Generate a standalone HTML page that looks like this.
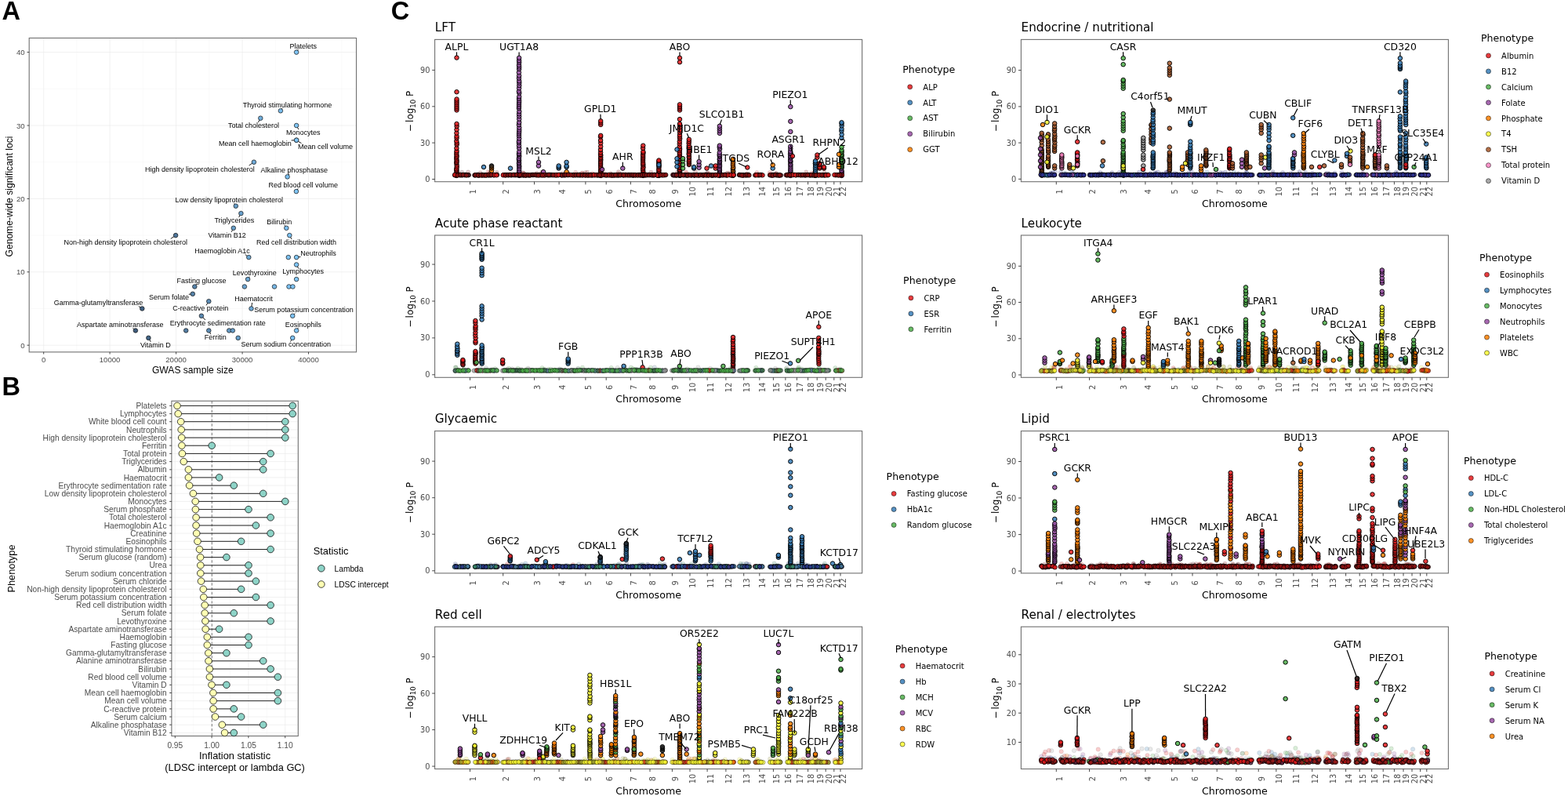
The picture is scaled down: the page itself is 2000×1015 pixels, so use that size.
<!DOCTYPE html>
<html><head><meta charset="utf-8"><title>Figure</title><style>
body{margin:0;background:#fff}
svg{display:block}
text{font-family:'Liberation Sans',Arial,sans-serif}
.big{font-size:32.5px;font-weight:bold;fill:#000}
.gmaj{stroke:#EBEBEB;stroke-width:0.7}
.gmin{stroke:#F4F4F4;stroke-width:0.5}
.bord{fill:none;stroke:#707070;stroke-width:1.1}
.tick{stroke:#333;stroke-width:0.9}
.tA{font-size:9.6px;fill:#4D4D4D}
.aA{font-size:12.1px;fill:#000}
.lA{font-size:9px;fill:#000}
.segA{stroke:#000;stroke-width:0.9}
.ptA{stroke:#111;stroke-width:0.7}
.tB{font-size:10.2px;fill:#4D4D4D}
.aB{font-size:12.8px;fill:#000}
.lgB{font-size:10.2px;fill:#000}
.segB{stroke:#222;stroke-width:1}
.ptB{stroke:#111;stroke-width:0.8}
.dash{stroke:#555;stroke-width:0.8;stroke-dasharray:3.2 2.6}
.dv{font-family:'DejaVu Sans',sans-serif}
.ttl{font-size:15.2px;fill:#000}
.tC{font-size:9.8px;fill:#4D4D4D}
.aC{font-size:12.6px;fill:#000}
.gl{font-size:12.4px;fill:#000}
.lgt{font-size:12.6px;fill:#000}
.lgl{font-size:10px;fill:#000}
.segC{stroke:#000;stroke-width:1.2}
.pc circle{stroke:#000;stroke-width:0.55;stroke-opacity:.85;fill-opacity:.85}
.bd circle{stroke:#000;stroke-width:0.5;stroke-opacity:.55;fill-opacity:.55}
.fd circle{stroke:#000;stroke-width:0.4;stroke-opacity:.15;fill-opacity:.18}
.lg circle{stroke:#000;stroke-width:0.5;fill-opacity:.85}
polyline{fill:none;stroke:none}
.F5a1a2a{marker:url(#F5a1a2a)}
.F8a1212{marker:url(#F8a1212)}
.FE41A1C{marker:url(#FE41A1C)}
.PE41A1C{marker:url(#PE41A1C)}
.P377EB8{marker:url(#P377EB8)}
.PFF7F00{marker:url(#PFF7F00)}
.P222222{marker:url(#P222222)}
.P984EA3{marker:url(#P984EA3)}
.P4DAF4A{marker:url(#P4DAF4A)}
.B5a1a2a{marker:url(#B5a1a2a)}
.BE41A1C{marker:url(#BE41A1C)}
.B8a1212{marker:url(#B8a1212)}
.F2b2f8f{marker:url(#F2b2f8f)}
.F3a3aa0{marker:url(#F3a3aa0)}
.F377EB8{marker:url(#F377EB8)}
.F984EA3{marker:url(#F984EA3)}
.PA65628{marker:url(#PA65628)}
.PFFFF33{marker:url(#PFFFF33)}
.PF781BF{marker:url(#PF781BF)}
.P999999{marker:url(#P999999)}
.B377EB8{marker:url(#B377EB8)}
.B984EA3{marker:url(#B984EA3)}
.B3a3aa0{marker:url(#B3a3aa0)}
.B2b2f8f{marker:url(#B2b2f8f)}
.F4DAF4A{marker:url(#F4DAF4A)}
.F999999{marker:url(#F999999)}
.F5a7a9a{marker:url(#F5a7a9a)}
.F3a6a4a{marker:url(#F3a6a4a)}
.CE41A1C{marker:url(#CE41A1C)}
.C999999{marker:url(#C999999)}
.C5a7a9a{marker:url(#C5a7a9a)}
.C3a6a4a{marker:url(#C3a6a4a)}
.C4DAF4A{marker:url(#C4DAF4A)}
.FFF7F00{marker:url(#FFF7F00)}
.Fa8b030{marker:url(#Fa8b030)}
.FFFFF33{marker:url(#FFFFF33)}
.F6a6a20{marker:url(#F6a6a20)}
.C6a6a20{marker:url(#C6a6a20)}
.CFF7F00{marker:url(#CFF7F00)}
.Ca8b030{marker:url(#Ca8b030)}
.CFFFF33{marker:url(#CFFFF33)}
.F2a3a8a{marker:url(#F2a3a8a)}
.F3a8a6a{marker:url(#F3a8a6a)}
.F4a7a9a{marker:url(#F4a7a9a)}
.B4a7a9a{marker:url(#B4a7a9a)}
.B3a8a6a{marker:url(#B3a8a6a)}
.B2a3a8a{marker:url(#B2a3a8a)}
.Fa0a030{marker:url(#Fa0a030)}
.Fb04020{marker:url(#Fb04020)}
.Cb04020{marker:url(#Cb04020)}
.Ca0a030{marker:url(#Ca0a030)}
.B4DAF4A{marker:url(#B4DAF4A)}
.B5a2a4a{marker:url(#B5a2a4a)}
.B9a1a1a{marker:url(#B9a1a1a)}</style></head><body>
<svg width="2000" height="1015" viewBox="0 0 2000 1015">
<rect width="2000" height="1015" fill="#fff"/>
<defs><marker id="F5a1a2a" markerUnits="userSpaceOnUse" markerWidth="8" markerHeight="8" refX="4" refY="4" overflow="visible"><circle cx="4" cy="4" r="2.7" fill="#5a1a2a" fill-opacity="0.22" stroke="#000" stroke-width="0.5" stroke-opacity="0.15"/></marker><marker id="F8a1212" markerUnits="userSpaceOnUse" markerWidth="8" markerHeight="8" refX="4" refY="4" overflow="visible"><circle cx="4" cy="4" r="2.7" fill="#8a1212" fill-opacity="0.22" stroke="#000" stroke-width="0.5" stroke-opacity="0.15"/></marker><marker id="FE41A1C" markerUnits="userSpaceOnUse" markerWidth="8" markerHeight="8" refX="4" refY="4" overflow="visible"><circle cx="4" cy="4" r="2.7" fill="#E41A1C" fill-opacity="0.22" stroke="#000" stroke-width="0.5" stroke-opacity="0.15"/></marker><marker id="PE41A1C" markerUnits="userSpaceOnUse" markerWidth="8" markerHeight="8" refX="4" refY="4" overflow="visible"><circle cx="4" cy="4" r="2.75" fill="#E41A1C" fill-opacity="0.85" stroke="#000" stroke-width="0.95" stroke-opacity="1"/></marker><marker id="P377EB8" markerUnits="userSpaceOnUse" markerWidth="8" markerHeight="8" refX="4" refY="4" overflow="visible"><circle cx="4" cy="4" r="2.75" fill="#377EB8" fill-opacity="0.85" stroke="#000" stroke-width="0.95" stroke-opacity="1"/></marker><marker id="PFF7F00" markerUnits="userSpaceOnUse" markerWidth="8" markerHeight="8" refX="4" refY="4" overflow="visible"><circle cx="4" cy="4" r="2.75" fill="#FF7F00" fill-opacity="0.85" stroke="#000" stroke-width="0.95" stroke-opacity="1"/></marker><marker id="P222222" markerUnits="userSpaceOnUse" markerWidth="8" markerHeight="8" refX="4" refY="4" overflow="visible"><circle cx="4" cy="4" r="2.75" fill="#222222" fill-opacity="0.85" stroke="#000" stroke-width="0.95" stroke-opacity="1"/></marker><marker id="P984EA3" markerUnits="userSpaceOnUse" markerWidth="8" markerHeight="8" refX="4" refY="4" overflow="visible"><circle cx="4" cy="4" r="2.75" fill="#984EA3" fill-opacity="0.85" stroke="#000" stroke-width="0.95" stroke-opacity="1"/></marker><marker id="P4DAF4A" markerUnits="userSpaceOnUse" markerWidth="8" markerHeight="8" refX="4" refY="4" overflow="visible"><circle cx="4" cy="4" r="2.75" fill="#4DAF4A" fill-opacity="0.85" stroke="#000" stroke-width="0.95" stroke-opacity="1"/></marker><marker id="B5a1a2a" markerUnits="userSpaceOnUse" markerWidth="8" markerHeight="8" refX="4" refY="4" overflow="visible"><circle cx="4" cy="4" r="2.7" fill="#5a1a2a" fill-opacity="0.85" stroke="#000" stroke-width="0.85" stroke-opacity="0.85"/></marker><marker id="BE41A1C" markerUnits="userSpaceOnUse" markerWidth="8" markerHeight="8" refX="4" refY="4" overflow="visible"><circle cx="4" cy="4" r="2.7" fill="#E41A1C" fill-opacity="0.85" stroke="#000" stroke-width="0.85" stroke-opacity="0.85"/></marker><marker id="B8a1212" markerUnits="userSpaceOnUse" markerWidth="8" markerHeight="8" refX="4" refY="4" overflow="visible"><circle cx="4" cy="4" r="2.7" fill="#8a1212" fill-opacity="0.85" stroke="#000" stroke-width="0.85" stroke-opacity="0.85"/></marker><marker id="F2b2f8f" markerUnits="userSpaceOnUse" markerWidth="8" markerHeight="8" refX="4" refY="4" overflow="visible"><circle cx="4" cy="4" r="2.7" fill="#2b2f8f" fill-opacity="0.22" stroke="#000" stroke-width="0.5" stroke-opacity="0.15"/></marker><marker id="F3a3aa0" markerUnits="userSpaceOnUse" markerWidth="8" markerHeight="8" refX="4" refY="4" overflow="visible"><circle cx="4" cy="4" r="2.7" fill="#3a3aa0" fill-opacity="0.22" stroke="#000" stroke-width="0.5" stroke-opacity="0.15"/></marker><marker id="F377EB8" markerUnits="userSpaceOnUse" markerWidth="8" markerHeight="8" refX="4" refY="4" overflow="visible"><circle cx="4" cy="4" r="2.7" fill="#377EB8" fill-opacity="0.22" stroke="#000" stroke-width="0.5" stroke-opacity="0.15"/></marker><marker id="F984EA3" markerUnits="userSpaceOnUse" markerWidth="8" markerHeight="8" refX="4" refY="4" overflow="visible"><circle cx="4" cy="4" r="2.7" fill="#984EA3" fill-opacity="0.22" stroke="#000" stroke-width="0.5" stroke-opacity="0.15"/></marker><marker id="PA65628" markerUnits="userSpaceOnUse" markerWidth="8" markerHeight="8" refX="4" refY="4" overflow="visible"><circle cx="4" cy="4" r="2.75" fill="#A65628" fill-opacity="0.85" stroke="#000" stroke-width="0.95" stroke-opacity="1"/></marker><marker id="PFFFF33" markerUnits="userSpaceOnUse" markerWidth="8" markerHeight="8" refX="4" refY="4" overflow="visible"><circle cx="4" cy="4" r="2.75" fill="#FFFF33" fill-opacity="0.85" stroke="#000" stroke-width="0.95" stroke-opacity="1"/></marker><marker id="PF781BF" markerUnits="userSpaceOnUse" markerWidth="8" markerHeight="8" refX="4" refY="4" overflow="visible"><circle cx="4" cy="4" r="2.75" fill="#F781BF" fill-opacity="0.85" stroke="#000" stroke-width="0.95" stroke-opacity="1"/></marker><marker id="P999999" markerUnits="userSpaceOnUse" markerWidth="8" markerHeight="8" refX="4" refY="4" overflow="visible"><circle cx="4" cy="4" r="2.75" fill="#999999" fill-opacity="0.85" stroke="#000" stroke-width="0.95" stroke-opacity="1"/></marker><marker id="B377EB8" markerUnits="userSpaceOnUse" markerWidth="8" markerHeight="8" refX="4" refY="4" overflow="visible"><circle cx="4" cy="4" r="2.7" fill="#377EB8" fill-opacity="0.85" stroke="#000" stroke-width="0.85" stroke-opacity="0.85"/></marker><marker id="B984EA3" markerUnits="userSpaceOnUse" markerWidth="8" markerHeight="8" refX="4" refY="4" overflow="visible"><circle cx="4" cy="4" r="2.7" fill="#984EA3" fill-opacity="0.85" stroke="#000" stroke-width="0.85" stroke-opacity="0.85"/></marker><marker id="B3a3aa0" markerUnits="userSpaceOnUse" markerWidth="8" markerHeight="8" refX="4" refY="4" overflow="visible"><circle cx="4" cy="4" r="2.7" fill="#3a3aa0" fill-opacity="0.85" stroke="#000" stroke-width="0.85" stroke-opacity="0.85"/></marker><marker id="B2b2f8f" markerUnits="userSpaceOnUse" markerWidth="8" markerHeight="8" refX="4" refY="4" overflow="visible"><circle cx="4" cy="4" r="2.7" fill="#2b2f8f" fill-opacity="0.85" stroke="#000" stroke-width="0.85" stroke-opacity="0.85"/></marker><marker id="F4DAF4A" markerUnits="userSpaceOnUse" markerWidth="8" markerHeight="8" refX="4" refY="4" overflow="visible"><circle cx="4" cy="4" r="2.7" fill="#4DAF4A" fill-opacity="0.22" stroke="#000" stroke-width="0.5" stroke-opacity="0.15"/></marker><marker id="F999999" markerUnits="userSpaceOnUse" markerWidth="8" markerHeight="8" refX="4" refY="4" overflow="visible"><circle cx="4" cy="4" r="2.7" fill="#999999" fill-opacity="0.22" stroke="#000" stroke-width="0.5" stroke-opacity="0.15"/></marker><marker id="F5a7a9a" markerUnits="userSpaceOnUse" markerWidth="8" markerHeight="8" refX="4" refY="4" overflow="visible"><circle cx="4" cy="4" r="2.7" fill="#5a7a9a" fill-opacity="0.22" stroke="#000" stroke-width="0.5" stroke-opacity="0.15"/></marker><marker id="F3a6a4a" markerUnits="userSpaceOnUse" markerWidth="8" markerHeight="8" refX="4" refY="4" overflow="visible"><circle cx="4" cy="4" r="2.7" fill="#3a6a4a" fill-opacity="0.22" stroke="#000" stroke-width="0.5" stroke-opacity="0.15"/></marker><marker id="CE41A1C" markerUnits="userSpaceOnUse" markerWidth="8" markerHeight="8" refX="4" refY="4" overflow="visible"><circle cx="4" cy="4" r="2.7" fill="#E41A1C" fill-opacity="0.7" stroke="#000" stroke-width="0.7" stroke-opacity="0.5"/></marker><marker id="C999999" markerUnits="userSpaceOnUse" markerWidth="8" markerHeight="8" refX="4" refY="4" overflow="visible"><circle cx="4" cy="4" r="2.7" fill="#999999" fill-opacity="0.7" stroke="#000" stroke-width="0.7" stroke-opacity="0.5"/></marker><marker id="C5a7a9a" markerUnits="userSpaceOnUse" markerWidth="8" markerHeight="8" refX="4" refY="4" overflow="visible"><circle cx="4" cy="4" r="2.7" fill="#5a7a9a" fill-opacity="0.7" stroke="#000" stroke-width="0.7" stroke-opacity="0.5"/></marker><marker id="C3a6a4a" markerUnits="userSpaceOnUse" markerWidth="8" markerHeight="8" refX="4" refY="4" overflow="visible"><circle cx="4" cy="4" r="2.7" fill="#3a6a4a" fill-opacity="0.7" stroke="#000" stroke-width="0.7" stroke-opacity="0.5"/></marker><marker id="C4DAF4A" markerUnits="userSpaceOnUse" markerWidth="8" markerHeight="8" refX="4" refY="4" overflow="visible"><circle cx="4" cy="4" r="2.7" fill="#4DAF4A" fill-opacity="0.7" stroke="#000" stroke-width="0.7" stroke-opacity="0.5"/></marker><marker id="FFF7F00" markerUnits="userSpaceOnUse" markerWidth="8" markerHeight="8" refX="4" refY="4" overflow="visible"><circle cx="4" cy="4" r="2.7" fill="#FF7F00" fill-opacity="0.22" stroke="#000" stroke-width="0.5" stroke-opacity="0.15"/></marker><marker id="Fa8b030" markerUnits="userSpaceOnUse" markerWidth="8" markerHeight="8" refX="4" refY="4" overflow="visible"><circle cx="4" cy="4" r="2.7" fill="#a8b030" fill-opacity="0.22" stroke="#000" stroke-width="0.5" stroke-opacity="0.15"/></marker><marker id="FFFFF33" markerUnits="userSpaceOnUse" markerWidth="8" markerHeight="8" refX="4" refY="4" overflow="visible"><circle cx="4" cy="4" r="2.7" fill="#FFFF33" fill-opacity="0.22" stroke="#000" stroke-width="0.5" stroke-opacity="0.15"/></marker><marker id="F6a6a20" markerUnits="userSpaceOnUse" markerWidth="8" markerHeight="8" refX="4" refY="4" overflow="visible"><circle cx="4" cy="4" r="2.7" fill="#6a6a20" fill-opacity="0.22" stroke="#000" stroke-width="0.5" stroke-opacity="0.15"/></marker><marker id="C6a6a20" markerUnits="userSpaceOnUse" markerWidth="8" markerHeight="8" refX="4" refY="4" overflow="visible"><circle cx="4" cy="4" r="2.7" fill="#6a6a20" fill-opacity="0.7" stroke="#000" stroke-width="0.7" stroke-opacity="0.5"/></marker><marker id="CFF7F00" markerUnits="userSpaceOnUse" markerWidth="8" markerHeight="8" refX="4" refY="4" overflow="visible"><circle cx="4" cy="4" r="2.7" fill="#FF7F00" fill-opacity="0.7" stroke="#000" stroke-width="0.7" stroke-opacity="0.5"/></marker><marker id="Ca8b030" markerUnits="userSpaceOnUse" markerWidth="8" markerHeight="8" refX="4" refY="4" overflow="visible"><circle cx="4" cy="4" r="2.7" fill="#a8b030" fill-opacity="0.7" stroke="#000" stroke-width="0.7" stroke-opacity="0.5"/></marker><marker id="CFFFF33" markerUnits="userSpaceOnUse" markerWidth="8" markerHeight="8" refX="4" refY="4" overflow="visible"><circle cx="4" cy="4" r="2.7" fill="#FFFF33" fill-opacity="0.7" stroke="#000" stroke-width="0.7" stroke-opacity="0.5"/></marker><marker id="F2a3a8a" markerUnits="userSpaceOnUse" markerWidth="8" markerHeight="8" refX="4" refY="4" overflow="visible"><circle cx="4" cy="4" r="2.7" fill="#2a3a8a" fill-opacity="0.22" stroke="#000" stroke-width="0.5" stroke-opacity="0.15"/></marker><marker id="F3a8a6a" markerUnits="userSpaceOnUse" markerWidth="8" markerHeight="8" refX="4" refY="4" overflow="visible"><circle cx="4" cy="4" r="2.7" fill="#3a8a6a" fill-opacity="0.22" stroke="#000" stroke-width="0.5" stroke-opacity="0.15"/></marker><marker id="F4a7a9a" markerUnits="userSpaceOnUse" markerWidth="8" markerHeight="8" refX="4" refY="4" overflow="visible"><circle cx="4" cy="4" r="2.7" fill="#4a7a9a" fill-opacity="0.22" stroke="#000" stroke-width="0.5" stroke-opacity="0.15"/></marker><marker id="B4a7a9a" markerUnits="userSpaceOnUse" markerWidth="8" markerHeight="8" refX="4" refY="4" overflow="visible"><circle cx="4" cy="4" r="2.7" fill="#4a7a9a" fill-opacity="0.85" stroke="#000" stroke-width="0.85" stroke-opacity="0.85"/></marker><marker id="B3a8a6a" markerUnits="userSpaceOnUse" markerWidth="8" markerHeight="8" refX="4" refY="4" overflow="visible"><circle cx="4" cy="4" r="2.7" fill="#3a8a6a" fill-opacity="0.85" stroke="#000" stroke-width="0.85" stroke-opacity="0.85"/></marker><marker id="B2a3a8a" markerUnits="userSpaceOnUse" markerWidth="8" markerHeight="8" refX="4" refY="4" overflow="visible"><circle cx="4" cy="4" r="2.7" fill="#2a3a8a" fill-opacity="0.85" stroke="#000" stroke-width="0.85" stroke-opacity="0.85"/></marker><marker id="Fa0a030" markerUnits="userSpaceOnUse" markerWidth="8" markerHeight="8" refX="4" refY="4" overflow="visible"><circle cx="4" cy="4" r="2.7" fill="#a0a030" fill-opacity="0.22" stroke="#000" stroke-width="0.5" stroke-opacity="0.15"/></marker><marker id="Fb04020" markerUnits="userSpaceOnUse" markerWidth="8" markerHeight="8" refX="4" refY="4" overflow="visible"><circle cx="4" cy="4" r="2.7" fill="#b04020" fill-opacity="0.22" stroke="#000" stroke-width="0.5" stroke-opacity="0.15"/></marker><marker id="Cb04020" markerUnits="userSpaceOnUse" markerWidth="8" markerHeight="8" refX="4" refY="4" overflow="visible"><circle cx="4" cy="4" r="2.7" fill="#b04020" fill-opacity="0.7" stroke="#000" stroke-width="0.7" stroke-opacity="0.5"/></marker><marker id="Ca0a030" markerUnits="userSpaceOnUse" markerWidth="8" markerHeight="8" refX="4" refY="4" overflow="visible"><circle cx="4" cy="4" r="2.7" fill="#a0a030" fill-opacity="0.7" stroke="#000" stroke-width="0.7" stroke-opacity="0.5"/></marker><marker id="B4DAF4A" markerUnits="userSpaceOnUse" markerWidth="8" markerHeight="8" refX="4" refY="4" overflow="visible"><circle cx="4" cy="4" r="2.7" fill="#4DAF4A" fill-opacity="0.85" stroke="#000" stroke-width="0.85" stroke-opacity="0.85"/></marker><marker id="B5a2a4a" markerUnits="userSpaceOnUse" markerWidth="8" markerHeight="8" refX="4" refY="4" overflow="visible"><circle cx="4" cy="4" r="2.7" fill="#5a2a4a" fill-opacity="0.85" stroke="#000" stroke-width="0.85" stroke-opacity="0.85"/></marker><marker id="B9a1a1a" markerUnits="userSpaceOnUse" markerWidth="8" markerHeight="8" refX="4" refY="4" overflow="visible"><circle cx="4" cy="4" r="2.7" fill="#9a1a1a" fill-opacity="0.85" stroke="#000" stroke-width="0.85" stroke-opacity="0.85"/></marker></defs>
<text class="big" x="2.6" y="25.2">A</text>
<text class="big" x="2.6" y="504.4">B</text>
<text class="big" x="498.8" y="25.2">C</text>
<rect x="37.2" y="48.5" width="417.3" height="400.4" fill="#fff"/>
<line class="gmin" x1="97.9" y1="48.5" x2="97.9" y2="448.9"/>
<line class="gmin" x1="182.4" y1="48.5" x2="182.4" y2="448.9"/>
<line class="gmin" x1="266.8" y1="48.5" x2="266.8" y2="448.9"/>
<line class="gmin" x1="351.3" y1="48.5" x2="351.3" y2="448.9"/>
<line class="gmin" x1="435.7" y1="48.5" x2="435.7" y2="448.9"/>
<line class="gmin" x1="37.2" y1="393.5" x2="454.5" y2="393.5"/>
<line class="gmin" x1="37.2" y1="300.1" x2="454.5" y2="300.1"/>
<line class="gmin" x1="37.2" y1="206.7" x2="454.5" y2="206.7"/>
<line class="gmin" x1="37.2" y1="113.3" x2="454.5" y2="113.3"/>
<line class="gmaj" x1="55.7" y1="48.5" x2="55.7" y2="448.9"/>
<line class="gmaj" x1="140.1" y1="48.5" x2="140.1" y2="448.9"/>
<line class="gmaj" x1="224.6" y1="48.5" x2="224.6" y2="448.9"/>
<line class="gmaj" x1="309.1" y1="48.5" x2="309.1" y2="448.9"/>
<line class="gmaj" x1="393.5" y1="48.5" x2="393.5" y2="448.9"/>
<line class="gmaj" x1="37.2" y1="440.2" x2="454.5" y2="440.2"/>
<line class="gmaj" x1="37.2" y1="346.8" x2="454.5" y2="346.8"/>
<line class="gmaj" x1="37.2" y1="253.4" x2="454.5" y2="253.4"/>
<line class="gmaj" x1="37.2" y1="160" x2="454.5" y2="160"/>
<line class="gmaj" x1="37.2" y1="66.6" x2="454.5" y2="66.6"/>
<rect class="bord" x="37.2" y="48.5" width="417.3" height="400.4"/>
<line class="tick" x1="34.5" y1="440.2" x2="37.2" y2="440.2"/>
<text class="tA" text-anchor="end" x="31.6" y="443.7">0</text>
<line class="tick" x1="34.5" y1="346.8" x2="37.2" y2="346.8"/>
<text class="tA" text-anchor="end" x="31.6" y="350.3">10</text>
<line class="tick" x1="34.5" y1="253.4" x2="37.2" y2="253.4"/>
<text class="tA" text-anchor="end" x="31.6" y="256.9">20</text>
<line class="tick" x1="34.5" y1="160" x2="37.2" y2="160"/>
<text class="tA" text-anchor="end" x="31.6" y="163.5">30</text>
<line class="tick" x1="34.5" y1="66.6" x2="37.2" y2="66.6"/>
<text class="tA" text-anchor="end" x="31.6" y="70.1">40</text>
<line class="tick" x1="55.7" y1="448.9" x2="55.7" y2="451.6"/>
<text class="tA" text-anchor="middle" x="55.7" y="461.6">0</text>
<line class="tick" x1="140.1" y1="448.9" x2="140.1" y2="451.6"/>
<text class="tA" text-anchor="middle" x="140.1" y="461.6">10000</text>
<line class="tick" x1="224.6" y1="448.9" x2="224.6" y2="451.6"/>
<text class="tA" text-anchor="middle" x="224.6" y="461.6">20000</text>
<line class="tick" x1="309.1" y1="448.9" x2="309.1" y2="451.6"/>
<text class="tA" text-anchor="middle" x="309.1" y="461.6">30000</text>
<line class="tick" x1="393.5" y1="448.9" x2="393.5" y2="451.6"/>
<text class="tA" text-anchor="middle" x="393.5" y="461.6">40000</text>
<text class="aA" text-anchor="middle" x="245.8" y="475.5">GWAS sample size</text>
<text class="aA" text-anchor="middle" transform="translate(15.6 250.5) rotate(-90)">Genome-wide significant loci</text>
<line class="segA" x1="378.1" y1="66.6" x2="380.4" y2="63"/>
<line class="segA" x1="357.9" y1="141.3" x2="360.1" y2="137.9"/>
<line class="segA" x1="332.3" y1="150.7" x2="329.4" y2="156"/>
<line class="segA" x1="378.1" y1="160" x2="380.9" y2="165.1"/>
<line class="segA" x1="378.1" y1="178.7" x2="371.6" y2="179"/>
<line class="segA" x1="378.1" y1="178.7" x2="384.5" y2="182.8"/>
<line class="segA" x1="323.9" y1="206.7" x2="317.6" y2="211"/>
<line class="segA" x1="366.6" y1="225.4" x2="368.9" y2="221.6"/>
<line class="segA" x1="377.9" y1="244.1" x2="380.3" y2="240.3"/>
<line class="segA" x1="300.8" y1="262.7" x2="298.6" y2="259.3"/>
<line class="segA" x1="307.4" y1="272.1" x2="304.6" y2="277.1"/>
<line class="segA" x1="365.3" y1="290.8" x2="362.9" y2="287.1"/>
<line class="segA" x1="297.8" y1="290.8" x2="295.2" y2="295.8"/>
<line class="segA" x1="369.3" y1="300.1" x2="372.1" y2="305.2"/>
<line class="segA" x1="224.1" y1="300.1" x2="217.8" y2="304.4"/>
<line class="segA" x1="317.3" y1="328.1" x2="312.6" y2="324.4"/>
<line class="segA" x1="378.1" y1="328.1" x2="383.4" y2="327.5"/>
<line class="segA" x1="378.1" y1="337.5" x2="380.9" y2="342.6"/>
<line class="segA" x1="316.1" y1="356.1" x2="318.3" y2="352.6"/>
<line class="segA" x1="248.3" y1="365.5" x2="250.6" y2="361.9"/>
<line class="segA" x1="245.8" y1="374.8" x2="240.8" y2="375.3"/>
<line class="segA" x1="266.3" y1="384.2" x2="263" y2="389.4"/>
<line class="segA" x1="320.5" y1="393.5" x2="321.6" y2="386"/>
<line class="segA" x1="181.3" y1="393.5" x2="176.8" y2="390.5"/>
<line class="segA" x1="373.2" y1="402.8" x2="376.2" y2="399.5"/>
<line class="segA" x1="256.9" y1="402.8" x2="261.9" y2="408"/>
<line class="segA" x1="266.3" y1="421.5" x2="268.9" y2="426.3"/>
<line class="segA" x1="378.1" y1="421.5" x2="380.4" y2="417.9"/>
<line class="segA" x1="172.9" y1="421.5" x2="169.4" y2="418.2"/>
<line class="segA" x1="373.2" y1="430.9" x2="370.5" y2="435.7"/>
<line class="segA" x1="189.4" y1="430.9" x2="192.2" y2="435.8"/>
<circle class="ptA" cx="378.1" cy="66.6" r="2.8" fill="#80c6f7"/>
<circle class="ptA" cx="357.9" cy="141.3" r="2.8" fill="#7abceb"/>
<circle class="ptA" cx="332.3" cy="150.7" r="2.8" fill="#71aedc"/>
<circle class="ptA" cx="378.1" cy="160" r="2.8" fill="#80c6f7"/>
<circle class="ptA" cx="378.1" cy="178.7" r="2.8" fill="#80c6f7"/>
<circle class="ptA" cx="378.1" cy="178.7" r="2.8" fill="#80c6f7"/>
<circle class="ptA" cx="323.9" cy="206.7" r="2.8" fill="#6faad7"/>
<circle class="ptA" cx="366.6" cy="225.4" r="2.8" fill="#7cc0f0"/>
<circle class="ptA" cx="377.9" cy="244.1" r="2.8" fill="#80c6f7"/>
<circle class="ptA" cx="300.8" cy="262.7" r="2.8" fill="#679ec9"/>
<circle class="ptA" cx="307.4" cy="272.1" r="2.8" fill="#69a1cd"/>
<circle class="ptA" cx="365.3" cy="290.8" r="2.8" fill="#7cbfef"/>
<circle class="ptA" cx="297.8" cy="290.8" r="2.8" fill="#669dc7"/>
<circle class="ptA" cx="369.3" cy="300.1" r="2.8" fill="#7dc1f2"/>
<circle class="ptA" cx="224.1" cy="300.1" r="2.8" fill="#4e769b"/>
<circle class="ptA" cx="317.3" cy="328.1" r="2.8" fill="#6ca7d3"/>
<circle class="ptA" cx="367.8" cy="328.1" r="2.8" fill="#7dc1f1"/>
<circle class="ptA" cx="378.1" cy="328.1" r="2.8" fill="#80c6f7"/>
<circle class="ptA" cx="378.1" cy="337.5" r="2.8" fill="#80c6f7"/>
<circle class="ptA" cx="316.1" cy="356.1" r="2.8" fill="#6ca6d2"/>
<circle class="ptA" cx="378.1" cy="356.1" r="2.8" fill="#80c6f7"/>
<circle class="ptA" cx="311.9" cy="365.5" r="2.8" fill="#6ba4d0"/>
<circle class="ptA" cx="350" cy="365.5" r="2.8" fill="#77b7e6"/>
<circle class="ptA" cx="368.5" cy="365.5" r="2.8" fill="#7dc1f1"/>
<circle class="ptA" cx="373.4" cy="365.5" r="2.8" fill="#7ec4f4"/>
<circle class="ptA" cx="248.3" cy="365.5" r="2.8" fill="#5683aa"/>
<circle class="ptA" cx="245.8" cy="374.8" r="2.8" fill="#5582a8"/>
<circle class="ptA" cx="266.3" cy="384.2" r="2.8" fill="#5c8cb5"/>
<circle class="ptA" cx="320.5" cy="393.5" r="2.8" fill="#6da8d5"/>
<circle class="ptA" cx="181.3" cy="393.5" r="2.8" fill="#416082"/>
<circle class="ptA" cx="373.2" cy="402.8" r="2.8" fill="#7ec3f4"/>
<circle class="ptA" cx="256.9" cy="402.8" r="2.8" fill="#5987af"/>
<circle class="ptA" cx="237.2" cy="421.5" r="2.8" fill="#537da3"/>
<circle class="ptA" cx="266.3" cy="421.5" r="2.8" fill="#5c8cb5"/>
<circle class="ptA" cx="292.2" cy="421.5" r="2.8" fill="#649ac4"/>
<circle class="ptA" cx="296.8" cy="421.5" r="2.8" fill="#669cc7"/>
<circle class="ptA" cx="378.1" cy="421.5" r="2.8" fill="#80c6f7"/>
<circle class="ptA" cx="172.9" cy="421.5" r="2.8" fill="#3e5c7d"/>
<circle class="ptA" cx="303.7" cy="430.9" r="2.8" fill="#68a0cb"/>
<circle class="ptA" cx="373.2" cy="430.9" r="2.8" fill="#7ec3f4"/>
<circle class="ptA" cx="189.4" cy="430.9" r="2.8" fill="#436587"/>
<text class="lA" text-anchor="middle" x="386.7" y="61.7">Platelets</text>
<text class="lA" text-anchor="middle" x="366.6" y="136.6">Thyroid stimulating hormone</text>
<text class="lA" text-anchor="middle" x="323.4" y="162.7">Total cholesterol</text>
<text class="lA" text-anchor="middle" x="386.7" y="171.8">Monocytes</text>
<text class="lA" text-anchor="middle" x="325.4" y="185.8">Mean cell haemoglobin</text>
<text class="lA" text-anchor="middle" x="415.1" y="190.2">Mean cell volume</text>
<text class="lA" text-anchor="middle" x="254.9" y="218.6">High density lipoprotein cholesterol</text>
<text class="lA" text-anchor="middle" x="375.2" y="220.3">Alkaline phosphatase</text>
<text class="lA" text-anchor="middle" x="386.7" y="239">Red blood cell volume</text>
<text class="lA" text-anchor="middle" x="292.2" y="258">Low density lipoprotein cholesterol</text>
<text class="lA" text-anchor="middle" x="298.8" y="283.8">Triglycerides</text>
<text class="lA" text-anchor="middle" x="356.2" y="285.8">Bilirubin</text>
<text class="lA" text-anchor="middle" x="289.7" y="302.5">Vitamin B12</text>
<text class="lA" text-anchor="middle" x="378.1" y="311.9">Red cell distribution width</text>
<text class="lA" text-anchor="middle" x="160.3" y="311.9">Non-high density lipoprotein cholesterol</text>
<text class="lA" text-anchor="middle" x="283.5" y="323">Haemoglobin A1c</text>
<text class="lA" text-anchor="middle" x="406.1" y="326.2">Neutrophils</text>
<text class="lA" text-anchor="middle" x="386.7" y="349.3">Lymphocytes</text>
<text class="lA" text-anchor="middle" x="324.7" y="351.3">Levothyroxine</text>
<text class="lA" text-anchor="middle" x="257" y="360.6">Fasting glucose</text>
<text class="lA" text-anchor="middle" x="215.4" y="381.6">Serum folate</text>
<text class="lA" text-anchor="middle" x="255.7" y="396.1">C-reactive protein</text>
<text class="lA" text-anchor="middle" x="323.4" y="383.8">Haematocrit</text>
<text class="lA" text-anchor="middle" x="125.6" y="389">Gamma-glutamyltransferase</text>
<text class="lA" text-anchor="middle" x="387.5" y="398.1">Serum potassium concentration</text>
<text class="lA" text-anchor="middle" x="277.8" y="414.8">Erythrocyte sedimentation rate</text>
<text class="lA" text-anchor="middle" x="274.7" y="433">Ferritin</text>
<text class="lA" text-anchor="middle" x="386.7" y="416.6">Eosinophils</text>
<text class="lA" text-anchor="middle" x="153.3" y="416.8">Aspartate aminotransferase</text>
<text class="lA" text-anchor="middle" x="364.8" y="442.4">Serum sodium concentration</text>
<text class="lA" text-anchor="middle" x="198.4" y="442.5">Vitamin D</text>
<line class="gmaj" x1="223.3" y1="511.3" x2="223.3" y2="938.5"/>
<line class="gmin" x1="246.7" y1="511.3" x2="246.7" y2="938.5"/>
<line class="gmaj" x1="270.1" y1="511.3" x2="270.1" y2="938.5"/>
<line class="gmin" x1="293.5" y1="511.3" x2="293.5" y2="938.5"/>
<line class="gmaj" x1="316.9" y1="511.3" x2="316.9" y2="938.5"/>
<line class="gmin" x1="340.3" y1="511.3" x2="340.3" y2="938.5"/>
<line class="gmaj" x1="363.7" y1="511.3" x2="363.7" y2="938.5"/>
<line class="gmaj" x1="218.9" y1="517.4" x2="380.3" y2="517.4"/>
<line class="gmaj" x1="218.9" y1="527.6" x2="380.3" y2="527.6"/>
<line class="gmaj" x1="218.9" y1="537.7" x2="380.3" y2="537.7"/>
<line class="gmaj" x1="218.9" y1="547.9" x2="380.3" y2="547.9"/>
<line class="gmaj" x1="218.9" y1="558.1" x2="380.3" y2="558.1"/>
<line class="gmaj" x1="218.9" y1="568.2" x2="380.3" y2="568.2"/>
<line class="gmaj" x1="218.9" y1="578.4" x2="380.3" y2="578.4"/>
<line class="gmaj" x1="218.9" y1="588.6" x2="380.3" y2="588.6"/>
<line class="gmaj" x1="218.9" y1="598.8" x2="380.3" y2="598.8"/>
<line class="gmaj" x1="218.9" y1="608.9" x2="380.3" y2="608.9"/>
<line class="gmaj" x1="218.9" y1="619.1" x2="380.3" y2="619.1"/>
<line class="gmaj" x1="218.9" y1="629.3" x2="380.3" y2="629.3"/>
<line class="gmaj" x1="218.9" y1="639.4" x2="380.3" y2="639.4"/>
<line class="gmaj" x1="218.9" y1="649.6" x2="380.3" y2="649.6"/>
<line class="gmaj" x1="218.9" y1="659.8" x2="380.3" y2="659.8"/>
<line class="gmaj" x1="218.9" y1="670" x2="380.3" y2="670"/>
<line class="gmaj" x1="218.9" y1="680.1" x2="380.3" y2="680.1"/>
<line class="gmaj" x1="218.9" y1="690.3" x2="380.3" y2="690.3"/>
<line class="gmaj" x1="218.9" y1="700.5" x2="380.3" y2="700.5"/>
<line class="gmaj" x1="218.9" y1="710.6" x2="380.3" y2="710.6"/>
<line class="gmaj" x1="218.9" y1="720.8" x2="380.3" y2="720.8"/>
<line class="gmaj" x1="218.9" y1="731" x2="380.3" y2="731"/>
<line class="gmaj" x1="218.9" y1="741.1" x2="380.3" y2="741.1"/>
<line class="gmaj" x1="218.9" y1="751.3" x2="380.3" y2="751.3"/>
<line class="gmaj" x1="218.9" y1="761.5" x2="380.3" y2="761.5"/>
<line class="gmaj" x1="218.9" y1="771.6" x2="380.3" y2="771.6"/>
<line class="gmaj" x1="218.9" y1="781.8" x2="380.3" y2="781.8"/>
<line class="gmaj" x1="218.9" y1="792" x2="380.3" y2="792"/>
<line class="gmaj" x1="218.9" y1="802.2" x2="380.3" y2="802.2"/>
<line class="gmaj" x1="218.9" y1="812.3" x2="380.3" y2="812.3"/>
<line class="gmaj" x1="218.9" y1="822.5" x2="380.3" y2="822.5"/>
<line class="gmaj" x1="218.9" y1="832.7" x2="380.3" y2="832.7"/>
<line class="gmaj" x1="218.9" y1="842.8" x2="380.3" y2="842.8"/>
<line class="gmaj" x1="218.9" y1="853" x2="380.3" y2="853"/>
<line class="gmaj" x1="218.9" y1="863.2" x2="380.3" y2="863.2"/>
<line class="gmaj" x1="218.9" y1="873.3" x2="380.3" y2="873.3"/>
<line class="gmaj" x1="218.9" y1="883.5" x2="380.3" y2="883.5"/>
<line class="gmaj" x1="218.9" y1="893.7" x2="380.3" y2="893.7"/>
<line class="gmaj" x1="218.9" y1="903.9" x2="380.3" y2="903.9"/>
<line class="gmaj" x1="218.9" y1="914" x2="380.3" y2="914"/>
<line class="gmaj" x1="218.9" y1="924.2" x2="380.3" y2="924.2"/>
<line class="gmaj" x1="218.9" y1="934.4" x2="380.3" y2="934.4"/>
<line class="dash" x1="270.3" y1="511.3" x2="270.3" y2="938.5"/>
<rect class="bord" x="218.9" y="511.3" width="161.4" height="427.2"/>
<line class="segB" x1="226" y1="517.4" x2="373.2" y2="517.4"/>
<line class="segB" x1="227.2" y1="527.6" x2="373.2" y2="527.6"/>
<line class="segB" x1="230.7" y1="537.7" x2="363.8" y2="537.7"/>
<line class="segB" x1="231.2" y1="547.9" x2="363.8" y2="547.9"/>
<line class="segB" x1="231.7" y1="558.1" x2="363.8" y2="558.1"/>
<line class="segB" x1="231.9" y1="568.2" x2="270.2" y2="568.2"/>
<line class="segB" x1="232.4" y1="578.4" x2="345.1" y2="578.4"/>
<line class="segB" x1="234.3" y1="588.6" x2="335.7" y2="588.6"/>
<line class="segB" x1="240.4" y1="598.8" x2="335.7" y2="598.8"/>
<line class="segB" x1="240.4" y1="608.9" x2="279.6" y2="608.9"/>
<line class="segB" x1="241.6" y1="619.1" x2="298.3" y2="619.1"/>
<line class="segB" x1="246.4" y1="629.3" x2="335.7" y2="629.3"/>
<line class="segB" x1="249.2" y1="639.4" x2="363.8" y2="639.4"/>
<line class="segB" x1="249.4" y1="649.6" x2="317" y2="649.6"/>
<line class="segB" x1="250.1" y1="659.8" x2="345.1" y2="659.8"/>
<line class="segB" x1="250.1" y1="670" x2="326.4" y2="670"/>
<line class="segB" x1="250.7" y1="680.1" x2="345.1" y2="680.1"/>
<line class="segB" x1="252" y1="690.3" x2="307.6" y2="690.3"/>
<line class="segB" x1="254.5" y1="700.5" x2="345.1" y2="700.5"/>
<line class="segB" x1="255.6" y1="710.6" x2="288.9" y2="710.6"/>
<line class="segB" x1="255.8" y1="720.8" x2="317" y2="720.8"/>
<line class="segB" x1="255.8" y1="731" x2="317" y2="731"/>
<line class="segB" x1="256.5" y1="741.1" x2="326.4" y2="741.1"/>
<line class="segB" x1="259.3" y1="751.3" x2="307.6" y2="751.3"/>
<line class="segB" x1="259.8" y1="761.5" x2="326.4" y2="761.5"/>
<line class="segB" x1="261.2" y1="771.6" x2="345.1" y2="771.6"/>
<line class="segB" x1="261.2" y1="781.8" x2="298.3" y2="781.8"/>
<line class="segB" x1="261.9" y1="792" x2="345.1" y2="792"/>
<line class="segB" x1="262.2" y1="802.2" x2="279.6" y2="802.2"/>
<line class="segB" x1="264.3" y1="812.3" x2="317" y2="812.3"/>
<line class="segB" x1="264.3" y1="822.5" x2="317" y2="822.5"/>
<line class="segB" x1="265.8" y1="832.7" x2="288.9" y2="832.7"/>
<line class="segB" x1="266" y1="842.8" x2="335.7" y2="842.8"/>
<line class="segB" x1="267.4" y1="853" x2="345.1" y2="853"/>
<line class="segB" x1="267.4" y1="863.2" x2="354.4" y2="863.2"/>
<line class="segB" x1="270" y1="873.3" x2="288.9" y2="873.3"/>
<line class="segB" x1="271.9" y1="883.5" x2="354.4" y2="883.5"/>
<line class="segB" x1="272.1" y1="893.7" x2="354.4" y2="893.7"/>
<line class="segB" x1="272.1" y1="903.9" x2="298.3" y2="903.9"/>
<line class="segB" x1="274.5" y1="914" x2="307.6" y2="914"/>
<line class="segB" x1="283.3" y1="924.2" x2="335.7" y2="924.2"/>
<line class="segB" x1="286.6" y1="934.4" x2="298.3" y2="934.4"/>
<circle class="ptB" cx="226" cy="517.4" r="4.3" fill="#FFFFB3"/>
<circle class="ptB" cx="373.2" cy="517.4" r="4.3" fill="#8DD3C7"/>
<line class="tick" x1="216.2" y1="517.4" x2="218.9" y2="517.4"/>
<text class="tB" text-anchor="end" x="212.6" y="521">Platelets</text>
<circle class="ptB" cx="227.2" cy="527.6" r="4.3" fill="#FFFFB3"/>
<circle class="ptB" cx="373.2" cy="527.6" r="4.3" fill="#8DD3C7"/>
<line class="tick" x1="216.2" y1="527.6" x2="218.9" y2="527.6"/>
<text class="tB" text-anchor="end" x="212.6" y="531.2">Lymphocytes</text>
<circle class="ptB" cx="230.7" cy="537.7" r="4.3" fill="#FFFFB3"/>
<circle class="ptB" cx="363.8" cy="537.7" r="4.3" fill="#8DD3C7"/>
<line class="tick" x1="216.2" y1="537.7" x2="218.9" y2="537.7"/>
<text class="tB" text-anchor="end" x="212.6" y="541.3">White blood cell count</text>
<circle class="ptB" cx="231.2" cy="547.9" r="4.3" fill="#FFFFB3"/>
<circle class="ptB" cx="363.8" cy="547.9" r="4.3" fill="#8DD3C7"/>
<line class="tick" x1="216.2" y1="547.9" x2="218.9" y2="547.9"/>
<text class="tB" text-anchor="end" x="212.6" y="551.5">Neutrophils</text>
<circle class="ptB" cx="231.7" cy="558.1" r="4.3" fill="#FFFFB3"/>
<circle class="ptB" cx="363.8" cy="558.1" r="4.3" fill="#8DD3C7"/>
<line class="tick" x1="216.2" y1="558.1" x2="218.9" y2="558.1"/>
<text class="tB" text-anchor="end" x="212.6" y="561.7">High density lipoprotein cholesterol</text>
<circle class="ptB" cx="231.9" cy="568.2" r="4.3" fill="#FFFFB3"/>
<circle class="ptB" cx="270.2" cy="568.2" r="4.3" fill="#8DD3C7"/>
<line class="tick" x1="216.2" y1="568.2" x2="218.9" y2="568.2"/>
<text class="tB" text-anchor="end" x="212.6" y="571.9">Ferritin</text>
<circle class="ptB" cx="232.4" cy="578.4" r="4.3" fill="#FFFFB3"/>
<circle class="ptB" cx="345.1" cy="578.4" r="4.3" fill="#8DD3C7"/>
<line class="tick" x1="216.2" y1="578.4" x2="218.9" y2="578.4"/>
<text class="tB" text-anchor="end" x="212.6" y="582">Total protein</text>
<circle class="ptB" cx="234.3" cy="588.6" r="4.3" fill="#FFFFB3"/>
<circle class="ptB" cx="335.7" cy="588.6" r="4.3" fill="#8DD3C7"/>
<line class="tick" x1="216.2" y1="588.6" x2="218.9" y2="588.6"/>
<text class="tB" text-anchor="end" x="212.6" y="592.2">Triglycerides</text>
<circle class="ptB" cx="240.4" cy="598.8" r="4.3" fill="#FFFFB3"/>
<circle class="ptB" cx="335.7" cy="598.8" r="4.3" fill="#8DD3C7"/>
<line class="tick" x1="216.2" y1="598.8" x2="218.9" y2="598.8"/>
<text class="tB" text-anchor="end" x="212.6" y="602.4">Albumin</text>
<circle class="ptB" cx="240.4" cy="608.9" r="4.3" fill="#FFFFB3"/>
<circle class="ptB" cx="279.6" cy="608.9" r="4.3" fill="#8DD3C7"/>
<line class="tick" x1="216.2" y1="608.9" x2="218.9" y2="608.9"/>
<text class="tB" text-anchor="end" x="212.6" y="612.5">Haematocrit</text>
<circle class="ptB" cx="241.6" cy="619.1" r="4.3" fill="#FFFFB3"/>
<circle class="ptB" cx="298.3" cy="619.1" r="4.3" fill="#8DD3C7"/>
<line class="tick" x1="216.2" y1="619.1" x2="218.9" y2="619.1"/>
<text class="tB" text-anchor="end" x="212.6" y="622.7">Erythrocyte sedimentation rate</text>
<circle class="ptB" cx="246.4" cy="629.3" r="4.3" fill="#FFFFB3"/>
<circle class="ptB" cx="335.7" cy="629.3" r="4.3" fill="#8DD3C7"/>
<line class="tick" x1="216.2" y1="629.3" x2="218.9" y2="629.3"/>
<text class="tB" text-anchor="end" x="212.6" y="632.9">Low density lipoprotein cholesterol</text>
<circle class="ptB" cx="249.2" cy="639.4" r="4.3" fill="#FFFFB3"/>
<circle class="ptB" cx="363.8" cy="639.4" r="4.3" fill="#8DD3C7"/>
<line class="tick" x1="216.2" y1="639.4" x2="218.9" y2="639.4"/>
<text class="tB" text-anchor="end" x="212.6" y="643">Monocytes</text>
<circle class="ptB" cx="249.4" cy="649.6" r="4.3" fill="#FFFFB3"/>
<circle class="ptB" cx="317" cy="649.6" r="4.3" fill="#8DD3C7"/>
<line class="tick" x1="216.2" y1="649.6" x2="218.9" y2="649.6"/>
<text class="tB" text-anchor="end" x="212.6" y="653.2">Serum phosphate</text>
<circle class="ptB" cx="250.1" cy="659.8" r="4.3" fill="#FFFFB3"/>
<circle class="ptB" cx="345.1" cy="659.8" r="4.3" fill="#8DD3C7"/>
<line class="tick" x1="216.2" y1="659.8" x2="218.9" y2="659.8"/>
<text class="tB" text-anchor="end" x="212.6" y="663.4">Total cholesterol</text>
<circle class="ptB" cx="250.1" cy="670" r="4.3" fill="#FFFFB3"/>
<circle class="ptB" cx="326.4" cy="670" r="4.3" fill="#8DD3C7"/>
<line class="tick" x1="216.2" y1="670" x2="218.9" y2="670"/>
<text class="tB" text-anchor="end" x="212.6" y="673.6">Haemoglobin A1c</text>
<circle class="ptB" cx="250.7" cy="680.1" r="4.3" fill="#FFFFB3"/>
<circle class="ptB" cx="345.1" cy="680.1" r="4.3" fill="#8DD3C7"/>
<line class="tick" x1="216.2" y1="680.1" x2="218.9" y2="680.1"/>
<text class="tB" text-anchor="end" x="212.6" y="683.7">Creatinine</text>
<circle class="ptB" cx="252" cy="690.3" r="4.3" fill="#FFFFB3"/>
<circle class="ptB" cx="307.6" cy="690.3" r="4.3" fill="#8DD3C7"/>
<line class="tick" x1="216.2" y1="690.3" x2="218.9" y2="690.3"/>
<text class="tB" text-anchor="end" x="212.6" y="693.9">Eosinophils</text>
<circle class="ptB" cx="254.5" cy="700.5" r="4.3" fill="#FFFFB3"/>
<circle class="ptB" cx="345.1" cy="700.5" r="4.3" fill="#8DD3C7"/>
<line class="tick" x1="216.2" y1="700.5" x2="218.9" y2="700.5"/>
<text class="tB" text-anchor="end" x="212.6" y="704.1">Thyroid stimulating hormone</text>
<circle class="ptB" cx="255.6" cy="710.6" r="4.3" fill="#FFFFB3"/>
<circle class="ptB" cx="288.9" cy="710.6" r="4.3" fill="#8DD3C7"/>
<line class="tick" x1="216.2" y1="710.6" x2="218.9" y2="710.6"/>
<text class="tB" text-anchor="end" x="212.6" y="714.2">Serum glucose (random)</text>
<circle class="ptB" cx="255.8" cy="720.8" r="4.3" fill="#FFFFB3"/>
<circle class="ptB" cx="317" cy="720.8" r="4.3" fill="#8DD3C7"/>
<line class="tick" x1="216.2" y1="720.8" x2="218.9" y2="720.8"/>
<text class="tB" text-anchor="end" x="212.6" y="724.4">Urea</text>
<circle class="ptB" cx="255.8" cy="731" r="4.3" fill="#FFFFB3"/>
<circle class="ptB" cx="317" cy="731" r="4.3" fill="#8DD3C7"/>
<line class="tick" x1="216.2" y1="731" x2="218.9" y2="731"/>
<text class="tB" text-anchor="end" x="212.6" y="734.6">Serum sodium concentration</text>
<circle class="ptB" cx="256.5" cy="741.1" r="4.3" fill="#FFFFB3"/>
<circle class="ptB" cx="326.4" cy="741.1" r="4.3" fill="#8DD3C7"/>
<line class="tick" x1="216.2" y1="741.1" x2="218.9" y2="741.1"/>
<text class="tB" text-anchor="end" x="212.6" y="744.7">Serum chloride</text>
<circle class="ptB" cx="259.3" cy="751.3" r="4.3" fill="#FFFFB3"/>
<circle class="ptB" cx="307.6" cy="751.3" r="4.3" fill="#8DD3C7"/>
<line class="tick" x1="216.2" y1="751.3" x2="218.9" y2="751.3"/>
<text class="tB" text-anchor="end" x="212.6" y="754.9">Non-high density lipoprotein cholesterol</text>
<circle class="ptB" cx="259.8" cy="761.5" r="4.3" fill="#FFFFB3"/>
<circle class="ptB" cx="326.4" cy="761.5" r="4.3" fill="#8DD3C7"/>
<line class="tick" x1="216.2" y1="761.5" x2="218.9" y2="761.5"/>
<text class="tB" text-anchor="end" x="212.6" y="765.1">Serum potassium concentration</text>
<circle class="ptB" cx="261.2" cy="771.6" r="4.3" fill="#FFFFB3"/>
<circle class="ptB" cx="345.1" cy="771.6" r="4.3" fill="#8DD3C7"/>
<line class="tick" x1="216.2" y1="771.6" x2="218.9" y2="771.6"/>
<text class="tB" text-anchor="end" x="212.6" y="775.2">Red cell distribution width</text>
<circle class="ptB" cx="261.2" cy="781.8" r="4.3" fill="#FFFFB3"/>
<circle class="ptB" cx="298.3" cy="781.8" r="4.3" fill="#8DD3C7"/>
<line class="tick" x1="216.2" y1="781.8" x2="218.9" y2="781.8"/>
<text class="tB" text-anchor="end" x="212.6" y="785.4">Serum folate</text>
<circle class="ptB" cx="261.9" cy="792" r="4.3" fill="#FFFFB3"/>
<circle class="ptB" cx="345.1" cy="792" r="4.3" fill="#8DD3C7"/>
<line class="tick" x1="216.2" y1="792" x2="218.9" y2="792"/>
<text class="tB" text-anchor="end" x="212.6" y="795.6">Levothyroxine</text>
<circle class="ptB" cx="262.2" cy="802.2" r="4.3" fill="#FFFFB3"/>
<circle class="ptB" cx="279.6" cy="802.2" r="4.3" fill="#8DD3C7"/>
<line class="tick" x1="216.2" y1="802.2" x2="218.9" y2="802.2"/>
<text class="tB" text-anchor="end" x="212.6" y="805.8">Aspartate aminotransferase</text>
<circle class="ptB" cx="264.3" cy="812.3" r="4.3" fill="#FFFFB3"/>
<circle class="ptB" cx="317" cy="812.3" r="4.3" fill="#8DD3C7"/>
<line class="tick" x1="216.2" y1="812.3" x2="218.9" y2="812.3"/>
<text class="tB" text-anchor="end" x="212.6" y="815.9">Haemoglobin</text>
<circle class="ptB" cx="264.3" cy="822.5" r="4.3" fill="#FFFFB3"/>
<circle class="ptB" cx="317" cy="822.5" r="4.3" fill="#8DD3C7"/>
<line class="tick" x1="216.2" y1="822.5" x2="218.9" y2="822.5"/>
<text class="tB" text-anchor="end" x="212.6" y="826.1">Fasting glucose</text>
<circle class="ptB" cx="265.8" cy="832.7" r="4.3" fill="#FFFFB3"/>
<circle class="ptB" cx="288.9" cy="832.7" r="4.3" fill="#8DD3C7"/>
<line class="tick" x1="216.2" y1="832.7" x2="218.9" y2="832.7"/>
<text class="tB" text-anchor="end" x="212.6" y="836.3">Gamma-glutamyltransferase</text>
<circle class="ptB" cx="266" cy="842.8" r="4.3" fill="#FFFFB3"/>
<circle class="ptB" cx="335.7" cy="842.8" r="4.3" fill="#8DD3C7"/>
<line class="tick" x1="216.2" y1="842.8" x2="218.9" y2="842.8"/>
<text class="tB" text-anchor="end" x="212.6" y="846.4">Alanine aminotransferase</text>
<circle class="ptB" cx="267.4" cy="853" r="4.3" fill="#FFFFB3"/>
<circle class="ptB" cx="345.1" cy="853" r="4.3" fill="#8DD3C7"/>
<line class="tick" x1="216.2" y1="853" x2="218.9" y2="853"/>
<text class="tB" text-anchor="end" x="212.6" y="856.6">Bilirubin</text>
<circle class="ptB" cx="267.4" cy="863.2" r="4.3" fill="#FFFFB3"/>
<circle class="ptB" cx="354.4" cy="863.2" r="4.3" fill="#8DD3C7"/>
<line class="tick" x1="216.2" y1="863.2" x2="218.9" y2="863.2"/>
<text class="tB" text-anchor="end" x="212.6" y="866.8">Red blood cell volume</text>
<circle class="ptB" cx="270" cy="873.3" r="4.3" fill="#FFFFB3"/>
<circle class="ptB" cx="288.9" cy="873.3" r="4.3" fill="#8DD3C7"/>
<line class="tick" x1="216.2" y1="873.3" x2="218.9" y2="873.3"/>
<text class="tB" text-anchor="end" x="212.6" y="876.9">Vitamin D</text>
<circle class="ptB" cx="271.9" cy="883.5" r="4.3" fill="#FFFFB3"/>
<circle class="ptB" cx="354.4" cy="883.5" r="4.3" fill="#8DD3C7"/>
<line class="tick" x1="216.2" y1="883.5" x2="218.9" y2="883.5"/>
<text class="tB" text-anchor="end" x="212.6" y="887.1">Mean cell haemoglobin</text>
<circle class="ptB" cx="272.1" cy="893.7" r="4.3" fill="#FFFFB3"/>
<circle class="ptB" cx="354.4" cy="893.7" r="4.3" fill="#8DD3C7"/>
<line class="tick" x1="216.2" y1="893.7" x2="218.9" y2="893.7"/>
<text class="tB" text-anchor="end" x="212.6" y="897.3">Mean cell volume</text>
<circle class="ptB" cx="272.1" cy="903.9" r="4.3" fill="#FFFFB3"/>
<circle class="ptB" cx="298.3" cy="903.9" r="4.3" fill="#8DD3C7"/>
<line class="tick" x1="216.2" y1="903.9" x2="218.9" y2="903.9"/>
<text class="tB" text-anchor="end" x="212.6" y="907.5">C-reactive protein</text>
<circle class="ptB" cx="274.5" cy="914" r="4.3" fill="#FFFFB3"/>
<circle class="ptB" cx="307.6" cy="914" r="4.3" fill="#8DD3C7"/>
<line class="tick" x1="216.2" y1="914" x2="218.9" y2="914"/>
<text class="tB" text-anchor="end" x="212.6" y="917.6">Serum calcium</text>
<circle class="ptB" cx="283.3" cy="924.2" r="4.3" fill="#FFFFB3"/>
<circle class="ptB" cx="335.7" cy="924.2" r="4.3" fill="#8DD3C7"/>
<line class="tick" x1="216.2" y1="924.2" x2="218.9" y2="924.2"/>
<text class="tB" text-anchor="end" x="212.6" y="927.8">Alkaline phosphatase</text>
<circle class="ptB" cx="286.6" cy="934.4" r="4.3" fill="#FFFFB3"/>
<circle class="ptB" cx="298.3" cy="934.4" r="4.3" fill="#8DD3C7"/>
<line class="tick" x1="216.2" y1="934.4" x2="218.9" y2="934.4"/>
<text class="tB" text-anchor="end" x="212.6" y="938">Vitamin B12</text>
<line class="tick" x1="223.3" y1="938.5" x2="223.3" y2="941.2"/>
<text class="tB" text-anchor="middle" x="223.3" y="953.8">0.95</text>
<line class="tick" x1="270.1" y1="938.5" x2="270.1" y2="941.2"/>
<text class="tB" text-anchor="middle" x="270.1" y="953.8">1.00</text>
<line class="tick" x1="316.9" y1="938.5" x2="316.9" y2="941.2"/>
<text class="tB" text-anchor="middle" x="316.9" y="953.8">1.05</text>
<line class="tick" x1="363.7" y1="938.5" x2="363.7" y2="941.2"/>
<text class="tB" text-anchor="middle" x="363.7" y="953.8">1.10</text>
<text class="aB" text-anchor="middle" x="299.6" y="968.3">Inflation statistic</text>
<text class="aB" text-anchor="middle" x="299.6" y="982.6">(LDSC intercept or lambda GC)</text>
<text class="aB" text-anchor="middle" transform="translate(18.8 725) rotate(-90)">Phenotype</text>
<text class="aB" x="399.7" y="706.8">Statistic</text>
<circle class="ptB" cx="409.8" cy="724.8" r="4.3" fill="#8DD3C7"/>
<circle class="ptB" cx="409.8" cy="745.0" r="4.3" fill="#FFFFB3"/>
<text class="lgB" x="426.6" y="728.6">Lambda</text>
<text class="lgB" x="426.6" y="748.8">LDSC intercept</text>
<text class="dv ttl" x="554.8" y="40.2">LFT</text>
<rect class="bord" x="554.6" y="50.4" width="545" height="181.3"/>
<line class="tick" x1="551.2" y1="228.5" x2="554.6" y2="228.5"/>
<text class="dv tC" text-anchor="end" x="548.4" y="232">0</text>
<line class="tick" x1="551.2" y1="182.1" x2="554.6" y2="182.1"/>
<text class="dv tC" text-anchor="end" x="548.4" y="185.6">30</text>
<line class="tick" x1="551.2" y1="135.8" x2="554.6" y2="135.8"/>
<text class="dv tC" text-anchor="end" x="548.4" y="139.3">60</text>
<line class="tick" x1="551.2" y1="89.4" x2="554.6" y2="89.4"/>
<text class="dv tC" text-anchor="end" x="548.4" y="92.9">90</text>
<text class="dv aC" style="font-size:12px" text-anchor="middle" transform="translate(526.6 141.9) rotate(-90)">−<tspan dx="2.2">log</tspan><tspan font-size="8.6" dy="3.3">10</tspan><tspan dy="-3.3"> P</tspan></text>
<line class="tick" x1="599.5" y1="231.7" x2="599.5" y2="235.3"/>
<text class="dv tC" text-anchor="middle" transform="translate(606.9 244.3) rotate(-90)">1</text>
<line class="tick" x1="641.7" y1="231.7" x2="641.7" y2="235.3"/>
<text class="dv tC" text-anchor="middle" transform="translate(649.1 244.3) rotate(-90)">2</text>
<line class="tick" x1="681.5" y1="231.7" x2="681.5" y2="235.3"/>
<text class="dv tC" text-anchor="middle" transform="translate(688.9 244.3) rotate(-90)">3</text>
<line class="tick" x1="713.1" y1="231.7" x2="713.1" y2="235.3"/>
<text class="dv tC" text-anchor="middle" transform="translate(720.5 244.3) rotate(-90)">4</text>
<line class="tick" x1="746.9" y1="231.7" x2="746.9" y2="235.3"/>
<text class="dv tC" text-anchor="middle" transform="translate(754.3 244.3) rotate(-90)">5</text>
<line class="tick" x1="773.2" y1="231.7" x2="773.2" y2="235.3"/>
<text class="dv tC" text-anchor="middle" transform="translate(780.6 244.3) rotate(-90)">6</text>
<line class="tick" x1="804.4" y1="231.7" x2="804.4" y2="235.3"/>
<text class="dv tC" text-anchor="middle" transform="translate(811.8 244.3) rotate(-90)">7</text>
<line class="tick" x1="829" y1="231.7" x2="829" y2="235.3"/>
<text class="dv tC" text-anchor="middle" transform="translate(836.4 244.3) rotate(-90)">8</text>
<line class="tick" x1="857.4" y1="231.7" x2="857.4" y2="235.3"/>
<text class="dv tC" text-anchor="middle" transform="translate(864.8 244.3) rotate(-90)">9</text>
<line class="tick" x1="880" y1="231.7" x2="880" y2="235.3"/>
<text class="dv tC" text-anchor="middle" transform="translate(887.4 244.3) rotate(-90)">10</text>
<line class="tick" x1="902.1" y1="231.7" x2="902.1" y2="235.3"/>
<text class="dv tC" text-anchor="middle" transform="translate(909.5 244.3) rotate(-90)">11</text>
<line class="tick" x1="925.9" y1="231.7" x2="925.9" y2="235.3"/>
<text class="dv tC" text-anchor="middle" transform="translate(933.3 244.3) rotate(-90)">12</text>
<line class="tick" x1="948.7" y1="231.7" x2="948.7" y2="235.3"/>
<text class="dv tC" text-anchor="middle" transform="translate(956.1 244.3) rotate(-90)">13</text>
<line class="tick" x1="968.8" y1="231.7" x2="968.8" y2="235.3"/>
<text class="dv tC" text-anchor="middle" transform="translate(976.2 244.3) rotate(-90)">14</text>
<line class="tick" x1="986.4" y1="231.7" x2="986.4" y2="235.3"/>
<text class="dv tC" text-anchor="middle" transform="translate(993.8 244.3) rotate(-90)">15</text>
<line class="tick" x1="1001.9" y1="231.7" x2="1001.9" y2="235.3"/>
<text class="dv tC" text-anchor="middle" transform="translate(1009.3 244.3) rotate(-90)">16</text>
<line class="tick" x1="1016.4" y1="231.7" x2="1016.4" y2="235.3"/>
<text class="dv tC" text-anchor="middle" transform="translate(1023.8 244.3) rotate(-90)">17</text>
<line class="tick" x1="1030.6" y1="231.7" x2="1030.6" y2="235.3"/>
<text class="dv tC" text-anchor="middle" transform="translate(1038 244.3) rotate(-90)">18</text>
<line class="tick" x1="1042.2" y1="231.7" x2="1042.2" y2="235.3"/>
<text class="dv tC" text-anchor="middle" transform="translate(1049.6 244.3) rotate(-90)">19</text>
<line class="tick" x1="1053.2" y1="231.7" x2="1053.2" y2="235.3"/>
<text class="dv tC" text-anchor="middle" transform="translate(1060.6 244.3) rotate(-90)">20</text>
<line class="tick" x1="1063.8" y1="231.7" x2="1063.8" y2="235.3"/>
<text class="dv tC" text-anchor="middle" transform="translate(1071.2 244.3) rotate(-90)">21</text>
<line class="tick" x1="1072" y1="231.7" x2="1072" y2="235.3"/>
<text class="dv tC" text-anchor="middle" transform="translate(1079.4 244.3) rotate(-90)">22</text>
<text class="dv aC" text-anchor="middle" x="827.1" y="263.7">Chromosome</text>
<text class="dv lgt" x="1151.2" y="93.2">Phenotype</text>
<g class="lg"><circle cx="1160.7" cy="110.8" r="3" fill="#E41A1C"/><circle cx="1160.7" cy="130.8" r="3" fill="#377EB8"/><circle cx="1160.7" cy="150.7" r="3" fill="#4DAF4A"/><circle cx="1160.7" cy="170.7" r="3" fill="#984EA3"/><circle cx="1160.7" cy="190.7" r="3" fill="#FF7F00"/></g>
<text class="dv lgl" x="1177.3" y="114.5">ALP</text>
<text class="dv lgl" x="1177.3" y="134.5">ALT</text>
<text class="dv lgl" x="1177.3" y="154.4">AST</text>
<text class="dv lgl" x="1177.3" y="174.4">Bilirubin</text>
<text class="dv lgl" x="1177.3" y="194.4">GGT</text>
<polyline class="F5a1a2a" points="901.4,221.2 667.7,220.8 581.5,219.8 902.6,220.7 589.2,219.7 926.9,221.3"/><polyline class="F8a1212" points="952.5,221.4 1051.5,219.9 746.6,220.3 830.4,219.7 691.7,221.3 989.9,221.4 793.4,221.6 612.6,220.5 597.1,219.5 684.9,220.9 1010.2,220.8 778.8,221.3 624.7,220.4 887.3,219.3 749.1,219.8 633.5,220 864.1,219.6 668.7,221.4 788.9,219.3 864,221.3 822.2,221.1 930.7,220.6 742.8,220.8 724.2,220.9 990,221 660.9,221.6 717.2,221.1 927.9,220.9 624.3,221.6 788.4,221.5 1028.2,219.5 985,221.8 583.7,219.7"/><polyline class="FE41A1C" points="1038.7,219.9 755.6,221.3 766.9,219.5 666.8,220.6 734.1,219.9 904.1,221.2 981.8,220.3 690.9,219.9 742.1,221 622.7,219.3 875,219.4 1035.3,220.7 770.5,220.9 965.4,220.2 875.5,221.1"/>
<polyline class="PE41A1C" points="582.3,223.9 582.4,222.7 582.5,220.5 582.4,218 582.3,216.6 582.3,215.2 582.7,212.9 582.6,210.5 582.3,208 582.4,206.7 582.6,204.9 582.3,202.8 582.3,200.8 582.6,199 582.3,196.8 582.4,194.5 582.5,192.4 582.4,189 582.6,184.6 582.7,182.5 582.3,179.9 582.5,176.1 582.5,173.7 582.4,169.7 582.5,165.3 582.6,161 582.5,158 582.5,140.4 582.5,138.1 582.5,135.8 582.5,133.4 582.5,131.1 582.5,128.8 582.5,126.5 582.5,117.2 582.5,73.6"/><polyline class="P377EB8" points="617,213"/><polyline class="PFF7F00" points="627,217.7 627,214.6 627,213"/><polyline class="P222222" points="627,211.5"/><polyline class="P377EB8" points="651,214.6"/><polyline class="P984EA3" points="662.2,223.9 662.2,221.7 662.2,219.5 662.2,217.7 662.2,215.2 662.3,212.7 662.1,210.9 662,208.8 662,207.2 662.1,204.9 661.9,203.3 661.9,201.7 662.3,199.1 662,197 662,195.9 662.2,193.4 662.2,188.9 662,185.7 661.9,182.2 661.9,180.2 662.2,176.6 662,173.2 662,170.6 662.2,168.2 662.3,165.7 662.3,162.8 661.9,159.1 662.2,156.1 662.2,151.8 662.2,148.3 662.1,145.3 662.3,142.2 661.9,138 662,135.8 662,133.2 662.1,130.9 662.2,128.5 662,125.9 662.2,123.3 662.3,118.7 661.9,116.6 662.1,112.4 662.3,109 662.3,105.7 662.2,103.3 661.9,99.6 662.1,96.6 661.9,92.4 662.1,88 662.2,85.5 662,83.1 662.2,79.6 662.1,77.2 662.1,73.9 687,211.5 687,206.9 693,219.2"/><polyline class="P377EB8" points="712.7,214.6 712.7,213 712.7,211.5 722.6,213 722.6,211.5 722.6,206.9"/><polyline class="PFF7F00" points="722.6,219.2"/><polyline class="PE41A1C" points="766.3,223.9 766.2,222.5 766.1,221.3 766.2,219.4 766.1,217.9 766.2,216.6 766.2,214.4 766.1,212.1 766.1,209.9 766.1,208 766.1,206 766.3,203.9 766.1,202.1 766.2,200.5 766.3,198.1 766,196.9 766.1,194.4 766,190.9 766.2,186.8 766.2,182.4 766.1,179 766,174.5 766.2,172.9 766.2,158.9 766.2,156.6 766.2,154.3"/><polyline class="P984EA3" points="768,216.1 794.3,214.6"/><polyline class="PE41A1C" points="820.2,223.9 820.5,221.6 820.4,219.5 820.2,217.2 820.1,215.2 820.5,213.2 820.3,210.7 820.2,209.3 820.2,207.6 820.1,205.1 820.1,203 820.2,201.2 820.2,199.2 820.1,197.4 820.5,195.1 820.3,193.4 820.1,188.9 820.3,185.7 840.3,223.9 840.5,221.3 840.3,219.7 840.5,217.6 840.3,215.8 840.5,213.4 840.5,211.4 840.3,209.6 840.4,208.3 840.4,207 840.4,205.7 840.4,204.5"/><polyline class="P377EB8" points="840.4,211.5 840.4,210"/><polyline class="PE41A1C" points="867.1,223.9 867.2,221.6 867,220.4 867.2,218.6 866.8,217.4 866.8,216.1 866.8,214.1 866.9,212.7 867,210.5 866.9,208.5 866.9,206.1 867.2,203.6 866.9,202.1 867.1,200.1 866.8,198.8 866.9,196.5 866.8,194.7 866.8,192.2 867.1,190 866.8,187.2 866.8,183.4 866.8,180.5 867.2,176.8 867,174.6 867,172.2 867.1,168.7 867.1,165.9 867.1,162.2 867.2,159.5 867,158 867,152.1 867,140.4 867,138.1 867,135.8 867,133.4 867,79.2 867,73.9"/><polyline class="P377EB8" points="863.5,212.3 863.5,206.9 863.5,202.2 863.5,190.6"/><polyline class="P4DAF4A" points="871,214.6 871,210 871,205.3 871,202.2"/><polyline class="PE41A1C" points="878.9,210 878.9,208.4 878.8,206.5 878.8,205.2 879,203.2 878.8,200.9 878.9,199.5 878.8,197.2 878.7,195.7 878.9,193.3 878.9,191.3 878.6,188.8 878.7,186 878.6,182.8 878.8,180.3 878.8,177.8"/><polyline class="P377EB8" points="885.1,214.6 885.1,213"/><polyline class="P984EA3" points="891.6,213.8 891.6,210 891.6,206.1"/><polyline class="PE41A1C" points="901.5,214.6"/><polyline class="P377EB8" points="907,211.5"/><polyline class="PE41A1C" points="912.7,214.6 912.7,211.5"/><polyline class="P984EA3" points="917.7,223.9 918,222.4 918.1,221.2 917.9,219.1 917.9,217.8 917.8,216.2 917.7,214.6 918,212.2 918,210.6 917.8,208.4 917.9,206.8 918,205.6 917.8,203.6 917.9,202.2 918,199.7 917.8,198.4 917.7,196.9 917.8,194.5 918.1,189.9 917.7,187.6 917.9,185.7 917.9,169.8 917.9,166.7 917.9,163.6 917.9,160.8"/><polyline class="PFF7F00" points="934.8,223.9 935.2,222.5 935.1,220.1 935.2,218.8 935.1,217.5 934.9,215.7 935,214.4 935.2,213.2 934.9,210.9 934.9,208.9 935.1,206.7 934.8,204.5 935,202.8"/><polyline class="PE41A1C" points="953.3,213.5"/><polyline class="P377EB8" points="985.7,214.6"/><polyline class="PFF7F00" points="985.7,210.4"/><polyline class="P984EA3" points="1008.4,223.9 1008.4,222.3 1008.3,220.8 1008.3,218.4 1008.3,217.2 1008.4,215.3 1008.4,213 1008.4,210.7 1008.3,209.1 1008.4,206.6 1008.2,205.3 1008.2,204.1 1008.4,201.8 1008.4,200.5 1008.3,199 1008.1,196.5 1008.5,195.1 1008.2,192.9 1008.3,189.6 1008.3,186.8 1008.3,167.9 1008.3,154.8 1008.3,136.1"/><polyline class="PE41A1C" points="1010.9,199.1"/><polyline class="P377EB8" points="1040.2,223.9 1039.8,222.5 1039.9,220 1040.1,218 1040,215.6 1040,213.3 1040.1,210.9 1039.9,208.6 1040,207.1 1040,205.3"/><polyline class="PE41A1C" points="1042.4,200.7 1042.4,197.6 1045.5,214.6 1045.5,213 1045.5,210 1045.5,208.4 1051,214.6 1051,213"/><polyline class="P984EA3" points="1073.7,223.9 1073.6,222.7 1073.6,220.7 1073.7,219 1073.4,217.4 1073.4,214.9 1073.5,213"/><polyline class="P4DAF4A" points="1073.5,213 1073.6,211.4 1073.5,209.7 1073.4,208 1073.5,205.6 1073.3,204.3 1073.6,203.2 1073.3,200.8 1073.7,198.5 1073.5,197.1 1073.3,194.8 1073.6,193.4 1073.5,191.4 1073.5,187.5"/><polyline class="P377EB8" points="1073.4,175.9 1073.6,171.5 1073.4,167 1073.5,164.4 1073.6,160.3 1073.5,157.6 1073.5,156.2"/><polyline class="PFF7F00" points="1070,213 1070,210 1070,196.8"/>
<polyline class="B5a1a2a" points="710.2,223 733.4,223.3 791.7,223.4 838.2,223.5 843.4,223 876.2,223.6 878.3,223.3 882.1,223.5 891.9,223.3"/><polyline class="BE41A1C" points="580.1,223.4 585.5,222.9 590.6,223.1 593,222.9 594.8,223.1 605.4,223.3 611.6,223.4 625.5,223.5 633.5,222.9 642,223.2 652.5,223.4 665,223.3 671,223.6 682.1,223 691.9,223.1 699.2,223.5 703.7,223 706.7,223.3 718.7,223.4 726.3,222.9 730.1,223.3 746.8,223.3 750.2,223.5 766.9,223.1 772.2,223.4 778.1,223.5 785.3,223.2 787.9,223.5 789.5,223.1 794.8,223.5 801.2,223 807.8,223.5 810,223 813.7,223.2 815.7,223 818.1,222.9 822.8,223.5 827.9,222.9 829.8,223.1 831.9,223.4 835.7,223 841.7,223 858.3,222.9 860.8,223.5 864.5,222.9 869.8,223.2 872,223.2 888.9,223.3 897.2,223.5 909,223.6 912.2,223.5 924.7,223.1 943.2,223 968.2,223.3 984.4,223.5 986.2,223.2 988,223 1002.7,223.2 1011.9,223.2 1015.8,223.2 1023.5,223.3 1026.7,223.5 1033.6,223.5 1043.8,223 1069.2,223.1 1072.4,223.5"/><polyline class="B8a1212" points="583.6,223.1 588.1,223.5 608.2,223.2 610,223.6 614.6,223.4 618.2,223.4 620.6,223.3 623.3,223.5 627.1,223.2 630.1,223.4 644.1,223 646.8,223 648.7,223.1 650.8,223.1 655.4,223.1 657.7,223.4 659.5,223.1 663.3,223.2 667.3,223.6 674.4,223.6 678.3,223 684.4,223.1 688.1,223.3 690.1,223.3 693.8,223.2 695.5,223.2 701.4,223.2 712,223.1 715.3,223.1 720.7,223.5 724.1,222.9 736.5,223 738.8,223.3 740.4,223.5 743.4,223.3 753.4,222.9 755.1,223.4 758.7,223.4 762.3,223.6 764.6,223.4 769.8,222.9 774.7,223.5 780.7,223.5 783.7,223.5 797.6,222.9 804.5,223.1 820,223.4 826,223.1 833.6,223.5 845.8,223.2 848.1,223.2 862.8,223.4 867.1,223.5 874.2,223.1 879.8,223.1 885.9,223.6 894.1,223.1 900.8,223 903.6,223.1 907.3,223.4 915.6,223 919.1,223 922.5,223.3 926.7,223.6 930.5,223 932.7,223.6 935.9,223.1 945,223.1 948.3,223.1 952,223.2 954.9,222.9 963.3,223.5 966.4,223 971.7,223.3 990.8,223.2 994,223.5 996,223.5 1004.4,222.9 1005.9,223.2 1009.4,223 1018.9,223 1021.7,223.2 1028.7,223.2 1032.1,223.3 1036.4,223.4 1038.6,223.4 1040.9,223.1 1047,223.4 1048.8,223.4 1051.9,223.1 1055.5,223 1065.5,223.1"/><polyline class="B5a1a2a" points="679.9,223.1 724.4,223.3 770.8,223.1 783.4,223.3 806.9,223.6 839.2,223.6 885.3,223.5 897.3,223.5 907.2,223.3 930.5,222.9 987.2,223.3"/><polyline class="BE41A1C" points="586.1,223.3 611.2,223.5 623.7,223 626.2,222.9 629.5,223.2 670.4,223.5 686,223 688.7,222.9 692.7,223.2 696.5,223 707.7,223.2 722.5,223 739.1,222.9 758.9,223.1 761.9,223 765.6,223.2 768,223.4 781.2,223.5 789,223.4 798.7,223 804.4,223.3 817.2,223.5 847.6,223.2 872.6,223.3 876.4,223.4 878.5,222.9 895.2,223.1 902.4,223.6 914.4,223.2 918.1,223.5 923.4,223 927,223.5 932.9,223.1 963.8,223 982.1,223.3 994.1,223.5 1006,223.2 1009.1,223.1 1013,222.9 1015.1,223.4 1033.5,223.2 1045.8,222.9 1069,223 1073.9,223.1"/><polyline class="B8a1212" points="580.6,223.2 582.3,223.5 589.8,223.3 592.7,223.2 594.5,223 597.8,223.2 605.9,223.5 609.1,222.9 614.9,222.9 618,223.3 619.9,223.2 632,223.2 633.9,222.9 644,223.3 645.7,223.3 648.5,223.3 650.5,223 652.3,223.2 655.9,223 659.2,223 662.1,223.3 664.5,223.3 668,223.3 672.8,223 676.2,223.5 683.3,223 690.7,223 694.6,223.3 699.2,223 701.8,222.9 704.2,223.3 709.3,223.5 711.5,223.4 713.4,222.9 716.6,223.5 719.3,223 726.9,223 730,223.1 731.8,223.1 734.4,223.1 736.9,223.4 742.8,223.2 745,223.1 747.7,223.4 750.7,223 752.3,223.2 755.6,223.5 757.2,223 773.7,223.1 776.7,223.1 779.5,222.9 786.2,223.3 791.7,222.9 795.3,223.2 802.4,223 808.6,223.3 811,223.6 813.8,223.2 815.6,223.1 820.6,222.9 823.6,223.4 825.9,223.2 829,223.1 831.5,222.9 834.7,222.9 837.7,223 841.3,223.3 844.4,223.4 846,223.1 858.8,223.5 862.1,223.5 863.9,223.4 866.6,223.1 868.5,222.9 870.4,222.9 881.9,223.4 888.3,223.1 891.6,223.6 900.7,222.9 904.3,223.2 909.3,223.5 912.5,223.2 920.8,223.3 935.6,223.5 943,223 945.2,223.3 947.9,223.5 951.5,223.2 953.3,223.5 966.9,223.2 970.5,222.9 984.2,223.6 989.7,223.3 991.3,223.3 1003.8,223.5 1018,223 1020.6,223.1 1022.7,223.1 1024.6,223.2 1027.2,223.4 1030,222.9 1035.7,223.4 1039.5,223.2 1043.1,223.4 1049.1,223.1 1051.3,223.6 1053.7,222.9 1055.8,223.4 1066.1,223.3 1072,223"/><polyline class="B5a1a2a" points="592.9,223.2 597,223.3 701.8,223.3 715.4,223 839.8,223.5 859.8,223.1 865.7,223.2 874.7,223.4 917.9,223.1 967.5,223.2 1051.5,223.2"/><polyline class="BE41A1C" points="580.1,223 615.3,223.6 621.2,223.3 630.2,223.2 633.4,223.4 641.7,223.3 656.8,223.1 665.3,223 689.3,223.1 694.4,223.3 709.1,223.3 712.6,223 727.7,223.2 739.3,223.1 754.5,223.3 757.6,223.1 760.7,223.3 767.5,223.2 776.6,223.2 787.1,223.3 797.3,223.5 838.2,223.5 845.8,223.3 890.5,223.6 915.4,223.5 928.5,223.3 932.3,223.2 935.6,223.1 947.9,223.6 965.2,223.3 972.7,223.4 1010.7,223.1 1014.6,223.2 1033.1,223.2 1044.6,223.5 1053.5,223.5 1056.6,223.1 1064.3,223 1067.7,223.1 1071.1,223.2"/><polyline class="B8a1212" points="583.6,223.5 587.5,222.9 590.7,223 595,223.5 606.7,223.3 610,223.5 613.5,223.4 616.8,223.4 619.5,223.6 623.6,223 626.3,223 644.5,223.5 648.1,223.3 650.8,223 654.7,223.1 659.1,222.9 662.9,223 668.7,223.3 670.5,223.4 673.5,223.2 676.1,223.3 679.1,223 680.7,223 682.6,223 684.5,223.4 686.7,223.6 691.8,223.5 698,223 700.1,222.9 705.5,223.2 717.1,223.4 719.9,223 721.7,223 724.7,223 731.6,223.5 734.7,223.3 737.8,223.1 742.7,223.4 746.2,223.5 749.7,223.5 752.6,223.5 762.9,223.2 764.8,223.3 769.9,223 772.9,223.4 779.8,223.5 782.3,223.4 785.1,223.2 789.6,223.3 791.3,223.2 795.2,223.3 800.3,223.5 802.8,223.5 805.6,223 807.6,223.1 810.1,223.3 813.6,223.5 816.8,223.5 819.3,223.1 822,223 824.7,223.2 827.9,223.3 831.5,223.3 834.3,223.3 842.6,223.2 849.3,223 863,223.2 867.9,223.1 871.3,223.3 877.1,223.5 880.4,223.3 884.1,222.9 886.2,223.4 888.4,223.1 893.3,223.1 896.4,223.4 898.4,222.9 900.5,223.6 904.1,223.5 907.5,223.4 909.8,223.1 912.7,223 921.7,223.4 924.7,223.1 943.9,223.1 946.3,223.5 950.8,223.5 952.9,222.9 955.5,223.5 969.2,223.2 982.4,223.1 985.7,223.6 989,222.9 992.6,223.5 994.5,223.2 1004.3,223 1007.2,223.2 1018.2,223.1 1021,223.4 1024,223 1027.7,223 1030.2,223.2 1035,223 1038.4,223.5 1040.8,223.3 1048.2,223.3 1069.5,223.6"/>
<line class="segC" x1="582.5" y1="66.4" x2="582.5" y2="71"/>
<line class="segC" x1="662.1" y1="66.4" x2="662.1" y2="71"/>
<line class="segC" x1="687" y1="199.4" x2="687" y2="203.8"/>
<line class="segC" x1="765.9" y1="145.7" x2="766.1" y2="152.3"/>
<line class="segC" x1="794.3" y1="206.8" x2="794.3" y2="212.4"/>
<line class="segC" x1="867" y1="66.4" x2="867" y2="71"/>
<line class="segC" x1="876.3" y1="170.3" x2="878.5" y2="175.4"/>
<line class="segC" x1="891.6" y1="197.5" x2="891.6" y2="203"/>
<line class="segC" x1="920.5" y1="152.6" x2="918.2" y2="158.5"/>
<line class="segC" x1="942" y1="208.2" x2="952" y2="213"/>
<line class="segC" x1="982.9" y1="203.3" x2="985.5" y2="209.5"/>
<line class="segC" x1="1008.2" y1="127.5" x2="1008.3" y2="133.3"/>
<line class="segC" x1="1008.5" y1="185" x2="1010.8" y2="196"/>
<line class="segC" x1="1056" y1="188.6" x2="1044" y2="197"/>
<text class="dv gl" text-anchor="middle" x="582.5" y="63.6">ALPL</text>
<text class="dv gl" text-anchor="middle" x="662.1" y="63.6">UGT1A8</text>
<text class="dv gl" text-anchor="middle" x="687" y="196.6">MSL2</text>
<text class="dv gl" text-anchor="middle" x="765.8" y="142.9">GPLD1</text>
<text class="dv gl" text-anchor="middle" x="794.3" y="204">AHR</text>
<text class="dv gl" text-anchor="middle" x="867" y="63.6">ABO</text>
<text class="dv gl" text-anchor="middle" x="875.9" y="167.7">JMJD1C</text>
<text class="dv gl" text-anchor="middle" x="891.6" y="194.7">HBE1</text>
<text class="dv gl" text-anchor="middle" x="920.6" y="150">SLCO1B1</text>
<text class="dv gl" text-anchor="middle" x="938.9" y="205.5">TGDS</text>
<text class="dv gl" text-anchor="middle" x="982.9" y="200.6">RORA</text>
<text class="dv gl" text-anchor="middle" x="1007.9" y="124.7">PIEZO1</text>
<text class="dv gl" text-anchor="middle" x="1005.6" y="182.3">ASGR1</text>
<text class="dv gl" text-anchor="middle" x="1057.8" y="186.2">RHPN2</text>
<text class="dv gl" text-anchor="middle" x="1069" y="209.9">ABHD12</text>
<text class="dv ttl" x="1302.6" y="40.2">Endocrine / nutritional</text>
<rect class="bord" x="1302.4" y="50.4" width="545" height="181.3"/>
<line class="tick" x1="1299" y1="228.3" x2="1302.4" y2="228.3"/>
<text class="dv tC" text-anchor="end" x="1296.2" y="231.8">0</text>
<line class="tick" x1="1299" y1="182.1" x2="1302.4" y2="182.1"/>
<text class="dv tC" text-anchor="end" x="1296.2" y="185.6">30</text>
<line class="tick" x1="1299" y1="135.9" x2="1302.4" y2="135.9"/>
<text class="dv tC" text-anchor="end" x="1296.2" y="139.4">60</text>
<line class="tick" x1="1299" y1="89.6" x2="1302.4" y2="89.6"/>
<text class="dv tC" text-anchor="end" x="1296.2" y="93.1">90</text>
<text class="dv aC" style="font-size:12px" text-anchor="middle" transform="translate(1274.4 141.9) rotate(-90)">−<tspan dx="2.2">log</tspan><tspan font-size="8.6" dy="3.3">10</tspan><tspan dy="-3.3"> P</tspan></text>
<line class="tick" x1="1347.3" y1="231.7" x2="1347.3" y2="235.3"/>
<text class="dv tC" text-anchor="middle" transform="translate(1354.7 244.3) rotate(-90)">1</text>
<line class="tick" x1="1389.5" y1="231.7" x2="1389.5" y2="235.3"/>
<text class="dv tC" text-anchor="middle" transform="translate(1396.9 244.3) rotate(-90)">2</text>
<line class="tick" x1="1429.3" y1="231.7" x2="1429.3" y2="235.3"/>
<text class="dv tC" text-anchor="middle" transform="translate(1436.7 244.3) rotate(-90)">3</text>
<line class="tick" x1="1460.9" y1="231.7" x2="1460.9" y2="235.3"/>
<text class="dv tC" text-anchor="middle" transform="translate(1468.3 244.3) rotate(-90)">4</text>
<line class="tick" x1="1494.7" y1="231.7" x2="1494.7" y2="235.3"/>
<text class="dv tC" text-anchor="middle" transform="translate(1502.1 244.3) rotate(-90)">5</text>
<line class="tick" x1="1521" y1="231.7" x2="1521" y2="235.3"/>
<text class="dv tC" text-anchor="middle" transform="translate(1528.4 244.3) rotate(-90)">6</text>
<line class="tick" x1="1552.2" y1="231.7" x2="1552.2" y2="235.3"/>
<text class="dv tC" text-anchor="middle" transform="translate(1559.6 244.3) rotate(-90)">7</text>
<line class="tick" x1="1576.8" y1="231.7" x2="1576.8" y2="235.3"/>
<text class="dv tC" text-anchor="middle" transform="translate(1584.2 244.3) rotate(-90)">8</text>
<line class="tick" x1="1605.2" y1="231.7" x2="1605.2" y2="235.3"/>
<text class="dv tC" text-anchor="middle" transform="translate(1612.6 244.3) rotate(-90)">9</text>
<line class="tick" x1="1627.8" y1="231.7" x2="1627.8" y2="235.3"/>
<text class="dv tC" text-anchor="middle" transform="translate(1635.2 244.3) rotate(-90)">10</text>
<line class="tick" x1="1649.9" y1="231.7" x2="1649.9" y2="235.3"/>
<text class="dv tC" text-anchor="middle" transform="translate(1657.3 244.3) rotate(-90)">11</text>
<line class="tick" x1="1673.7" y1="231.7" x2="1673.7" y2="235.3"/>
<text class="dv tC" text-anchor="middle" transform="translate(1681.1 244.3) rotate(-90)">12</text>
<line class="tick" x1="1696.5" y1="231.7" x2="1696.5" y2="235.3"/>
<text class="dv tC" text-anchor="middle" transform="translate(1703.9 244.3) rotate(-90)">13</text>
<line class="tick" x1="1716.6" y1="231.7" x2="1716.6" y2="235.3"/>
<text class="dv tC" text-anchor="middle" transform="translate(1724 244.3) rotate(-90)">14</text>
<line class="tick" x1="1734.2" y1="231.7" x2="1734.2" y2="235.3"/>
<text class="dv tC" text-anchor="middle" transform="translate(1741.6 244.3) rotate(-90)">15</text>
<line class="tick" x1="1749.7" y1="231.7" x2="1749.7" y2="235.3"/>
<text class="dv tC" text-anchor="middle" transform="translate(1757.1 244.3) rotate(-90)">16</text>
<line class="tick" x1="1764.2" y1="231.7" x2="1764.2" y2="235.3"/>
<text class="dv tC" text-anchor="middle" transform="translate(1771.6 244.3) rotate(-90)">17</text>
<line class="tick" x1="1778.4" y1="231.7" x2="1778.4" y2="235.3"/>
<text class="dv tC" text-anchor="middle" transform="translate(1785.8 244.3) rotate(-90)">18</text>
<line class="tick" x1="1790" y1="231.7" x2="1790" y2="235.3"/>
<text class="dv tC" text-anchor="middle" transform="translate(1797.4 244.3) rotate(-90)">19</text>
<line class="tick" x1="1801" y1="231.7" x2="1801" y2="235.3"/>
<text class="dv tC" text-anchor="middle" transform="translate(1808.4 244.3) rotate(-90)">20</text>
<line class="tick" x1="1811.6" y1="231.7" x2="1811.6" y2="235.3"/>
<text class="dv tC" text-anchor="middle" transform="translate(1819 244.3) rotate(-90)">21</text>
<line class="tick" x1="1819.8" y1="231.7" x2="1819.8" y2="235.3"/>
<text class="dv tC" text-anchor="middle" transform="translate(1827.2 244.3) rotate(-90)">22</text>
<text class="dv aC" text-anchor="middle" x="1574.9" y="263.7">Chromosome</text>
<text class="dv lgt" x="1889" y="53.3">Phenotype</text>
<g class="lg"><circle cx="1898.5" cy="70.9" r="3" fill="#E41A1C"/><circle cx="1898.5" cy="90.9" r="3" fill="#377EB8"/><circle cx="1898.5" cy="110.8" r="3" fill="#4DAF4A"/><circle cx="1898.5" cy="130.8" r="3" fill="#984EA3"/><circle cx="1898.5" cy="150.8" r="3" fill="#FF7F00"/><circle cx="1898.5" cy="170.8" r="3" fill="#FFFF33"/><circle cx="1898.5" cy="190.7" r="3" fill="#A65628"/><circle cx="1898.5" cy="210.7" r="3" fill="#F781BF"/><circle cx="1898.5" cy="230.7" r="3" fill="#999999"/></g>
<text class="dv lgl" x="1915.1" y="74.6">Albumin</text>
<text class="dv lgl" x="1915.1" y="94.6">B12</text>
<text class="dv lgl" x="1915.1" y="114.5">Calcium</text>
<text class="dv lgl" x="1915.1" y="134.5">Folate</text>
<text class="dv lgl" x="1915.1" y="154.5">Phosphate</text>
<text class="dv lgl" x="1915.1" y="174.4">T4</text>
<text class="dv lgl" x="1915.1" y="194.4">TSH</text>
<text class="dv lgl" x="1915.1" y="214.4">Total protein</text>
<text class="dv lgl" x="1915.1" y="234.4">Vitamin D</text>
<polyline class="F2b2f8f" points="1473.1,221.8 1418.5,220.3 1665.4,220.2 1352.9,219.6 1500.4,221.7 1770.8,219.2 1563,219.8 1427.7,219.9 1579.7,221.3 1702.6,220.7 1787.8,221.7 1636.2,220.1 1789.1,221.8 1473.4,220.4 1340,220.6 1771.2,221.8 1491.3,221.8 1487.8,219.4 1341.2,220.9 1467.3,221.1 1476.8,219.5 1781.7,221.3 1623.7,219.3 1460.1,221.3 1403.4,220.1 1694.8,221.1 1657.5,219.2 1556.8,220.2 1343,220.3 1516.3,220.4 1485.4,221.2 1489.8,219.3"/><polyline class="F3a3aa0" points="1519.8,219.3 1647.1,220.7 1533.1,221.6 1345.9,219.4 1673.8,220.8 1590.1,220.5 1498.3,220.9 1474.5,221 1367.6,220.4 1780.1,221.6 1589.2,219.9 1711.3,220 1780.9,219.5 1559.5,220.6 1401.3,221.6 1691.9,220.9 1452.8,219.8 1568.8,221.5 1480.9,221.4"/><polyline class="F377EB8" points="1574.3,219.9 1358.2,220.6 1539.4,219.5 1590.8,221.1 1366.7,220"/><polyline class="F984EA3" points="1488.5,220.3 1755.7,219.1 1737.9,220.4"/>
<polyline class="PA65628" points="1328.8,223.7 1328.9,222.1 1328.6,220.4 1328.6,218.8 1328.9,217.3 1328.7,215.7 1328.5,214.3 1328.8,212.9 1328.6,210.6 1328.6,209.1 1328.6,207 1328.8,205.8 1328.6,204 1328.8,202.3 1328.8,200 1328.9,197.9 1328.8,195.5 1328.5,194.3 1328.8,192.1 1328.5,190 1328.8,185.6 1328.7,181.3 1328.7,177.8 1328.8,175.7 1328.8,172.3 1328.7,169.8"/><polyline class="P984EA3" points="1327,212.9 1327,205.2 1327,197.5 1327,189.8 1327,175.9"/><polyline class="PFF7F00" points="1330,159"/><polyline class="PA65628" points="1337.2,194.4 1337.2,192.3 1337.1,189.9 1337,186.1 1337.1,183.5 1337,180.3 1336.8,177.7 1336.9,173.4 1337,171.3 1337.1,212.9 1337.1,211.7 1337,210.1 1336.9,208.1 1336.9,205.6 1337,204.3 1336.9,201.8 1337,199"/><polyline class="PFFFF33" points="1335.5,206.7 1335.5,174.4 1335.5,155.9"/><polyline class="PA65628" points="1345.1,192.9 1345.1,190.6 1345.1,187.5 1345.3,185.3 1345.4,181.6 1345,178.3 1345.2,176.3 1345.4,173.8 1345.2,170.8 1345,166.7 1345.2,164.5 1345.1,161.1 1345.2,157.4 1345.2,214.4 1345.2,211.4"/><polyline class="PF781BF" points="1354.3,214.4 1354.1,212.3 1354.4,210.8 1354.4,208.5 1354.3,206.6 1354.1,205 1354.1,203 1354.4,200.9 1354.2,199.3 1354.3,197.5"/><polyline class="PA65628" points="1364.3,214.4 1364.3,212.1 1364.3,209.8"/><polyline class="PFFFF33" points="1369,214.4"/><polyline class="PE41A1C" points="1374.2,211.4 1374,210.1 1374.3,208.5 1374.4,206.1 1374,203.9 1374.2,202.7 1374.1,200.1 1374.3,197.6 1374,196 1374.2,194.4 1374.2,180.8"/><polyline class="PF781BF" points="1374.2,209.8 1374.2,199"/><polyline class="PA65628" points="1406.9,205.2 1406.9,181.3"/><polyline class="P377EB8" points="1406,211.4"/><polyline class="P4DAF4A" points="1432.9,223.7 1432.7,222.2 1432.8,220.8 1432.7,218.8 1432.8,216.4 1432.8,215.2 1432.6,213.8 1432.6,212.3 1432.5,210.4 1432.6,208.2 1432.7,206.4 1432.8,204.7 1432.7,203.2 1432.6,200.9 1432.8,199.7 1432.6,197.6 1432.5,196.1 1432.7,193.9 1432.6,189.4 1432.8,186.9 1432.6,184.2 1432.6,180.6 1432.7,179 1432.7,166.7 1432.7,163.6 1432.7,160.5 1432.7,157.4 1432.7,154.3 1432.7,149.7 1432.7,145.1 1432.7,112.7 1432.7,109.7 1432.7,106.6 1432.7,103.5 1432.7,102 1432.7,82.2 1432.7,74.2"/><polyline class="PFFFF33" points="1432.7,214.4 1432.7,211.4"/><polyline class="P999999" points="1458.3,211.4 1458.3,203.6 1458.3,200.6 1458.3,197.5 1458.3,191.3 1458.3,188.2 1458.3,185.2 1458.3,182.1 1458.3,179 1458.3,175.9"/><polyline class="PE41A1C" points="1458,216"/><polyline class="PA65628" points="1468.4,182.1 1468.4,178.5 1468.4,176 1468.4,171.8 1468.6,168.2 1468.3,164.3 1468.6,159.9 1468.5,159"/><polyline class="P377EB8" points="1470.6,214.4 1470.8,213.1 1470.8,211.1 1470.7,208.9 1470.8,206.9 1470.8,205.1 1470.7,203.4 1470.7,201.1 1470.6,199.9 1470.7,198.2 1471,196.5 1470.8,194.4 1470.7,183.6 1470.8,180.9 1470.8,178.4 1471,174.5 1470.8,172.4 1471,169.9 1470.8,165.4 1470.8,162.9 1471,158.9 1470.6,155.2 1470.6,153 1470.7,149.4 1470.7,145.7 1470.8,143.6"/><polyline class="P222222" points="1470.8,140.5"/><polyline class="PA65628" points="1491.7,217.5 1491.9,215.8 1491.9,213.6 1491.9,211.2 1491.9,209.3 1491.8,207 1491.7,205.4 1491.6,203.9 1491.7,201.4 1491.9,199.1 1491.9,197.4 1491.9,196 1491.8,194.4 1491.8,187.5 1491.8,163.6 1491.8,126.6 1491.8,95.8 1491.8,92.7 1491.8,89.6 1491.8,86.6 1491.8,80.7 1515,209.8 1515,207.2 1514.9,205.9 1514.8,203.9 1515.1,201.3 1515.1,199.4 1514.9,197.1 1515,194.4"/><polyline class="P377EB8" points="1518.2,214.4 1518.4,212.5 1518.4,211.4 1518.4,209.8 1518.4,207.3 1518.2,205.4 1518.3,203 1518.4,201.7 1518.3,199.8 1518.2,198.4 1518.3,196.3 1518.4,195.1 1518.3,193.6 1518.3,190.5 1518.2,188.2 1518.4,184.8 1518.3,180.5 1518.3,159 1518.3,157.4 1518.3,155.9"/><polyline class="PFF7F00" points="1508,216 1508,212.9"/><polyline class="PFFFF33" points="1512,208.3"/><polyline class="PA65628" points="1538.4,211.4 1538.4,210.2 1538.1,208.5 1538.2,206.4 1538.3,204.4 1538.2,202.2 1538.2,200.6 1538.2,198.7 1538.2,197 1538.5,195.7 1538.4,193.3 1538.3,191.3"/><polyline class="PFF7F00" points="1532,217.5 1532,214.4 1532,211.4"/><polyline class="P4DAF4A" points="1551,216"/><polyline class="PE41A1C" points="1568.2,214.4 1568.5,213.3 1568.1,212 1568.3,210.8 1568.4,208.9 1568.4,206.3 1568.1,205.2 1568.2,203.2 1568.5,202 1568.4,199.6 1568.3,197.9 1568.2,196.8 1568.2,194.2 1568.1,191.3 1568.3,189.8"/><polyline class="PA65628" points="1572,214.4 1572,211.4 1572,208.3"/><polyline class="P984EA3" points="1584,212.9 1584,208.3 1584,203.6"/><polyline class="PA65628" points="1590.1,214.4 1590.1,212.2 1590.1,209.7 1590,208 1589.8,205.7 1589.8,204.5 1589.9,202.9 1589.8,201 1590.1,199 1590,196.8 1589.9,194.4 1594.4,212.9 1608.7,208.3 1608.7,203.6 1608.7,200.6 1608.7,197.5 1608.7,169.8 1608.7,165.1 1608.7,162 1608.7,159"/><polyline class="PFFFF33" points="1614,200.6"/><polyline class="P984EA3" points="1613,214.4"/><polyline class="P377EB8" points="1618.6,214.4 1618.5,212.6 1618.5,210.4 1618.4,209.3 1618.6,207.2 1618.6,205.6 1618.5,203.9 1618.7,202 1618.6,199.5 1618.7,197.7 1618.5,195.9 1618.5,194.3 1618.5,190.3 1618.4,187.7 1618.6,186.7 1618.6,179 1618.6,174.4 1618.6,169.8 1618.6,165.1 1618.6,162 1618.6,159 1649.3,214.4 1649.4,212.2 1649.1,211 1649.2,209 1649.4,207.6 1649.2,206.4 1649.2,204.4 1649.3,203 1649.2,202.1 1649.2,172.8 1649.2,150.3"/><polyline class="P984EA3" points="1651,197.5 1651,194.4"/><polyline class="PFF7F00" points="1662.9,214.4 1662.7,212.9 1662.9,211.6 1662.8,210.4 1663,208.6 1662.9,206.4 1662.6,205.1 1662.7,202.7 1662.7,200.6 1662.6,198.7 1662.6,197.4 1662.6,195.2 1662.8,193.1 1662.9,189.3 1663,186.7 1662.7,183.3 1663,179.4 1662.8,176.5 1663,173.5 1662.8,170.1"/><polyline class="PA65628" points="1673,212.9"/><polyline class="PE41A1C" points="1683.2,212.9"/><polyline class="PA65628" points="1689,211.4"/><polyline class="P377EB8" points="1702.3,204.4"/><polyline class="PA65628" points="1711,212.9 1711,209.8"/><polyline class="P377EB8" points="1718,199 1718,195.9"/><polyline class="PA65628" points="1722,206.7 1722,203.6 1722,200.6"/><polyline class="PF781BF" points="1722,209.8"/><polyline class="PFFFF33" points="1722.4,192.6"/><polyline class="PA65628" points="1738.3,214.4 1738.2,212 1738.2,209.6 1738.2,208 1738.4,206 1738.4,204.1 1738.1,201.8 1738.2,200.3 1738.5,198.1 1738.4,196.1 1738.2,194.3 1738.3,191.4 1738.1,187.9 1738.2,184.2 1738.2,181 1738.2,178.7 1738.1,176.3 1738.5,172 1738.3,170.1"/><polyline class="PFF7F00" points="1744,212.9"/><polyline class="PA65628" points="1754.2,214.4 1754.2,212.4 1754,211 1754.1,209.7 1754,207.5 1753.8,205.7 1754,203.2 1754.1,200.8 1753.8,199.6 1754,197.5"/><polyline class="PE41A1C" points="1754,197.5"/><polyline class="PF781BF" points="1758.8,214.4 1758.6,212.1 1758.5,209.7 1758.7,208 1758.8,206.8 1758.6,205.5 1758.9,204 1758.8,201.8 1758.8,200 1758.7,197.5 1758.8,186.7 1758.8,183 1758.7,179.8 1758.5,176.6 1758.8,173.1 1758.6,171 1758.6,167.3 1758.7,165.2 1758.8,161.9 1758.6,159.7 1758.6,156.9 1758.7,154.3"/><polyline class="PA65628" points="1768.9,214.4 1768.9,211.4"/><polyline class="P377EB8" points="1785.9,214.4 1786,212.8 1786.1,210.7 1785.9,208.4 1785.8,206.8 1785.9,205.7 1785.7,204.4 1785.8,202 1785.8,200.5 1786,199.3 1786,197.9 1786,196.6 1786,194.1 1785.8,189.8 1786,186 1785.8,184 1786,179.7 1786.1,176.4 1785.9,174.4 1786,166.7 1785.7,164.6 1785.7,161.3 1786,158.4 1785.8,155.1 1785.7,151.3 1785.9,148.2 1785.9,117.4 1785.9,88.1 1785.9,86.6 1785.9,85 1785.9,83.5 1785.9,80.4 1785.9,74.2 1793.2,214.4 1793.2,213.3 1793.1,211.7 1793,210.5 1793.1,208.8 1793.1,206.6 1793.2,205.2 1793,203.3 1793.3,201.5 1793.2,199 1793.1,197.8 1792.9,195.5 1792.9,194.1 1793.2,190 1793.1,187.5 1793,185.4 1793,181.4 1793.3,177.9 1793.1,174.7 1793.1,169.8 1793.2,159 1793,156.1 1793.1,153 1792.9,150.4 1792.9,147.9 1793.2,144.3 1793.3,140.8 1793,136.9 1793.1,133.1 1792.9,129.5 1792.9,127.2 1793.2,123.3 1793.3,118.8 1793.1,116.5 1792.9,111.9 1792.9,108.7 1793.2,105.7 1793.1,103.5"/><polyline class="PE41A1C" points="1793.1,212.9 1793.1,209.8"/><polyline class="P377EB8" points="1819.4,214.4 1819.2,212.9 1819.2,211.1 1819.2,208.7 1819.1,207 1819.3,204.7 1819.1,202.2 1819.2,200.6 1819.2,183.6"/><polyline class="P4DAF4A" points="1803.6,212.9"/>
<polyline class="B377EB8" points="1329.1,223.1 1334.9,223.2 1358.5,222.9 1367.3,223 1380.2,222.9 1477.5,222.9 1480.6,223.1 1497.8,223.1 1502.4,223.4 1534.6,222.9 1553.3,222.8 1558.7,222.9 1561,223.4 1594.8,223.2 1606.6,223.2 1637.9,223.1 1647.5,223 1671.5,223.1 1731.3,223.3 1738.7,222.8 1773.9,223.1 1797.6,223.2"/><polyline class="B984EA3" points="1370,222.7 1393.5,223.4 1442.1,223.2 1454.2,223.1 1507.7,223.4 1521.9,223 1663.6,223.3 1690.9,222.8 1740.6,222.9 1751.9,223.1 1813.7,223.2"/><polyline class="B3a3aa0" points="1332.4,222.9 1340.2,223.3 1345.1,223.2 1355.9,222.9 1363.7,223 1374.1,222.9 1377.8,222.9 1401.5,223.2 1405.3,222.7 1408.2,223 1411.9,223 1421.4,223.3 1434.3,222.8 1436.4,222.8 1445.8,223 1500.5,223.4 1510.8,222.8 1516,222.9 1518.1,223 1526.3,222.8 1536.4,223.1 1544,222.9 1550.4,223.2 1564.1,222.7 1567.2,223.2 1568.9,223.3 1575.2,222.7 1579.1,222.8 1597.4,223.1 1617.2,223 1669.7,222.8 1673.4,223.4 1699.1,223.1 1700.9,223.3 1717.1,223.3 1736.1,223 1781.2,222.7 1783.4,223.2 1785.4,222.8 1787.4,223.1 1789,222.8 1817.6,223.4"/><polyline class="B2b2f8f" points="1337.4,223.4 1343.4,223.3 1353.4,223.3 1362,223.2 1372.6,223.2 1381.8,222.9 1390,222.9 1397,223 1399.1,223 1415.6,223.4 1418.3,222.7 1424.5,222.9 1428,223.2 1431.6,222.9 1439.8,223 1448.8,222.9 1451.6,222.8 1458,223.1 1461.1,222.8 1463.6,223.3 1467.2,223.2 1468.8,222.8 1471.7,223 1474.5,222.9 1482.9,223.3 1485.6,223 1488.4,222.8 1490.2,223.2 1493.2,223.3 1495.8,223 1504.3,223.1 1513.1,223 1520.1,223.3 1524.3,222.7 1528.7,223.2 1531.2,223.3 1539.5,223.4 1541,223.1 1546.6,223.2 1556,223.1 1571.3,223 1581.4,223.3 1583.1,223.1 1586.7,222.9 1588.6,222.9 1590.6,223.3 1593,222.9 1608.1,223.3 1611.8,223.2 1614,223.1 1619.7,222.7 1623.2,223.3 1625.5,223 1629,222.9 1632.2,223.1 1634.6,223.1 1641.7,223 1644,223.4 1650.3,223.1 1652.1,222.9 1653.9,223 1655.9,222.8 1658.4,223.1 1660.7,222.8 1665.2,223.1 1668.1,223 1677.3,222.8 1679.2,223 1682.5,223 1693.2,223.3 1696.1,223.4 1702.8,223.3 1712.3,223.3 1714.5,222.9 1718.8,222.9 1733.9,223 1754,223.2 1756.9,223.4 1760.6,223.2 1763.8,223.1 1766.5,222.8 1768.3,223 1772,223.3 1776.7,223.3 1778.4,223.1 1790.6,222.7 1793.9,223.1 1795.6,222.7 1800.1,223.1 1802,223.1 1811.6,222.9 1815.8,222.9 1819.4,223.1 1822.1,223.3"/><polyline class="B377EB8" points="1368.8,223.2 1397.2,222.9 1450.1,223.1 1488.8,223.2 1558.1,222.9 1565.1,223.4 1572.3,222.8 1584.2,222.8 1589.8,223 1648.2,223.2 1679.1,223.1 1694.6,222.8 1753.3,223.1 1776.8,223.2 1788.2,223.1"/><polyline class="B984EA3" points="1402.7,222.8 1409.6,223.3 1424.6,222.8 1437.5,222.8 1453.8,223.2 1479.8,222.9 1507.7,223.3 1513.1,222.9 1532.8,223.2 1548.7,222.9 1627.2,222.9 1662.5,223.2 1691.7,222.8 1741,223.1 1743.4,223.1"/><polyline class="B3a3aa0" points="1340.7,222.8 1355,223.2 1361.3,222.9 1372.2,223 1377.5,223.1 1379.8,223.4 1405.4,222.9 1423.1,223.4 1427.9,222.8 1433.8,223.3 1444,223.4 1446.4,223 1462.2,223.2 1471.8,223.3 1476.3,223.1 1485.1,223.2 1497.7,223.2 1504.1,223.2 1510.8,223.1 1516.6,223.4 1521.5,223.4 1542.3,222.7 1578,222.9 1595.7,223.2 1622.4,222.8 1624.3,222.7 1644.4,223.1 1650.6,223.1 1659,222.8 1716.4,223.1 1737.4,222.7 1750.4,222.8 1760.4,223.4 1766.5,223.3 1769,222.8 1770.8,223.3 1790.2,223.1 1818,223.3 1819.7,223.3 1821.5,223.3"/><polyline class="B2b2f8f" points="1327.7,222.8 1329.5,223.3 1331.9,223.3 1335.3,223.1 1338.6,223.1 1343.5,223.2 1358.6,223 1365.1,223.3 1374.8,223.3 1382.1,223.1 1391.1,223.3 1394,223 1399,223.1 1407.1,223 1411.7,223 1413.6,223.1 1416.2,222.7 1420,222.9 1429.9,223.2 1441.3,223.2 1448,223.2 1456.1,222.9 1459.6,223.4 1465.1,223.3 1468.1,223.1 1474.1,223 1481.4,223.3 1486.6,223.2 1492.4,222.8 1494.6,222.9 1501.5,222.8 1514.6,223 1519,222.9 1525.2,223.1 1528.2,223.4 1530.5,222.9 1535.9,222.8 1538.4,223.1 1545,222.9 1550.8,223.1 1553.4,222.8 1556.1,222.9 1560.6,223 1562.9,223 1566.7,223.1 1569.5,222.9 1574.6,223.2 1580.8,223 1586.7,223.4 1592.3,223.3 1606.9,223 1609.8,223.4 1613,223 1615.9,223.3 1619.2,223.3 1629.7,223 1633.4,222.8 1636.5,223.2 1639.2,222.9 1642.3,223.1 1653.8,223 1656.4,222.7 1665.8,223.1 1668.5,223.4 1670.3,223.1 1673.7,222.9 1675.4,223 1683,222.9 1698.2,223.4 1700.5,223.3 1703.2,223.2 1712.5,223.4 1719.3,223 1720.9,222.8 1729.7,223.1 1731.3,223 1733.6,223 1735.1,223.2 1756.8,223.4 1763.6,223.2 1773.9,223.3 1778.7,223 1781.7,223.3 1784.7,223.3 1793.6,222.9 1796.3,222.8 1799,222.9 1802.1,223 1804,222.8 1811.9,223.1 1815.4,223.1"/><polyline class="B377EB8" points="1333.1,223.1 1336.1,223.4 1370.5,222.9 1372.9,223.4 1409.9,223.3 1446.4,223.2 1491.1,222.9 1516.9,223.2 1539.7,222.9 1611.1,223.1 1620.2,223.3 1662.4,223 1681,222.8 1718.7,222.7 1753.8,223"/><polyline class="B984EA3" points="1354,222.8 1367.9,222.9 1463.4,223 1499.3,223.1 1520.4,223 1543.5,223.4 1545.7,223.4 1547.7,222.9 1622.7,222.7 1644.2,222.8 1659.1,222.7 1743.3,223.2 1750.5,223.1 1756.1,222.9 1775.1,223.1 1819.9,223.2"/><polyline class="B3a3aa0" points="1327.7,222.8 1341.5,222.7 1355.9,223 1358.2,222.7 1364.7,223.3 1380.5,222.9 1416.5,223.4 1419.9,223 1457.9,223.3 1478.2,223.1 1535.6,223.3 1537.4,223.3 1582.6,222.9 1629.8,223.3 1639.5,223.2 1700.6,222.8 1752,222.9 1761.8,223.1 1768.7,222.9 1777.7,222.8 1783.2,222.8 1786.1,223 1793.1,223 1817.2,223 1822,223.2"/><polyline class="B2b2f8f" points="1329.8,223 1338.4,222.9 1345.1,222.9 1360.3,222.8 1362.5,223 1374.7,222.8 1378.4,223.3 1382.5,223.2 1390.6,223.4 1392.6,223.2 1396.1,223.1 1397.8,223.4 1400.9,223.4 1403.3,223.1 1405.1,222.9 1406.9,222.8 1408.4,223.1 1413.6,222.8 1423,223.4 1426,223.2 1429.6,222.8 1432,222.7 1434.6,222.7 1436.4,223.2 1439.5,222.8 1442,223 1443.7,223.4 1450,223.4 1452.7,223.2 1455.2,222.9 1461.4,223.3 1466.6,222.7 1469.3,223.2 1471.7,223.2 1473.9,222.9 1476.5,222.9 1480.5,223.3 1482.8,222.8 1484.9,223.4 1488.7,223.4 1493.8,222.7 1496.6,222.8 1501.5,222.9 1504.3,223.1 1507.7,223.2 1511.1,223.2 1513.1,223.2 1523.2,222.8 1524.9,223.3 1526.8,222.9 1530.6,222.8 1532.8,223.3 1550.7,223.4 1553.7,222.9 1556.8,223 1559,223.3 1562.4,223.3 1565.7,223.1 1568.6,222.8 1570.5,222.8 1573.1,223.1 1575,223.2 1578.3,223.3 1581,223 1585.3,223.3 1589.1,222.8 1590.8,223.2 1592.6,223 1595.5,223.1 1606.2,223.2 1607.7,223.2 1614.5,222.8 1617.1,223.4 1624.6,222.8 1626.7,223.2 1631.6,223.2 1635.4,223 1637.3,222.8 1642.4,222.8 1647.9,222.9 1650.7,223.1 1652.4,223.1 1655.3,223.2 1664.5,223 1666.4,223.2 1668,223.4 1671.7,223.4 1675,223 1677.1,223.1 1683.8,222.8 1693.7,223.2 1695.8,222.7 1698.3,223 1702.6,223 1711.1,223.3 1713.6,223.1 1716.5,223.3 1730.7,222.7 1733.7,223.1 1736.6,223.3 1739.6,223.3 1759.8,223.1 1765.2,223.1 1771.3,223.4 1781.5,222.8 1789.5,222.8 1795.6,223.1 1799,223.3 1802.2,223.2 1813.5,223.2"/>
<line class="segC" x1="1335.5" y1="146.2" x2="1335.5" y2="154.1"/>
<line class="segC" x1="1374.2" y1="172.2" x2="1374.2" y2="177.9"/>
<line class="segC" x1="1432.6" y1="66.3" x2="1432.7" y2="71.5"/>
<line class="segC" x1="1467.5" y1="130" x2="1470" y2="137"/>
<line class="segC" x1="1520" y1="147.8" x2="1518.3" y2="154"/>
<line class="segC" x1="1547" y1="207.3" x2="1547.3" y2="213"/>
<line class="segC" x1="1612" y1="153.6" x2="1618" y2="159"/>
<line class="segC" x1="1655" y1="138.6" x2="1650" y2="148"/>
<line class="segC" x1="1670" y1="164.8" x2="1664" y2="170"/>
<line class="segC" x1="1693" y1="203.8" x2="1701" y2="208"/>
<line class="segC" x1="1718" y1="186" x2="1722" y2="192"/>
<line class="segC" x1="1736" y1="163.6" x2="1738" y2="170"/>
<line class="segC" x1="1760" y1="146.2" x2="1759" y2="153"/>
<line class="segC" x1="1785.9" y1="66.3" x2="1785.9" y2="71.5"/>
<line class="segC" x1="1815" y1="177" x2="1819" y2="183"/>
<line class="segC" x1="1806" y1="207.3" x2="1804" y2="212"/>
<text class="dv gl" text-anchor="middle" x="1335.5" y="143.5">DIO1</text>
<text class="dv gl" text-anchor="middle" x="1374.2" y="169.5">GCKR</text>
<text class="dv gl" text-anchor="middle" x="1432.5" y="63.5">CASR</text>
<text class="dv gl" text-anchor="middle" x="1466.9" y="127.2">C4orf51</text>
<text class="dv gl" text-anchor="middle" x="1520.6" y="145.1">MMUT</text>
<text class="dv gl" text-anchor="middle" x="1544.7" y="204.6">IKZF1</text>
<text class="dv gl" text-anchor="middle" x="1610.9" y="151">CUBN</text>
<text class="dv gl" text-anchor="middle" x="1655.6" y="136">CBLIF</text>
<text class="dv gl" text-anchor="middle" x="1671.4" y="162.3">FGF6</text>
<text class="dv gl" text-anchor="middle" x="1690.3" y="201.3">CLYBL</text>
<text class="dv gl" text-anchor="middle" x="1716.8" y="183.2">DIO3</text>
<text class="dv gl" text-anchor="middle" x="1735.4" y="161">DET1</text>
<text class="dv gl" text-anchor="middle" x="1760.5" y="143.5">TNFRSF13B</text>
<text class="dv gl" text-anchor="middle" x="1756.4" y="194.5">MAF</text>
<text class="dv gl" text-anchor="middle" x="1785.9" y="63.5">CD320</text>
<text class="dv gl" text-anchor="middle" x="1814.7" y="174.1">SLC35E4</text>
<text class="dv gl" text-anchor="middle" x="1806.3" y="204.7">CYP24A1</text>
<text class="dv ttl" x="554.8" y="289.8">Acute phase reactant</text>
<rect class="bord" x="554.6" y="300" width="545" height="181.3"/>
<line class="tick" x1="551.2" y1="477.8" x2="554.6" y2="477.8"/>
<text class="dv tC" text-anchor="end" x="548.4" y="481.3">0</text>
<line class="tick" x1="551.2" y1="430.9" x2="554.6" y2="430.9"/>
<text class="dv tC" text-anchor="end" x="548.4" y="434.4">30</text>
<line class="tick" x1="551.2" y1="384" x2="554.6" y2="384"/>
<text class="dv tC" text-anchor="end" x="548.4" y="387.5">60</text>
<line class="tick" x1="551.2" y1="337.1" x2="554.6" y2="337.1"/>
<text class="dv tC" text-anchor="end" x="548.4" y="340.6">90</text>
<text class="dv aC" style="font-size:12px" text-anchor="middle" transform="translate(526.6 391.4) rotate(-90)">−<tspan dx="2.2">log</tspan><tspan font-size="8.6" dy="3.3">10</tspan><tspan dy="-3.3"> P</tspan></text>
<line class="tick" x1="599.5" y1="481.3" x2="599.5" y2="484.9"/>
<text class="dv tC" text-anchor="middle" transform="translate(606.9 493.9) rotate(-90)">1</text>
<line class="tick" x1="641.7" y1="481.3" x2="641.7" y2="484.9"/>
<text class="dv tC" text-anchor="middle" transform="translate(649.1 493.9) rotate(-90)">2</text>
<line class="tick" x1="681.5" y1="481.3" x2="681.5" y2="484.9"/>
<text class="dv tC" text-anchor="middle" transform="translate(688.9 493.9) rotate(-90)">3</text>
<line class="tick" x1="713.1" y1="481.3" x2="713.1" y2="484.9"/>
<text class="dv tC" text-anchor="middle" transform="translate(720.5 493.9) rotate(-90)">4</text>
<line class="tick" x1="746.9" y1="481.3" x2="746.9" y2="484.9"/>
<text class="dv tC" text-anchor="middle" transform="translate(754.3 493.9) rotate(-90)">5</text>
<line class="tick" x1="773.2" y1="481.3" x2="773.2" y2="484.9"/>
<text class="dv tC" text-anchor="middle" transform="translate(780.6 493.9) rotate(-90)">6</text>
<line class="tick" x1="804.4" y1="481.3" x2="804.4" y2="484.9"/>
<text class="dv tC" text-anchor="middle" transform="translate(811.8 493.9) rotate(-90)">7</text>
<line class="tick" x1="829" y1="481.3" x2="829" y2="484.9"/>
<text class="dv tC" text-anchor="middle" transform="translate(836.4 493.9) rotate(-90)">8</text>
<line class="tick" x1="857.4" y1="481.3" x2="857.4" y2="484.9"/>
<text class="dv tC" text-anchor="middle" transform="translate(864.8 493.9) rotate(-90)">9</text>
<line class="tick" x1="880" y1="481.3" x2="880" y2="484.9"/>
<text class="dv tC" text-anchor="middle" transform="translate(887.4 493.9) rotate(-90)">10</text>
<line class="tick" x1="902.1" y1="481.3" x2="902.1" y2="484.9"/>
<text class="dv tC" text-anchor="middle" transform="translate(909.5 493.9) rotate(-90)">11</text>
<line class="tick" x1="925.9" y1="481.3" x2="925.9" y2="484.9"/>
<text class="dv tC" text-anchor="middle" transform="translate(933.3 493.9) rotate(-90)">12</text>
<line class="tick" x1="948.7" y1="481.3" x2="948.7" y2="484.9"/>
<text class="dv tC" text-anchor="middle" transform="translate(956.1 493.9) rotate(-90)">13</text>
<line class="tick" x1="968.8" y1="481.3" x2="968.8" y2="484.9"/>
<text class="dv tC" text-anchor="middle" transform="translate(976.2 493.9) rotate(-90)">14</text>
<line class="tick" x1="986.4" y1="481.3" x2="986.4" y2="484.9"/>
<text class="dv tC" text-anchor="middle" transform="translate(993.8 493.9) rotate(-90)">15</text>
<line class="tick" x1="1001.9" y1="481.3" x2="1001.9" y2="484.9"/>
<text class="dv tC" text-anchor="middle" transform="translate(1009.3 493.9) rotate(-90)">16</text>
<line class="tick" x1="1016.4" y1="481.3" x2="1016.4" y2="484.9"/>
<text class="dv tC" text-anchor="middle" transform="translate(1023.8 493.9) rotate(-90)">17</text>
<line class="tick" x1="1030.6" y1="481.3" x2="1030.6" y2="484.9"/>
<text class="dv tC" text-anchor="middle" transform="translate(1038 493.9) rotate(-90)">18</text>
<line class="tick" x1="1042.2" y1="481.3" x2="1042.2" y2="484.9"/>
<text class="dv tC" text-anchor="middle" transform="translate(1049.6 493.9) rotate(-90)">19</text>
<line class="tick" x1="1053.2" y1="481.3" x2="1053.2" y2="484.9"/>
<text class="dv tC" text-anchor="middle" transform="translate(1060.6 493.9) rotate(-90)">20</text>
<line class="tick" x1="1063.8" y1="481.3" x2="1063.8" y2="484.9"/>
<text class="dv tC" text-anchor="middle" transform="translate(1071.2 493.9) rotate(-90)">21</text>
<line class="tick" x1="1072" y1="481.3" x2="1072" y2="484.9"/>
<text class="dv tC" text-anchor="middle" transform="translate(1079.4 493.9) rotate(-90)">22</text>
<text class="dv aC" text-anchor="middle" x="827.1" y="513.3">Chromosome</text>
<text class="dv lgt" x="1152.1" y="362.3">Phenotype</text>
<g class="lg"><circle cx="1161.9" cy="379.9" r="3" fill="#E41A1C"/><circle cx="1161.9" cy="399.9" r="3" fill="#377EB8"/><circle cx="1161.9" cy="419.8" r="3" fill="#4DAF4A"/></g>
<text class="dv lgl" x="1178.5" y="383.6">CRP</text>
<text class="dv lgl" x="1178.5" y="403.6">ESR</text>
<text class="dv lgl" x="1178.5" y="423.5">Ferritin</text>
<polyline class="F4DAF4A" points="932,469 1018,470.2 1019,471.1 876.5,470.4 699.6,470.9 796.2,469.3 1034.4,470.6 660.5,469.7 1071.5,470.5 631.6,470.1 861.9,471.2 649.1,469.7 1022.6,470.5 829.9,468.6 1018.7,468.5 591.4,471 1002.8,470.4 1044.7,468.7 779.7,469 691.5,469.1 702.4,470.8 743,468.7 1044.4,470.2 1065.4,469.1 810.7,470.8 964.3,468.9 807.2,470.2 809.2,471.2 804.8,468.6 694.2,470.8 580.9,468.5"/><polyline class="F999999" points="646.9,470.9 1003.6,469.1 890.5,468.5 787.7,468.9 673.6,470.5 664.6,470.8 653.3,470.2 673.5,469.6 988.9,469.8 905.9,469.8 612.4,468.9 627.8,471.1 619.9,469.3 827.1,471.1"/><polyline class="F5a7a9a" points="863.2,470.2 834.9,468.4 812.5,470.8"/><polyline class="F3a6a4a" points="713.8,470.4 737.4,469.7 581.7,468.6"/><polyline class="FE41A1C" points="794,470.4"/>
<polyline class="P377EB8" points="583.3,452.8 583.2,450.7 583.5,448.3 583.1,447.2 583.5,444.7 583.2,442.1 583.3,438.7"/><polyline class="PE41A1C" points="590.5,465.3 590.3,463.8 590.4,461.6 590.4,460.3 590.4,459 606.5,437.2 606.5,435.1 606.6,431 606.3,427.6 606.4,424.2 606.5,420.4 606.4,417.9 606.6,415.7 606.4,411.8 606.4,409 606.5,463.7 606.4,461.8 606.3,460.7 606.4,459.2 606.3,457.6 606.4,455.4 606.3,453.5 606.6,451.3 606.6,450 606.4,448.1"/><polyline class="P4DAF4A" points="607.7,462.2"/><polyline class="P377EB8" points="614.8,463.7 614.4,461.9 614.7,460.3 614.5,458.2 614.6,457 614.5,454.8 614.6,453.1 614.7,451.6 614.4,449.6 614.5,448.3 614.7,446.3 614.5,444.4 614.8,443 614.6,440.3 614.6,407.5 614.6,402.8 614.6,399.6 614.6,396.5 614.6,393.4 614.6,390.3 614.6,351.2 614.6,348 614.6,344.9 614.6,341.8 614.6,330.8 614.6,329.3 614.6,327.7 614.6,326.2 614.6,324.6 614.6,323"/><polyline class="PE41A1C" points="641.2,463.7 641.2,462.2 641.2,459"/><polyline class="P377EB8" points="724.6,463.7 724.8,461.5 724.7,460.1 724.8,458.9 724.7,457.5 795.6,466.9"/><polyline class="PE41A1C" points="935,473.1 935.1,470.6 934.9,468.4 935.1,466 935.1,464.9 934.9,463.3 935.1,460.9 935,459.8 935.2,458.1 935.2,456.6 935.1,454.7 935,452.8 934.9,451.4 935,449.9 935,448.8 935,446.3 935.1,444.6 935,442.2 935,439.1 934.8,435.5 935.1,433.4 935,430 1044.5,464.2 1044.5,461.8 1044.3,459.4 1044.2,456.9 1044.3,454.5 1044.3,452.1 1044.4,450.9 1044.2,449.6 1044.5,447.9 1044.2,445.6 1044.1,443.6 1044.3,442.3 1044.2,438.1 1044.2,433.9 1044.3,430.9 1044.3,416.8"/><polyline class="P4DAF4A" points="1018.2,459.8"/><polyline class="P377EB8" points="1008,463.4"/><polyline class="P4DAF4A" points="866.9,466.9"/><polyline class="PE41A1C" points="819.6,468.4"/><polyline class="P4DAF4A" points="922.4,466.9"/>
<polyline class="CE41A1C" points="625.1,472.7 924.7,472.7 951.5,472.4"/><polyline class="C999999" points="580.9,472.7 583.1,472.2 589.9,472.6 596.8,472.2 609.6,472.7 620.7,472.6 642.5,472.2 648.9,472.5 651.3,472.2 655.7,472.3 671.1,472.8 693,472.7 712.2,472.5 721.2,472.4 748.4,472.6 772.8,472.4 808.9,472.6 823,472.2 848.7,472.3 864.2,472.4 884.2,472.6 910,472.8 935.2,472.7 1018.9,472.3"/><polyline class="C5a7a9a" points="613.5,472.3 630.6,472.3 669.4,472.6 694.5,472.2 724.7,472.8 739.5,472.2 762.1,472.4 765.7,472.5 768.9,472.6 780.9,472.5 788,472.7 803.3,472.8 805,472.3 815.7,472.2 840.6,472.5 845.3,472.5 860.4,472.2 885.7,472.1 984.4,472.8 990.9,472.4 1006,472.6 1026.5,472.3 1052,472.2"/><polyline class="C3a6a4a" points="586.6,472.5 654,472.3 657.9,472.2 666.5,472.4 676.6,472.7 684.4,472.4 701.6,472.7 704.8,472.4 715.9,472.3 717.6,472.6 733.2,472.8 735.8,472.3 745.5,472.3 775,472.4 789.9,472.3 835.9,472.3 888.3,472.7 894,472.6 897.5,472.2 902.4,472.2 915.1,472.3 918.4,472.6 927,472.2 953.2,472.3 966.9,472.5 982.5,472.2 1021.3,472.6 1028.4,472.2 1038.6,472.7 1040.4,472.8 1047.4,472.7"/><polyline class="C4DAF4A" points="584.9,472.5 593,472.8 607.5,472.3 615.9,472.5 618.4,472.3 622.5,472.4 628,472.2 633.7,472.6 645.2,472.2 660.6,472.5 663.2,472.3 664.7,472.4 673.7,472.3 678.5,472.2 681,472.5 687.6,472.4 690.4,472.7 697.8,472.8 707.1,472.5 708.8,472.3 728.4,472.3 731.6,472.6 742.9,472.4 750.1,472.3 751.7,472.5 754.3,472.4 757.3,472.6 759.1,472.5 771,472.8 778.1,472.6 782.6,472.4 784.4,472.8 793.2,472.5 795.4,472.7 798.8,472.1 801.5,472.8 810.7,472.4 813.3,472.4 819.3,472.1 826.8,472.7 828.4,472.6 831.1,472.4 834.3,472.6 837.7,472.8 842.7,472.8 858.7,472.4 866,472.3 869,472.5 871,472.7 874.2,472.3 876.7,472.6 879.2,472.3 882.6,472.6 890.1,472.3 900.3,472.3 906,472.7 908.5,472.4 911.9,472.4 921.3,472.4 929.9,472.5 932.3,472.7 945.5,472.5 947.3,472.3 949.9,472.6 963.1,472.7 970.8,472.1 972.4,472.4 987.7,472.5 993,472.7 1009.1,472.7 1012.3,472.4 1016.1,472.4 1023.7,472.7 1032,472.3 1035.9,472.2 1042.5,472.2 1044.1,472.6 1050.4,472.4 1053.7,472.6 1057.2,472.3 1066,472.6 1069.3,472.6 1071.4,472.7 1073,472.7"/><polyline class="CE41A1C" points="608.6,472.6 615.5,472.6 754.4,472.6 794.9,472.4 862.3,472.2 1073.9,472.7"/><polyline class="C5a7a9a" points="580.5,472.6 610.6,472.4 618.8,472.4 643.4,472.4 685.4,472.6 710.6,472.4 713.4,472.3 721.7,472.5 729.2,472.3 741.4,472.4 750.7,472.2 756.4,472.2 762.9,472.8 785.5,472.4 792.9,472.2 821.3,472.5 882.3,472.8 885.9,472.8 913,472.5 932.7,472.2 936.1,472.4 945.9,472.8 951.7,472.5 1043.8,472.5 1056.1,472.4"/><polyline class="C999999" points="604.8,472.6 630.2,472.8 632.9,472.1 641.1,472.7 655.7,472.3 704,472.7 735.9,472.2 738.3,472.6 744.3,472.3 790.8,472.7 819.1,472.6 836.7,472.8 845.4,472.7 848.8,472.3 857.2,472.4 993.5,472.6 995.1,472.7 1010.2,472.4 1011.9,472.6 1021.2,472.5 1034.7,472.7"/><polyline class="C3a6a4a" points="595,472.5 620.9,472.5 651.9,472.4 653.7,472.6 658.9,472.5 677.1,472.2 679.4,472.2 693.2,472.4 720,472.5 727.5,472.8 768.1,472.8 779.2,472.2 805.7,472.3 811.9,472.2 866.7,472.3 874.2,472.8 904.4,472.8 943.1,472.8 968.1,472.5 971,472.7 984.5,472.2 992,472.6 1037.8,472.3 1048.1,472.2 1053.8,472.4 1066.3,472.5 1071.8,472.3"/><polyline class="C4DAF4A" points="584.1,472.2 586.6,472.7 590.5,472.5 593,472.5 597.7,472.4 612.4,472.7 623.3,472.5 625.8,472.4 628.3,472.6 646.4,472.6 648.7,472.4 662.5,472.7 665.7,472.7 668.1,472.7 670.5,472.3 673.5,472.7 681.6,472.6 683.7,472.3 688.5,472.3 690.9,472.6 696.4,472.7 700.1,472.8 707.6,472.2 716.4,472.3 724.7,472.8 731.1,472.5 733,472.8 747.1,472.5 759,472.6 765.4,472.4 769.7,472.7 773.3,472.3 776.6,472.2 782.6,472.8 789.1,472.4 798.8,472.4 802.1,472.5 809.1,472.5 815.2,472.2 824.3,472.7 827.5,472.3 830.3,472.7 833.6,472.8 839.2,472.3 843,472.7 859.2,472.6 865.1,472.7 868.7,472.7 872.2,472.5 875.9,472.6 879.2,472.5 887.9,472.8 889.9,472.6 893.4,472.6 896.6,472.3 899.6,472.3 902.7,472.3 907.8,472.1 910.7,472.4 916.3,472.7 919.5,472.5 923.3,472.5 926.7,472.3 929.1,472.6 948.3,472.6 954.1,472.3 964.4,472.4 988,472.7 990.3,472.7 1003.8,472.7 1006.4,472.8 1014.5,472.6 1018.2,472.6 1024.9,472.5 1028.2,472.2 1030.9,472.1 1041.6,472.8 1045.3,472.5 1051.7,472.2 1069.9,472.5"/><polyline class="CE41A1C" points="608.4,472.3 717.2,472.6 764.9,472.7 827.3,472.1 904.9,472.2 991.5,472.5 1047.3,472.4 1068.7,472.3"/><polyline class="C5a7a9a" points="593.9,472.5 630.8,472.5 697,472.5 699,472.7 725.4,472.6 753.8,472.3 759.4,472.7 768.5,472.8 772.8,472.3 778.1,472.8 785.3,472.8 790.3,472.7 793.6,472.5 844.7,472.6 864.4,472.4 878.2,472.6 896.2,472.7 913.8,472.4 949.9,472.7 969.9,472.2 986.3,472.7 1022.9,472.5 1033.4,472.1 1035.3,472.2 1045.6,472.6"/><polyline class="C999999" points="615.1,472.4 675.7,472.6 715.6,472.4 729.3,472.4 744.7,472.7 805.1,472.6 806.9,472.3 847.3,472.8 875.3,472.3 889.8,472.8 912,472.4 934,472.3 944.9,472.4 982.7,472.3 1012.3,472.2 1014.9,472.5 1020.6,472.2 1051.9,472.7 1055.3,472.6"/><polyline class="C3a6a4a" points="580.9,472.8 610.5,472.6 625.8,472.3 646,472.4 649,472.7 657,472.7 660.1,472.3 662.9,472.7 694.5,472.4 713.7,472.6 719.6,472.5 732.1,472.4 741.2,472.2 747.3,472.5 762.6,472.8 782.8,472.4 799.2,472.6 812.4,472.5 816.8,472.5 833,472.7 835,472.4 859.5,472.6 866.3,472.4 868.8,472.4 870.5,472.3 893,472.4 917.4,472.8 930.1,472.2 953.7,472.6 964.2,472.5 972.6,472.2 989.7,472.6 995.9,472.3 1003.8,472.5 1006.8,472.7 1026.1,472.8"/><polyline class="C4DAF4A" points="584.4,472.6 587.3,472.8 591.1,472.5 597.6,472.5 612.9,472.4 618.5,472.8 620.4,472.4 622.2,472.7 628.7,472.2 633.7,472.4 643.4,472.6 651.4,472.4 654.1,472.8 666.8,472.6 670.6,472.2 672.4,472.8 679.1,472.3 682.8,472.6 686.7,472.3 688.3,472.7 691,472.3 702,472.8 704.7,472.3 707.7,472.1 710.5,472.7 721.6,472.8 733.8,472.6 736.6,472.8 739.2,472.3 750.9,472.7 755.8,472.2 770.5,472.6 774.5,472.4 780.8,472.6 787.2,472.7 795.3,472.5 802.8,472.2 808.9,472.1 814.7,472.7 820.1,472.3 822.4,472.7 824.5,472.6 829.3,472.4 838.4,472.1 841.6,472.3 862.3,472.2 872.9,472.4 881.2,472.3 884.5,472.8 887.2,472.2 899.4,472.6 901.8,472.5 908.8,472.1 920.7,472.5 923.2,472.8 925.9,472.7 928.3,472.7 932.2,472.7 948,472.2 951.8,472.6 967.2,472.5 993.5,472.2 1009.3,472.1 1017.8,472.2 1029.2,472.8 1031.4,472.2 1039,472.2 1041.9,472.7 1049.5,472.2 1066.4,472.7 1072,472.2 1074.2,472.4"/>
<line class="segC" x1="614.6" y1="316.3" x2="614.6" y2="323"/>
<line class="segC" x1="724.7" y1="448.8" x2="724.7" y2="454"/>
<line class="segC" x1="819" y1="459" x2="820" y2="466"/>
<line class="segC" x1="868" y1="458" x2="867" y2="465.5"/>
<line class="segC" x1="997.5" y1="460.3" x2="1006" y2="463.5"/>
<line class="segC" x1="1037" y1="442.6" x2="1020" y2="460"/>
<line class="segC" x1="1044.3" y1="408.7" x2="1044.3" y2="414.5"/>
<text class="dv gl" text-anchor="middle" x="614.6" y="313.6">CR1L</text>
<text class="dv gl" text-anchor="middle" x="724.7" y="446.2">FGB</text>
<text class="dv gl" text-anchor="middle" x="818" y="456.2">PPP1R3B</text>
<text class="dv gl" text-anchor="middle" x="868.5" y="455">ABO</text>
<text class="dv gl" text-anchor="middle" x="984.7" y="457.9">PIEZO1</text>
<text class="dv gl" text-anchor="middle" x="1037.2" y="440.1">SUPT4H1</text>
<text class="dv gl" text-anchor="middle" x="1044.3" y="406.1">APOE</text>
<text class="dv ttl" x="1302.6" y="289.8">Leukocyte</text>
<rect class="bord" x="1302.4" y="300" width="545" height="181.3"/>
<line class="tick" x1="1299" y1="478" x2="1302.4" y2="478"/>
<text class="dv tC" text-anchor="end" x="1296.2" y="481.5">0</text>
<line class="tick" x1="1299" y1="431.8" x2="1302.4" y2="431.8"/>
<text class="dv tC" text-anchor="end" x="1296.2" y="435.3">30</text>
<line class="tick" x1="1299" y1="385.5" x2="1302.4" y2="385.5"/>
<text class="dv tC" text-anchor="end" x="1296.2" y="389">60</text>
<line class="tick" x1="1299" y1="339.3" x2="1302.4" y2="339.3"/>
<text class="dv tC" text-anchor="end" x="1296.2" y="342.8">90</text>
<text class="dv aC" style="font-size:12px" text-anchor="middle" transform="translate(1274.4 391.4) rotate(-90)">−<tspan dx="2.2">log</tspan><tspan font-size="8.6" dy="3.3">10</tspan><tspan dy="-3.3"> P</tspan></text>
<line class="tick" x1="1347.3" y1="481.3" x2="1347.3" y2="484.9"/>
<text class="dv tC" text-anchor="middle" transform="translate(1354.7 493.9) rotate(-90)">1</text>
<line class="tick" x1="1389.5" y1="481.3" x2="1389.5" y2="484.9"/>
<text class="dv tC" text-anchor="middle" transform="translate(1396.9 493.9) rotate(-90)">2</text>
<line class="tick" x1="1429.3" y1="481.3" x2="1429.3" y2="484.9"/>
<text class="dv tC" text-anchor="middle" transform="translate(1436.7 493.9) rotate(-90)">3</text>
<line class="tick" x1="1460.9" y1="481.3" x2="1460.9" y2="484.9"/>
<text class="dv tC" text-anchor="middle" transform="translate(1468.3 493.9) rotate(-90)">4</text>
<line class="tick" x1="1494.7" y1="481.3" x2="1494.7" y2="484.9"/>
<text class="dv tC" text-anchor="middle" transform="translate(1502.1 493.9) rotate(-90)">5</text>
<line class="tick" x1="1521" y1="481.3" x2="1521" y2="484.9"/>
<text class="dv tC" text-anchor="middle" transform="translate(1528.4 493.9) rotate(-90)">6</text>
<line class="tick" x1="1552.2" y1="481.3" x2="1552.2" y2="484.9"/>
<text class="dv tC" text-anchor="middle" transform="translate(1559.6 493.9) rotate(-90)">7</text>
<line class="tick" x1="1576.8" y1="481.3" x2="1576.8" y2="484.9"/>
<text class="dv tC" text-anchor="middle" transform="translate(1584.2 493.9) rotate(-90)">8</text>
<line class="tick" x1="1605.2" y1="481.3" x2="1605.2" y2="484.9"/>
<text class="dv tC" text-anchor="middle" transform="translate(1612.6 493.9) rotate(-90)">9</text>
<line class="tick" x1="1627.8" y1="481.3" x2="1627.8" y2="484.9"/>
<text class="dv tC" text-anchor="middle" transform="translate(1635.2 493.9) rotate(-90)">10</text>
<line class="tick" x1="1649.9" y1="481.3" x2="1649.9" y2="484.9"/>
<text class="dv tC" text-anchor="middle" transform="translate(1657.3 493.9) rotate(-90)">11</text>
<line class="tick" x1="1673.7" y1="481.3" x2="1673.7" y2="484.9"/>
<text class="dv tC" text-anchor="middle" transform="translate(1681.1 493.9) rotate(-90)">12</text>
<line class="tick" x1="1696.5" y1="481.3" x2="1696.5" y2="484.9"/>
<text class="dv tC" text-anchor="middle" transform="translate(1703.9 493.9) rotate(-90)">13</text>
<line class="tick" x1="1716.6" y1="481.3" x2="1716.6" y2="484.9"/>
<text class="dv tC" text-anchor="middle" transform="translate(1724 493.9) rotate(-90)">14</text>
<line class="tick" x1="1734.2" y1="481.3" x2="1734.2" y2="484.9"/>
<text class="dv tC" text-anchor="middle" transform="translate(1741.6 493.9) rotate(-90)">15</text>
<line class="tick" x1="1749.7" y1="481.3" x2="1749.7" y2="484.9"/>
<text class="dv tC" text-anchor="middle" transform="translate(1757.1 493.9) rotate(-90)">16</text>
<line class="tick" x1="1764.2" y1="481.3" x2="1764.2" y2="484.9"/>
<text class="dv tC" text-anchor="middle" transform="translate(1771.6 493.9) rotate(-90)">17</text>
<line class="tick" x1="1778.4" y1="481.3" x2="1778.4" y2="484.9"/>
<text class="dv tC" text-anchor="middle" transform="translate(1785.8 493.9) rotate(-90)">18</text>
<line class="tick" x1="1790" y1="481.3" x2="1790" y2="484.9"/>
<text class="dv tC" text-anchor="middle" transform="translate(1797.4 493.9) rotate(-90)">19</text>
<line class="tick" x1="1801" y1="481.3" x2="1801" y2="484.9"/>
<text class="dv tC" text-anchor="middle" transform="translate(1808.4 493.9) rotate(-90)">20</text>
<line class="tick" x1="1811.6" y1="481.3" x2="1811.6" y2="484.9"/>
<text class="dv tC" text-anchor="middle" transform="translate(1819 493.9) rotate(-90)">21</text>
<line class="tick" x1="1819.8" y1="481.3" x2="1819.8" y2="484.9"/>
<text class="dv tC" text-anchor="middle" transform="translate(1827.2 493.9) rotate(-90)">22</text>
<text class="dv aC" text-anchor="middle" x="1574.9" y="513.3">Chromosome</text>
<text class="dv lgt" x="1886.9" y="332.6">Phenotype</text>
<g class="lg"><circle cx="1896.5" cy="350.2" r="3" fill="#E41A1C"/><circle cx="1896.5" cy="370.2" r="3" fill="#377EB8"/><circle cx="1896.5" cy="390.1" r="3" fill="#4DAF4A"/><circle cx="1896.5" cy="410.1" r="3" fill="#984EA3"/><circle cx="1896.5" cy="430.1" r="3" fill="#FF7F00"/><circle cx="1896.5" cy="450" r="3" fill="#FFFF33"/></g>
<text class="dv lgl" x="1913.1" y="353.9">Eosinophils</text>
<text class="dv lgl" x="1913.1" y="373.9">Lymphocytes</text>
<text class="dv lgl" x="1913.1" y="393.8">Monocytes</text>
<text class="dv lgl" x="1913.1" y="413.8">Neutrophils</text>
<text class="dv lgl" x="1913.1" y="433.8">Platelets</text>
<text class="dv lgl" x="1913.1" y="453.7">WBC</text>
<polyline class="FFF7F00" points="1469.6,469.8 1352.8,470.7 1680.5,471.5 1513,468.7 1634.6,469.6 1360,470.8 1756.5,469.9 1545.6,471.5 1610.7,468.8 1392.2,470.4 1743.2,471.2 1509.7,470.1 1365.6,467.5 1621.6,469.8 1439.7,471.3 1540.8,467.2"/><polyline class="Fa8b030" points="1568.5,467.8 1647.4,470.2 1751.1,470.7 1332.9,467.3 1690.7,469.1 1670,469.5 1784.4,467.5 1344.8,468.4 1771.1,469.6 1782.8,470.7 1405.3,470.3 1446.9,471.3 1665.4,471.2 1532.1,468 1797.7,470.9 1530.3,469.3 1380.2,468.3 1649.4,467.9 1614.9,467.7 1429.6,467.6 1483.7,467.5 1517.6,469.9 1510.7,471.2 1653.9,469.5 1774.5,468.4 1380.4,469.3 1738.7,468.1 1508.4,470.3 1423.1,470.4 1613.9,470.1 1757.8,469.5 1541.1,468.1"/><polyline class="FFFFF33" points="1517,467.7 1546.5,469.7 1774.7,471.4 1591.1,468.3 1751.4,469.1 1612.2,470.8 1392.2,470.9 1619.2,468.8 1471.3,467.4 1779.6,469.1 1667.5,469.1 1608.7,469.8 1341.3,468.1 1470.8,467.8 1368.7,470.9 1643.3,468.6 1372.3,469.5 1624.1,467.4 1564.6,471.3 1456.1,471 1768.4,467.2 1755.4,469 1713.2,467.8 1677.9,469.3 1398.8,468.5 1470.6,467.7 1374.8,471.2 1482.3,467.7 1333.2,470.7 1712,468 1595.5,470.7 1533.5,468.3 1413.5,470.2 1482,470.1 1342.2,470 1761.7,469 1665.3,468.8 1663.1,469.2 1605.6,470.4 1695.5,471.2 1479.5,468.7 1735.6,470.8 1488.4,467.8 1625.3,467.2 1812.9,468.7 1560.1,467.6 1666.6,468.6"/><polyline class="FE41A1C" points="1713.1,470.6 1364.7,467.5 1509.5,468.9 1697.2,471.2 1613.3,469.8 1817.5,470.4 1660.6,471.4 1423.7,468.1 1380.6,470.6 1584.3,468.9 1344.9,469.1 1548.1,468.2 1753.4,467.3 1771.3,467.9 1496.6,469.3 1802.2,468.1 1344.2,467.9 1391.2,467.7 1518.3,468.5 1673.9,468.8 1578.4,468.8 1619.3,467.7 1419.3,469.5 1471.4,469.7 1595,469"/><polyline class="F4DAF4A" points="1503.5,471.1 1437.3,470.9 1398.6,470.7"/><polyline class="F6a6a20" points="1446.1,468.7 1376.9,471.4 1651.3,468.7 1458.4,471 1606.9,468.4 1496.7,471.2 1524.1,469.6 1415.8,468.7 1661.1,469.6 1473.3,469.4 1560.8,467.6 1376.1,469.4"/>
<polyline class="P984EA3" points="1332.5,462.6 1332.5,459.5 1332.5,456.4"/><polyline class="PFF7F00" points="1346,464.1"/><polyline class="P4DAF4A" points="1351.9,464.1 1351.9,462.6 1351.9,461 1351.9,449.5"/><polyline class="PFF7F00" points="1355,459.5 1368.6,463.4"/><polyline class="PFFFF33" points="1374.4,467.2 1374.5,465.3 1374.2,463.5 1374.3,461.9 1374.3,459.5"/><polyline class="PFF7F00" points="1374.3,452.6"/><polyline class="PFFFF33" points="1388.9,467.2 1389.2,464.9 1389.1,462.6"/><polyline class="P984EA3" points="1389,462.6 1389,461 1389.3,458.6 1388.9,456.4 1389.1,455.3"/><polyline class="P4DAF4A" points="1400.3,461 1400.4,459.5 1400.2,458.4 1400.4,456 1400.4,454.5 1400.6,452.8 1400.2,451.7 1400.4,449.6 1400.4,447.1 1400.3,444.6 1400.3,443.2 1400.5,438.6 1400.5,434.7 1400.4,433.3 1400.4,331.6 1400.4,323.6"/><polyline class="PFF7F00" points="1397,461"/><polyline class="PE41A1C" points="1406,462.6 1406,461"/><polyline class="P4DAF4A" points="1418.4,467.2 1418.8,465.4 1418.4,463.1 1418.6,461.3 1418.6,459.5"/><polyline class="PFF7F00" points="1421,461 1420.8,459.4 1420.8,457 1421.1,455.8 1420.9,454.6 1421,452.5 1421.1,450.5 1420.8,448.9 1420.8,446.9 1421.1,444.9 1421,443.5 1420.8,440.3 1420.9,436 1420.9,433.3 1420.9,396.3"/><polyline class="PE41A1C" points="1433.4,467.2 1433.3,465.6 1433.3,463.8 1433.4,461.5 1433.5,459.2 1433.3,456.8 1433.3,454.3 1433.2,452.8 1433.4,451.8"/><polyline class="P4DAF4A" points="1433.4,450.3 1433.2,448.6 1433.3,446.5 1433.3,445 1433.2,443.8 1433.4,441.6 1433.6,439 1433.5,436.8 1433.4,434 1433.4,431.8"/><polyline class="PE41A1C" points="1433.6,428.7 1433.3,425.2 1433.3,423.2 1433.4,419.4"/><polyline class="PFF7F00" points="1444.5,461 1444.5,459.5"/><polyline class="P984EA3" points="1458,458 1458,454.9"/><polyline class="PFFFF33" points="1458,462.6"/><polyline class="PFF7F00" points="1464.6,468.8 1464.7,466.7 1464.7,464.6 1464.6,462 1464.9,459.7 1464.7,458.3 1464.6,456.9 1464.8,454.6 1464.5,452.9 1464.8,451.5 1464.7,450.2 1464.9,448.4 1464.6,446.1 1464.8,444.2 1464.7,441.8 1464.9,439 1464.8,436.6 1464.6,433 1464.8,429.2 1464.6,425.2 1464.8,422.3 1464.7,417.9"/><polyline class="P377EB8" points="1483.9,467.2 1483.9,465 1483.8,462.9 1483.9,461"/><polyline class="PFF7F00" points="1489.3,464.1 1489.1,462.1 1489.3,459.5 1515.6,467.2 1515.6,465.5 1515.7,463 1515.6,460.8 1515.9,458.2 1515.6,456.5 1515.8,455.4 1515.5,453.9 1515.6,451.6 1515.7,449.4 1515.7,448.3 1515.8,446 1515.5,443.7 1515.6,440.3 1515.8,438.3 1515.7,434.9 1515.7,425.6 1532.4,467.2 1532.3,464.8 1532.5,463.3 1532.3,462.2 1532.3,461 1532.2,459.8 1532.3,458.7 1532.5,456.2 1532.4,454.2 1532.5,452.7 1532.5,450.8 1532.6,449.6 1532.2,448.4 1532.5,445.8 1532.4,443.6 1532.4,439.5 1532.4,437.1 1532.4,434.9"/><polyline class="P984EA3" points="1544,459.5"/><polyline class="PFFFF33" points="1544,462.6"/><polyline class="P4DAF4A" points="1550,462.6"/><polyline class="P222222" points="1555.1,465.7 1555.1,463.4 1554.9,461.3 1555.1,460.2 1555,458"/><polyline class="PFF7F00" points="1557.6,447.2 1557.7,445.2 1557.5,444.1 1557.7,441"/><polyline class="P4DAF4A" points="1555,447.2"/><polyline class="PFFFF33" points="1554.9,437.5"/><polyline class="P377EB8" points="1580.1,465.7 1580.3,464.1 1580.4,462.5 1580.1,459.9 1580,458.6 1580,457 1580.4,455.8 1580.3,453.4 1580.1,450.9 1580.4,448.3 1580.1,445.9 1580,444.7 1580.4,442.5 1580,438.9 1580.2,434.9"/><polyline class="PFF7F00" points="1584.9,456.4"/><polyline class="P4DAF4A" points="1588.9,465.7 1589,463.7 1588.9,461.2 1588.8,459 1588.9,457.7 1589.2,455.5 1588.9,453.9 1589.2,452.6 1588.8,450.8 1588.8,448.8 1589.1,447.6 1588.9,445.5 1589.1,444.2 1588.9,442.2 1588.9,437.8 1589,435.3 1588.8,431.5 1588.9,427.5 1589.2,424.7 1589.2,420.8 1588.8,418.7 1589.1,416 1589,413.6 1588.9,411.3 1589,407.7 1588.8,388.8 1588.9,385.7 1589.1,383 1588.8,378.5 1589.2,374 1589,370.9 1589,366.4"/><polyline class="PFF7F00" points="1592.2,462.6 1592,460.5 1591.9,458.4 1591.9,456.4 1592.2,454.7 1592.2,452.4 1591.8,449.9 1592.2,448.6 1592.1,447 1592,445.2 1592.1,443.2 1592.1,439.3 1592,437.9"/><polyline class="P4DAF4A" points="1611.1,465.7 1611.1,464.2 1610.9,463 1611,460.9 1611,458.4 1611,456.4 1611,454.5 1610.9,452.7 1611,450.2 1611,449 1611,447.8 1611,445.7 1610.8,444.3 1611,442.2 1611.1,439.2 1611.2,435.7 1610.8,433.3 1611.1,430.3 1611,425.6 1611,414.8 1611,410.2 1611,399.4"/><polyline class="PFF7F00" points="1614.8,461 1614.6,459.3 1614.6,458.1 1614.5,456.3 1614.8,454.9 1614.8,453.1 1614.7,451.5 1614.6,450 1614.7,447.5 1614.7,445 1614.5,443.7 1614.6,440.4 1614.5,436.9 1614.6,431.8 1626.3,465.7 1626.3,464.5 1626.3,462.1 1626.3,460.8 1626.1,459.5 1626.3,457.7 1626.4,455.6 1626.2,453.4 1626.2,451.3 1626.4,448.9 1626.3,447.4 1626.4,446.2 1626.2,444.5 1626.3,443.3 1626.3,439 1626.4,436.4 1626.2,433.9 1626.5,430.5 1626.4,428.1 1626.4,424.1 1626.3,422.5"/><polyline class="P4DAF4A" points="1632.1,465.7 1632.1,464.5 1632.3,462.1 1632.2,459.5 1632.2,458"/><polyline class="PA65628" points="1649.3,462.6"/><polyline class="PFF7F00" points="1659.4,461 1659.4,459.5"/><polyline class="P377EB8" points="1663.4,461 1663.4,458"/><polyline class="PFF7F00" points="1671,462.6 1671,459.5 1681.2,465.7 1681.4,464.2 1681.1,462 1681.4,460.5 1681.4,459.1 1681.2,456.6 1681.3,454.1 1681.2,451.6 1681.2,450 1681.2,448 1681.3,445.7 1681.3,443.9 1681.3,441.6 1681.2,437.9"/><polyline class="PE41A1C" points="1681.2,464.1 1681.2,461"/><polyline class="P4DAF4A" points="1689.7,459.5 1689.5,457.2 1689.8,456 1689.8,454 1689.9,452.5 1689.7,450.1 1689.7,448.7 1689.7,411.7"/><polyline class="PFF7F00" points="1700.8,459.5"/><polyline class="P4DAF4A" points="1708.6,458 1722.7,465.7 1722.5,463.1 1722.7,461.6 1722.6,460 1722.7,458.7 1722.7,456.7 1722.4,454.6 1722.8,452.2 1722.7,449.7 1722.6,447.2"/><polyline class="PFF7F00" points="1722.6,456.4"/><polyline class="P4DAF4A" points="1737,465.7 1736.7,464.5 1736.8,462.1 1736.7,460.8 1737,459.3 1736.9,457.7 1736.8,455.2 1736.9,452.8 1736.6,450.5 1736.8,448.5 1736.6,446.3 1736.7,444.8 1736.8,442.6 1737,440.3 1736.8,437.9"/><polyline class="PFF7F00" points="1736.8,453.3"/><polyline class="P4DAF4A" points="1755.8,465.7 1755.6,463.4 1755.9,461.3 1755.8,460 1755.8,457.6 1755.7,455.2 1755.9,453.8 1755.5,451.2 1755.7,449.9 1755.7,448.7 1755.8,447 1755.5,444.7 1755.8,442.2 1755.7,441"/><polyline class="PFF7F00" points="1755.7,459.5 1755.7,454.9"/><polyline class="PFFFF33" points="1762.6,465.7 1762.8,464 1762.9,461.4 1763,459.8 1763,457.3 1763,456.2 1762.6,455.1 1762.7,453 1762.7,451.9 1762.8,450 1762.9,448.8 1762.7,447.4 1763,445.7 1762.7,444.5 1762.9,443.1 1762.7,438.7 1762.6,435.5 1762.7,430.9 1762.8,428.5 1762.8,424.7 1762.8,422.5 1762.8,413.3 1762.9,410.2 1762.9,407.9 1762.7,403.3 1762.7,401.1 1762.8,398.3 1762.9,394.9 1762.8,391.7"/><polyline class="P984EA3" points="1762.8,374.8 1762.8,371.7 1762.9,360.9 1762.8,358.3 1762.8,354.7 1762.8,350.2 1762.8,346.7 1762.8,344.5"/><polyline class="P4DAF4A" points="1767.5,465.7 1767.3,463.8 1767.4,461.6 1767.4,459.8 1767.6,457.4 1767.6,456.1 1767.6,454.9 1767.6,452.5 1767.5,450.5 1767.6,449.1 1767.4,447.2 1767.5,444.1"/><polyline class="PFF7F00" points="1774.6,453.3"/><polyline class="P4DAF4A" points="1792.5,462.6 1792.7,461.5 1792.7,460.1 1792.7,458.6 1792.6,456.4"/><polyline class="P377EB8" points="1787,458"/><polyline class="P4DAF4A" points="1803.3,465.7 1803.4,463.4 1803.2,461.1 1803.2,459.4 1803.3,458.1 1803.4,455.9 1803.2,454.7 1803.4,452.3 1803,450.8 1803.3,448.5 1803,447 1803.2,445.6 1803.2,443.4 1803.4,441.3 1803.2,437.9 1803.2,433.6"/><polyline class="PFF7F00" points="1805,462.6 1805.1,460 1805.2,457.9 1804.9,456.7 1805.1,455.5 1804.9,454.4 1804.9,452 1805,450.3 1821,464.1"/>
<polyline class="C4DAF4A" points="1379,472.4 1456.9,473.1 1738.3,473.5"/><polyline class="C6a6a20" points="1341.5,472.6 1381,473.3 1439.9,472.3 1497,473.5 1498.6,472 1509.7,472.9 1628.7,472.3 1639.8,473.1 1644.4,473.2 1650.6,472.9 1700.8,473.5 1711.1,472.9 1753.6,473.5 1759.4,473.4 1796.4,473.3"/><polyline class="CFF7F00" points="1337.8,472.6 1356.5,473.3 1359.3,473.3 1367.5,472.4 1422.5,473.1 1424.1,472.1 1474.8,473 1478.6,472.4 1480.6,473 1485.4,473 1491.8,473.3 1504.9,473.3 1513.5,472.5 1520.4,473 1522.3,473.5 1538.3,472.2 1548.1,473 1550.7,472 1556.3,472.4 1583.1,472.2 1619.2,472 1667.1,472.3 1791.4,473.1 1799.8,472.1 1813.1,472.4 1818.1,472.1 1821.9,472.4"/><polyline class="CE41A1C" points="1352.8,472.9 1377,473.5 1389.5,473.3 1404.7,472 1433.1,472.2 1436.9,473 1442.8,473.3 1524.9,472.3 1541.9,472.2 1546.3,472 1569.5,472.2 1593.9,472.5 1612,473 1613.5,472.1 1617.2,472.6 1626.8,472.7 1637.8,472.1 1665.5,473.5 1673.6,473.2 1677.4,472.5 1693.3,473 1739.9,472.7 1779.4,473"/><polyline class="Ca8b030" points="1335.5,473.1 1361,473.4 1371,472.5 1373.7,472.3 1392.2,472.6 1408.2,472 1411.1,472.5 1414.8,472.1 1417.6,472.6 1419.9,473.4 1427,472.7 1430.3,473.3 1448.4,472.3 1454.3,472.6 1460.1,472.2 1463.5,473 1466.8,472.4 1472.2,473.4 1494.8,473.1 1516.7,472.7 1563.7,473.4 1572.4,473.3 1606.2,472.4 1622,472.7 1630.9,472.5 1635.7,472.2 1642,472.7 1648.1,472.7 1659.9,473.1 1695.2,472.3 1714.7,473.3 1732.4,472.4 1736,472.2 1742.2,472 1762.1,473.4 1767.2,472.1 1769.3,472.1 1775.3,473.5 1777.8,472.3 1784.7,472.1 1794.3,473.6"/><polyline class="CFFFF33" points="1327.8,473.3 1331.7,473.2 1343.5,473.1 1364.5,472.9 1394.9,473.1 1396.9,473.5 1400.7,472 1403,472.4 1445.9,473.1 1452.3,472.2 1468.4,472.5 1483.8,473.5 1488.1,472.7 1502.3,472.8 1506.6,473.1 1527,472.6 1530.1,473.5 1533.1,472.6 1535.1,472.3 1544.6,472.4 1554,472.2 1559.9,472.3 1567.5,473.3 1573.9,472.5 1577,472.3 1579.3,473.2 1585.1,472.3 1587.9,473.2 1591.5,472.8 1609.2,473.1 1623.6,472.1 1633.8,473.4 1653,473 1656.2,473.2 1663,473 1670.4,472.9 1679.1,472.2 1680.9,473.5 1699,472.8 1717.7,473.3 1719.7,473.3 1756.6,472.2 1764.9,472.4 1772.5,473 1781.7,473 1787.6,472.9 1803.4,472.3 1816.1,472.9"/><polyline class="C4DAF4A" points="1444.1,473 1524.2,472.9 1610.5,472.4 1614.5,473.5 1632.2,472 1633.7,472.8 1741,473.5 1791.7,473.4"/><polyline class="C6a6a20" points="1378.6,473.3 1406.4,473.3 1413.2,473.3 1518,473 1586.5,473.4 1593.5,473.1 1648.2,473.1 1666.5,473.3"/><polyline class="CFF7F00" points="1332.7,472.9 1341.1,473.2 1355.1,472 1398.2,473.3 1401.3,473.5 1423,472.2 1440.5,473.1 1463.5,472.5 1465.1,472.4 1467.2,473.4 1482.1,473 1489.2,472.4 1492.3,473 1497.3,472.9 1502.9,473.5 1520.6,472.7 1534.4,472.2 1572.6,473 1617.2,473 1630.2,472.5 1682.5,472.6 1693.2,473.2 1719,472.7 1751.1,472 1755.5,472 1767.6,473.3 1793.5,472.1 1795.9,472.9 1818.9,473.4"/><polyline class="CE41A1C" points="1335.5,473.4 1342.7,472.6 1352.9,472 1362.5,473.3 1372.2,472.4 1395.2,473 1409.5,473.5 1421,472.9 1472.4,472.2 1545.8,472.2 1551.5,473 1607.7,472.6 1637,473.1 1651.6,473.2 1672.2,473.2 1695.3,472.9 1758.1,473.3 1764.1,473 1769.6,473.2 1775,472.7 1789.3,472.3"/><polyline class="Ca8b030" points="1329,472.1 1338.8,472.9 1375.9,472.3 1380.7,473.5 1392.3,472.9 1403.1,473 1415.1,473.3 1418,472.3 1426.6,472.3 1431.6,473.1 1446.3,473.1 1477.9,472.8 1479.8,472.2 1485.9,472.1 1499.8,473.1 1507.7,473.1 1530.6,472.5 1556.5,473.1 1558.7,473.2 1560.8,473.4 1564.2,473.5 1569.6,472.3 1576.3,473.2 1580,473 1582.6,473 1588.9,473.2 1590.9,472 1597,472.8 1605.3,472.2 1612.3,473.4 1627.9,472.4 1663.4,472.6 1668.6,473.5 1675,473.2 1690.7,472.3 1698.1,472 1701.4,472.5 1713.5,472 1716.5,473.4 1734.9,473.6 1761.9,472.9 1772.8,473.3 1778.7,472.5 1799.6,473.4 1815.1,472"/><polyline class="CFFFF33" points="1344.6,473 1358.9,472.6 1365.8,472.5 1368.5,472.8 1429.6,473.4 1435.2,473.4 1436.9,473.2 1442.2,472.6 1449.9,472.7 1453.4,473.4 1456.4,473.1 1460.3,473.1 1469.6,472.7 1474.2,473.5 1495.5,472.8 1505.9,472.8 1510.9,472.4 1514.3,472.5 1526,473 1527.9,472.6 1538.2,472.8 1540,472.2 1543,472.4 1548.3,473.5 1553.2,472.1 1567.7,473 1619.3,472.8 1623.2,472.9 1625.4,472.3 1640.5,472.1 1643.5,473 1645.1,472.5 1653.4,473.4 1656.4,472.7 1660.3,472.5 1677.5,472.3 1679.3,473.5 1731.4,472.6 1738.3,472.3 1742.7,472.5 1752.7,472.9 1782.2,472.8 1785.1,473.1 1786.8,472.5 1802.8,472.7"/><polyline class="C4DAF4A" points="1382.1,472.5 1432.8,472.9 1630.7,473.3 1659,472.3 1785.8,472.5"/><polyline class="C6a6a20" points="1337.9,472.6 1373.8,472.6 1398.4,472.3 1438.5,472.9 1441.9,472.7 1475.5,473 1490.5,473.2 1503.8,472.6 1509.6,472.7 1512.6,473.3 1539.6,472.4 1569.9,473.5 1583.6,472.7 1590.4,472.8 1608.5,472.2 1625.4,473.5 1650.3,473.4 1679.9,472.5 1731.5,473.5 1754.7,472.3 1758.3,473 1816.3,472.3"/><polyline class="CE41A1C" points="1332.1,473.1 1448,472.9 1451.3,472.8 1483.9,473.4 1521.8,472.8 1534.4,472.4 1593.2,473.3 1596.2,472.3 1647,472.2 1668.7,472.8 1698.4,472.4 1714.9,472.2 1735.4,472.5 1767.4,473.1 1779.1,472.8 1795.9,473.5 1799.3,472.8 1814.2,472 1821.7,473"/><polyline class="CFF7F00" points="1411.3,473.5 1425.1,473.1 1431,472.4 1455.1,473.4 1485.8,472.7 1500.2,472.9 1515.2,472.7 1543.2,472.8 1558.9,473.2 1565.1,473.5 1588.3,472.8 1641.1,472 1653.7,472.2 1655.6,472.9 1678.2,472.6 1691.9,472 1694.6,472.1 1703.2,472.7 1712.4,472.6 1740.9,473 1762.5,472.3 1769.5,472.1 1772.6,472 1777.2,472.3 1819.8,472"/><polyline class="Ca8b030" points="1328.5,472.8 1341.3,473.5 1353.9,472.1 1356.6,472.9 1359.4,473 1361.1,472.6 1364.9,472.6 1368.5,472 1380.2,473 1392.9,472.3 1403.5,473.1 1408.2,472.2 1414.4,472.5 1420.2,473.3 1421.7,472.7 1427.8,473 1436.4,472.6 1446.3,473.4 1457.1,472.1 1473.6,472.1 1481.5,473 1497.4,472.4 1523.9,473.5 1529,473.3 1536.1,472.3 1546.2,472.8 1551.2,472.8 1552.9,473 1555.4,473.4 1562.1,472.6 1572.4,472.7 1611.7,473.1 1617.6,473 1643.7,472.8 1666.9,473.1 1760.7,473.1 1783.7,473.2 1789.6,472.9 1793.2,472.5 1801.5,473"/><polyline class="CFFFF33" points="1334.8,473.1 1345.2,472.5 1371.7,472.1 1377.6,472 1389.2,473.2 1391.1,472.5 1394.9,472.8 1401.7,472.4 1405.8,472.1 1416.6,472.3 1443.8,472.6 1459.5,472.2 1462.6,472.2 1466.3,472.2 1469.8,473.3 1479.4,472.1 1488.6,472.3 1494.1,473.3 1502,472.5 1506.4,473.4 1518.9,473.3 1527,472.8 1532.3,472.6 1547.8,473.4 1568.2,472.9 1576,472.8 1579.8,473.3 1585.9,473.5 1605.1,472.3 1614,472.5 1620.5,473.4 1622.8,473 1628.4,472 1634.4,473 1638.2,472.6 1661.5,472.1 1665,472.7 1671.1,473.5 1674.5,473.3 1682.2,472.3 1701.6,472.5 1710.8,472.8 1718.3,473.1 1720.1,472.8 1737.1,472.2 1751.9,473.1 1764.5,473 1775.4,472.6 1781.5,473.5 1803.4,472.1"/>
<line class="segC" x1="1400.6" y1="316.3" x2="1400.5" y2="321"/>
<line class="segC" x1="1420.9" y1="388.4" x2="1420.9" y2="394"/>
<line class="segC" x1="1464.7" y1="409" x2="1464.7" y2="415"/>
<line class="segC" x1="1514" y1="416.3" x2="1515.7" y2="423"/>
<line class="segC" x1="1489.3" y1="449.5" x2="1489.3" y2="455"/>
<line class="segC" x1="1556" y1="427.3" x2="1555" y2="433"/>
<line class="segC" x1="1610.5" y1="391" x2="1610.8" y2="397"/>
<line class="segC" x1="1649" y1="455" x2="1649.2" y2="461"/>
<line class="segC" x1="1689.7" y1="403.3" x2="1689.7" y2="409"/>
<line class="segC" x1="1722" y1="421" x2="1735" y2="436"/>
<line class="segC" x1="1716" y1="440.6" x2="1722" y2="447"/>
<line class="segC" x1="1760" y1="437" x2="1757" y2="442"/>
<line class="segC" x1="1810" y1="420.3" x2="1804" y2="430"/>
<text class="dv gl" text-anchor="middle" x="1400.7" y="313.6">ITGA4</text>
<text class="dv gl" text-anchor="middle" x="1420.9" y="385.7">ARHGEF3</text>
<text class="dv gl" text-anchor="middle" x="1464.7" y="406.2">EGF</text>
<text class="dv gl" text-anchor="middle" x="1513.4" y="413.6">BAK1</text>
<text class="dv gl" text-anchor="middle" x="1489.3" y="446.8">MAST4</text>
<text class="dv gl" text-anchor="middle" x="1556.6" y="424.7">CDK6</text>
<text class="dv gl" text-anchor="middle" x="1610.5" y="388.3">LPAR1</text>
<text class="dv gl" text-anchor="middle" x="1648.8" y="452.2">MACROD1</text>
<text class="dv gl" text-anchor="middle" x="1689.7" y="400.6">URAD</text>
<text class="dv gl" text-anchor="middle" x="1720.2" y="418.4">BCL2A1</text>
<text class="dv gl" text-anchor="middle" x="1716.2" y="438">CKB</text>
<text class="dv gl" text-anchor="middle" x="1767.5" y="434.2">IRF8</text>
<text class="dv gl" text-anchor="middle" x="1811.3" y="417.7">CEBPB</text>
<text class="dv gl" text-anchor="middle" x="1813.9" y="452.2">EXOC3L2</text>
<text class="dv ttl" x="554.8" y="539.4">Glycaemic</text>
<rect class="bord" x="554.6" y="549.6" width="545" height="181.3"/>
<line class="tick" x1="551.2" y1="727.8" x2="554.6" y2="727.8"/>
<text class="dv tC" text-anchor="end" x="548.4" y="731.3">0</text>
<line class="tick" x1="551.2" y1="681.2" x2="554.6" y2="681.2"/>
<text class="dv tC" text-anchor="end" x="548.4" y="684.7">30</text>
<line class="tick" x1="551.2" y1="634.7" x2="554.6" y2="634.7"/>
<text class="dv tC" text-anchor="end" x="548.4" y="638.2">60</text>
<line class="tick" x1="551.2" y1="588.1" x2="554.6" y2="588.1"/>
<text class="dv tC" text-anchor="end" x="548.4" y="591.6">90</text>
<text class="dv aC" style="font-size:12px" text-anchor="middle" transform="translate(526.6 641) rotate(-90)">−<tspan dx="2.2">log</tspan><tspan font-size="8.6" dy="3.3">10</tspan><tspan dy="-3.3"> P</tspan></text>
<line class="tick" x1="599.5" y1="730.9" x2="599.5" y2="734.5"/>
<text class="dv tC" text-anchor="middle" transform="translate(606.9 743.5) rotate(-90)">1</text>
<line class="tick" x1="641.7" y1="730.9" x2="641.7" y2="734.5"/>
<text class="dv tC" text-anchor="middle" transform="translate(649.1 743.5) rotate(-90)">2</text>
<line class="tick" x1="681.5" y1="730.9" x2="681.5" y2="734.5"/>
<text class="dv tC" text-anchor="middle" transform="translate(688.9 743.5) rotate(-90)">3</text>
<line class="tick" x1="713.1" y1="730.9" x2="713.1" y2="734.5"/>
<text class="dv tC" text-anchor="middle" transform="translate(720.5 743.5) rotate(-90)">4</text>
<line class="tick" x1="746.9" y1="730.9" x2="746.9" y2="734.5"/>
<text class="dv tC" text-anchor="middle" transform="translate(754.3 743.5) rotate(-90)">5</text>
<line class="tick" x1="773.2" y1="730.9" x2="773.2" y2="734.5"/>
<text class="dv tC" text-anchor="middle" transform="translate(780.6 743.5) rotate(-90)">6</text>
<line class="tick" x1="804.4" y1="730.9" x2="804.4" y2="734.5"/>
<text class="dv tC" text-anchor="middle" transform="translate(811.8 743.5) rotate(-90)">7</text>
<line class="tick" x1="829" y1="730.9" x2="829" y2="734.5"/>
<text class="dv tC" text-anchor="middle" transform="translate(836.4 743.5) rotate(-90)">8</text>
<line class="tick" x1="857.4" y1="730.9" x2="857.4" y2="734.5"/>
<text class="dv tC" text-anchor="middle" transform="translate(864.8 743.5) rotate(-90)">9</text>
<line class="tick" x1="880" y1="730.9" x2="880" y2="734.5"/>
<text class="dv tC" text-anchor="middle" transform="translate(887.4 743.5) rotate(-90)">10</text>
<line class="tick" x1="902.1" y1="730.9" x2="902.1" y2="734.5"/>
<text class="dv tC" text-anchor="middle" transform="translate(909.5 743.5) rotate(-90)">11</text>
<line class="tick" x1="925.9" y1="730.9" x2="925.9" y2="734.5"/>
<text class="dv tC" text-anchor="middle" transform="translate(933.3 743.5) rotate(-90)">12</text>
<line class="tick" x1="948.7" y1="730.9" x2="948.7" y2="734.5"/>
<text class="dv tC" text-anchor="middle" transform="translate(956.1 743.5) rotate(-90)">13</text>
<line class="tick" x1="968.8" y1="730.9" x2="968.8" y2="734.5"/>
<text class="dv tC" text-anchor="middle" transform="translate(976.2 743.5) rotate(-90)">14</text>
<line class="tick" x1="986.4" y1="730.9" x2="986.4" y2="734.5"/>
<text class="dv tC" text-anchor="middle" transform="translate(993.8 743.5) rotate(-90)">15</text>
<line class="tick" x1="1001.9" y1="730.9" x2="1001.9" y2="734.5"/>
<text class="dv tC" text-anchor="middle" transform="translate(1009.3 743.5) rotate(-90)">16</text>
<line class="tick" x1="1016.4" y1="730.9" x2="1016.4" y2="734.5"/>
<text class="dv tC" text-anchor="middle" transform="translate(1023.8 743.5) rotate(-90)">17</text>
<line class="tick" x1="1030.6" y1="730.9" x2="1030.6" y2="734.5"/>
<text class="dv tC" text-anchor="middle" transform="translate(1038 743.5) rotate(-90)">18</text>
<line class="tick" x1="1042.2" y1="730.9" x2="1042.2" y2="734.5"/>
<text class="dv tC" text-anchor="middle" transform="translate(1049.6 743.5) rotate(-90)">19</text>
<line class="tick" x1="1053.2" y1="730.9" x2="1053.2" y2="734.5"/>
<text class="dv tC" text-anchor="middle" transform="translate(1060.6 743.5) rotate(-90)">20</text>
<line class="tick" x1="1063.8" y1="730.9" x2="1063.8" y2="734.5"/>
<text class="dv tC" text-anchor="middle" transform="translate(1071.2 743.5) rotate(-90)">21</text>
<line class="tick" x1="1072" y1="730.9" x2="1072" y2="734.5"/>
<text class="dv tC" text-anchor="middle" transform="translate(1079.4 743.5) rotate(-90)">22</text>
<text class="dv aC" text-anchor="middle" x="827.1" y="762.9">Chromosome</text>
<text class="dv lgt" x="1130.6" y="611.9">Phenotype</text>
<g class="lg"><circle cx="1140.1" cy="629.5" r="3" fill="#E41A1C"/><circle cx="1140.1" cy="649.5" r="3" fill="#377EB8"/><circle cx="1140.1" cy="669.4" r="3" fill="#4DAF4A"/></g>
<text class="dv lgl" x="1156.7" y="633.2">Fasting glucose</text>
<text class="dv lgl" x="1156.7" y="653.2">HbA1c</text>
<text class="dv lgl" x="1156.7" y="673.1">Random glucose</text>
<polyline class="F2a3a8a" points="625.9,720.3 955.4,719.6 900.1,719.9 816.1,720.2 1027.5,720 709.7,720.8 652.4,720.7 867.1,718.8 858.8,721.2 632.1,720.2 952.7,719 610.4,720.6 1005.5,718.7 1072.1,719.7 761,719.7 847.5,719.7 580.8,719.2 1050.6,721 1030.6,720.8 799.3,718.6 826.1,719.8 1011.7,720.2"/><polyline class="F3a8a6a" points="1068.4,721.2 871.2,719 841.7,718.6 788.4,720.2 987.6,718.5 881.8,719.3 944.8,718.8 991.9,720.8 1051.9,718.7 784.4,720.7 819.9,719.6"/><polyline class="FE41A1C" points="647,719.3 1022.9,720.8 730.9,720"/><polyline class="F4a7a9a" points="1017.8,718.8 790.4,720.9 669.3,721.1 710.5,721.1 951.7,718.6 665.7,719.6 681.4,721.2 947.9,719.2 767.9,719.9 789.7,719.1 738.3,719.4 945,720.7"/><polyline class="F377EB8" points="916.8,719.3 845.1,720.9 722.7,720.7 670.3,718.5 818.8,720.7"/>
<polyline class="P377EB8" points="650.7,715.4 650.6,714.2 650.8,712.1 650.8,710.7"/><polyline class="PE41A1C" points="650.8,709.2 684.8,713.8"/><polyline class="P377EB8" points="695.9,718.5 695.9,716.2 765.7,716.9 765.4,715.6 765.7,713.9 765.8,711.7 765.6,710.7"/><polyline class="P222222" points="765.6,710"/><polyline class="PE41A1C" points="793.7,713.1"/><polyline class="P377EB8" points="798.6,713.8 798.8,711.6 799,709.5 798.7,707.4 798.7,705.4 798.7,702.9 798.8,700.7 798.9,699.6 798.7,697.6 798.9,695.9 798.8,694.6 798.8,693.7"/><polyline class="P222222" points="798.8,692.9"/><polyline class="PE41A1C" points="844.9,712.6"/><polyline class="P377EB8" points="866.9,713.2 879.9,705 886.8,715.4 887.2,713.9 887.2,712.5 886.9,709.9 886.9,707.4 886.8,705.7 887,703 892.2,707.9 906.6,715.4 906.8,713 906.6,710.5 906.7,709.2 906.6,707.6"/><polyline class="PE41A1C" points="906.7,706.2 906.5,704.8 906.6,703.3 906.7,701.4 906.5,699.4 906.6,697.9 906.6,695.7"/><polyline class="P377EB8" points="992.9,710.7 992.9,708.8 992.9,707.9 1008.2,718.5 1008.2,717.3 1008.4,715.8 1008.5,713.5 1008.3,711.5 1008.5,709.5 1008.3,707.7 1008.1,705.7 1008.3,704.3 1008.3,702.3 1008.3,701 1008.5,699.4 1008.3,698 1008.3,696.2 1008.4,694.8 1008.3,693.4 1008.3,689.8 1008.3,685.9 1008.3,675.5 1008.3,647.1 1008.3,631.6 1008.3,620.4 1008.3,609.2 1008.3,602.6 1008.3,588.4 1008.3,572.6 1023.1,718.5 1023,717.2 1023,715.1 1023.1,714 1023.1,712 1022.9,709.8 1023,708.2 1022.9,706.5 1023,704.1 1023.1,702.5 1022.8,700.7 1023,699.2 1022.9,697.9 1022.9,696.7 1022.8,694.5 1022.9,693 1023.2,689.7 1022.8,687.1 1023,684.3 1072,720 1062,718.5"/>
<polyline class="BE41A1C" points="587.3,722.6 723.2,722.5 764.4,722.3 848,722.7 872.7,722.4 1006.9,722.6 1038.2,722.5"/><polyline class="B377EB8" points="647.6,722.6 658.3,722.8 688.2,722.4 704.9,722.5 707.1,722.4 749.6,722.8 752.8,722.4 819.4,722.4 875.7,722.3 936.1,722.3 1068.8,722.6"/><polyline class="B4a7a9a" points="583.5,722.7 593.9,722.4 617.9,722.5 620.7,722.5 627.8,722.5 660.8,722.9 669.4,722.2 684.1,722.3 709.1,722.2 720.1,722.4 746.9,722.9 767.9,722.2 770.5,722.4 786.8,722.2 797.6,722.2 807.8,722.9 810.6,722.6 832.9,722.4 857.4,722.5 868.3,722.7 879.4,722.2 890.2,722.8 906.3,722.2 925.3,722.2 964.9,722.7 982.2,722.7 1004.1,722.7"/><polyline class="B3a8a6a" points="590.9,722.4 596.5,722.8 606.1,722.8 614.4,722.5 644.3,722.5 663.1,722.4 674.6,722.8 678.2,722.4 698.2,722.6 728.1,722.7 735.1,722.6 742.8,722.3 756.5,722.5 759.8,722.6 790.4,722.5 804.1,722.8 826.2,722.3 828.6,722.2 840,722.8 845.2,722.7 882.8,722.7 885.5,722.6 932.2,722.6 947.7,722.4 952.2,722.5 993.3,722.6 1016.8,722.7 1031.8,722.8 1045.7,722.8 1072.3,722.6"/><polyline class="B2a3a8a" points="580.8,722.4 608.3,722.2 610.5,722.4 625.2,722.6 631.7,722.7 634.7,722.8 641.6,722.2 652.3,722.4 655,722.2 666.8,722.4 672.2,722.5 682.1,722.4 686.2,722.8 690.2,722.7 693.9,722.9 702,722.5 713.5,722.3 717.2,722.7 725.8,722.8 730.3,722.2 732.9,722.8 737.2,722.9 740.5,722.4 775.1,722.3 779,722.3 782,722.2 793.7,722.4 800.3,722.6 813.9,722.8 815.9,722.2 821.7,722.8 836.5,722.4 842.3,722.8 859.4,722.8 862.6,722.4 864.7,722.4 892.9,722.2 897.3,722.4 900.3,722.4 903.4,722.5 908.5,722.2 912.2,722.7 914.4,722.5 918.9,722.2 923.1,722.8 927.7,722.3 945.1,722.8 956,722.6 969.3,722.6 971.7,722.3 986.6,722.4 990,722.4 1009.6,722.4 1012.9,722.8 1019,722.4 1022.2,722.3 1024.4,722.7 1027.7,722.8 1035.8,722.4 1042.2,722.2 1050.1,722.8 1052.2,722.5 1054.2,722.5 1065.3,722.5"/><polyline class="BE41A1C" points="633.2,722.8 688.2,722.6 747.1,722.5 792.8,722.6 929.6,722.5 963.2,722.3"/><polyline class="B377EB8" points="590,722.6 597.2,722.6 686.1,722.5 759.4,722.4 813,722.5 840.2,722.3 870.2,722.6 909.2,722.8 923.2,722.6 1013.5,722.2 1048.5,722.8 1055.3,722.7"/><polyline class="B3a8a6a" points="583.4,722.8 587.4,722.2 592.6,722.8 624.1,722.4 630.8,722.7 645.8,722.8 660.7,722.8 668.4,722.7 698.1,722.2 700.5,722.6 715.3,722.4 732.2,722.3 762.1,722.4 773.7,722.3 777.9,722.6 782.6,722.5 807.9,722.4 845,722.8 847.6,722.2 859.1,722.3 912,722.3 921.1,722.4 934,722.3 945.3,722.6 1052.6,722.2"/><polyline class="B4a7a9a" points="607.7,722.5 620.4,722.3 641.7,722.7 650.5,722.7 656.2,722.3 664,722.4 679,722.3 683.3,722.5 692.6,722.2 718.7,722.7 722.1,722.8 743.7,722.6 750.3,722.9 764.4,722.7 780.1,722.6 798.4,722.7 810.2,722.7 872.7,722.2 880.8,722.4 888.7,722.6 895.2,722.8 899.6,722.2 952.7,722.3 972.4,722.6 986.5,722.8 989.2,722.5 1005.4,722.4 1021.6,722.2 1032.4,722.9 1039.4,722.8 1042.4,722.7"/><polyline class="B2a3a8a" points="580.8,722.3 610,722.4 614.3,722.6 616.4,722.8 626.5,722.8 653.9,722.6 670.9,722.6 673.4,722.3 677,722.8 695.2,722.6 705.1,722.8 709.5,722.6 711.5,722.2 725.5,722.6 728.1,722.6 735.9,722.4 740,722.7 753.7,722.2 756.7,722.7 767.5,722.2 769.7,722.8 784.8,722.7 788.3,722.8 796,722.3 801,722.8 805.6,722.9 816.2,722.7 819.8,722.3 822.4,722.3 826.7,722.8 830.9,722.4 834,722.7 837.3,722.7 863.5,722.2 867.1,722.5 875.2,722.8 877.6,722.3 884.3,722.3 892.3,722.5 902.9,722.7 906,722.2 915.7,722.5 918.8,722.8 926.6,722.8 947.9,722.8 950.6,722.2 965.4,722.4 968.5,722.2 984.3,722.7 991.5,722.2 995.5,722.6 1008.7,722.9 1011.3,722.4 1017.8,722.2 1024.5,722.6 1028.7,722.4 1035.5,722.6 1046.5,722.6 1064.8,722.5 1067.7,722.6 1069.8,722.4 1073.7,722.6"/><polyline class="BE41A1C" points="705.6,722.7 786.2,722.6 863.1,722.6 876.5,722.9 1054.8,722.6"/><polyline class="B377EB8" points="579.9,722.8 612.7,722.5 629.7,722.2 662,722.7 681.8,722.3 685,722.8 770.2,722.7 782,722.3 813.5,722.3 870.4,722.2 1018.4,722.2 1037.9,722.4"/><polyline class="B4a7a9a" points="585.9,722.7 591.8,722.3 596.5,722.2 609,722.2 626.4,722.6 655,722.8 657.7,722.8 666.2,722.7 688.3,722.8 734.7,722.3 746.3,722.3 749.7,722.4 797.1,722.3 816.1,722.7 885,722.4 899.8,722.6 916.4,722.4 943,722.3 947.2,722.4 963.7,722.7 990.7,722.8 1015.6,722.8 1023.1,722.5 1070.9,722.3 1073.1,722.2"/><polyline class="B3a8a6a" points="605.9,722.6 622.4,722.8 632.8,722.6 670.9,722.5 675.1,722.6 698.5,722.7 726,722.8 751.7,722.8 760.2,722.7 762.6,722.6 765.5,722.4 778.7,722.3 788.9,722.2 811.1,722.4 843.5,722.6 891.7,722.5 910.8,722.2 913.6,722.7 926.2,722.3 955.2,722.8 965.7,722.5 1004.4,722.3 1009.2,722.7 1011.2,722.5 1045.6,722.7 1065.7,722.4"/><polyline class="B2a3a8a" points="582,722.5 589.5,722.7 616.4,722.4 619.8,722.9 642,722.8 646.3,722.5 648.7,722.8 652.2,722.2 664.1,722.8 678.3,722.5 692.2,722.3 694.8,722.6 701.9,722.3 709.8,722.4 713.3,722.2 717.5,722.6 721.9,722.3 728.8,722.7 730.9,722.3 739.3,722.9 743.3,722.5 755.8,722.3 774.8,722.2 793,722.8 800.9,722.8 804.2,722.5 806.8,722.4 820.3,722.5 822.5,722.9 825.5,722.5 828.7,722.3 833,722.3 837.2,722.8 841.6,722.4 847.9,722.8 858.6,722.4 865.6,722.5 873.5,722.3 879.4,722.7 881.7,722.2 888,722.7 894.9,722.9 897,722.3 902.7,722.4 907.2,722.3 919.5,722.8 923.7,722.6 929.7,722.9 934,722.3 949.6,722.6 953.2,722.6 968.9,722.6 983.2,722.7 987.9,722.8 993.7,722.4 1025.8,722.7 1029.5,722.3 1033.6,722.8 1040.8,722.2 1042.9,722.6 1050,722.6 1068.5,722.7"/>
<line class="segC" x1="642.5" y1="696.4" x2="650" y2="706"/>
<line class="segC" x1="693" y1="708.4" x2="686" y2="713"/>
<line class="segC" x1="763" y1="703" x2="765.5" y2="709"/>
<line class="segC" x1="801" y1="685.8" x2="799" y2="691"/>
<line class="segC" x1="887" y1="694" x2="887" y2="700"/>
<line class="segC" x1="1008.3" y1="565.1" x2="1008.3" y2="571"/>
<line class="segC" x1="1070" y1="711.6" x2="1072" y2="718"/>
<text class="dv gl" text-anchor="middle" x="642.2" y="693.7">G6PC2</text>
<text class="dv gl" text-anchor="middle" x="693.4" y="706">ADCY5</text>
<text class="dv gl" text-anchor="middle" x="761.9" y="700.3">CDKAL1</text>
<text class="dv gl" text-anchor="middle" x="801.3" y="683.1">GCK</text>
<text class="dv gl" text-anchor="middle" x="887" y="691.3">TCF7L2</text>
<text class="dv gl" text-anchor="middle" x="1008.3" y="562.4">PIEZO1</text>
<text class="dv gl" text-anchor="middle" x="1070.3" y="709">KCTD17</text>
<text class="dv ttl" x="1302.6" y="539.4">Lipid</text>
<rect class="bord" x="1302.4" y="549.6" width="545" height="181.3"/>
<line class="tick" x1="1299" y1="728.1" x2="1302.4" y2="728.1"/>
<text class="dv tC" text-anchor="end" x="1296.2" y="731.6">0</text>
<line class="tick" x1="1299" y1="681.6" x2="1302.4" y2="681.6"/>
<text class="dv tC" text-anchor="end" x="1296.2" y="685.1">30</text>
<line class="tick" x1="1299" y1="635" x2="1302.4" y2="635"/>
<text class="dv tC" text-anchor="end" x="1296.2" y="638.5">60</text>
<line class="tick" x1="1299" y1="588.5" x2="1302.4" y2="588.5"/>
<text class="dv tC" text-anchor="end" x="1296.2" y="592">90</text>
<text class="dv aC" style="font-size:12px" text-anchor="middle" transform="translate(1274.4 641) rotate(-90)">−<tspan dx="2.2">log</tspan><tspan font-size="8.6" dy="3.3">10</tspan><tspan dy="-3.3"> P</tspan></text>
<line class="tick" x1="1347.3" y1="730.9" x2="1347.3" y2="734.5"/>
<text class="dv tC" text-anchor="middle" transform="translate(1354.7 743.5) rotate(-90)">1</text>
<line class="tick" x1="1389.5" y1="730.9" x2="1389.5" y2="734.5"/>
<text class="dv tC" text-anchor="middle" transform="translate(1396.9 743.5) rotate(-90)">2</text>
<line class="tick" x1="1429.3" y1="730.9" x2="1429.3" y2="734.5"/>
<text class="dv tC" text-anchor="middle" transform="translate(1436.7 743.5) rotate(-90)">3</text>
<line class="tick" x1="1460.9" y1="730.9" x2="1460.9" y2="734.5"/>
<text class="dv tC" text-anchor="middle" transform="translate(1468.3 743.5) rotate(-90)">4</text>
<line class="tick" x1="1494.7" y1="730.9" x2="1494.7" y2="734.5"/>
<text class="dv tC" text-anchor="middle" transform="translate(1502.1 743.5) rotate(-90)">5</text>
<line class="tick" x1="1521" y1="730.9" x2="1521" y2="734.5"/>
<text class="dv tC" text-anchor="middle" transform="translate(1528.4 743.5) rotate(-90)">6</text>
<line class="tick" x1="1552.2" y1="730.9" x2="1552.2" y2="734.5"/>
<text class="dv tC" text-anchor="middle" transform="translate(1559.6 743.5) rotate(-90)">7</text>
<line class="tick" x1="1576.8" y1="730.9" x2="1576.8" y2="734.5"/>
<text class="dv tC" text-anchor="middle" transform="translate(1584.2 743.5) rotate(-90)">8</text>
<line class="tick" x1="1605.2" y1="730.9" x2="1605.2" y2="734.5"/>
<text class="dv tC" text-anchor="middle" transform="translate(1612.6 743.5) rotate(-90)">9</text>
<line class="tick" x1="1627.8" y1="730.9" x2="1627.8" y2="734.5"/>
<text class="dv tC" text-anchor="middle" transform="translate(1635.2 743.5) rotate(-90)">10</text>
<line class="tick" x1="1649.9" y1="730.9" x2="1649.9" y2="734.5"/>
<text class="dv tC" text-anchor="middle" transform="translate(1657.3 743.5) rotate(-90)">11</text>
<line class="tick" x1="1673.7" y1="730.9" x2="1673.7" y2="734.5"/>
<text class="dv tC" text-anchor="middle" transform="translate(1681.1 743.5) rotate(-90)">12</text>
<line class="tick" x1="1696.5" y1="730.9" x2="1696.5" y2="734.5"/>
<text class="dv tC" text-anchor="middle" transform="translate(1703.9 743.5) rotate(-90)">13</text>
<line class="tick" x1="1716.6" y1="730.9" x2="1716.6" y2="734.5"/>
<text class="dv tC" text-anchor="middle" transform="translate(1724 743.5) rotate(-90)">14</text>
<line class="tick" x1="1734.2" y1="730.9" x2="1734.2" y2="734.5"/>
<text class="dv tC" text-anchor="middle" transform="translate(1741.6 743.5) rotate(-90)">15</text>
<line class="tick" x1="1749.7" y1="730.9" x2="1749.7" y2="734.5"/>
<text class="dv tC" text-anchor="middle" transform="translate(1757.1 743.5) rotate(-90)">16</text>
<line class="tick" x1="1764.2" y1="730.9" x2="1764.2" y2="734.5"/>
<text class="dv tC" text-anchor="middle" transform="translate(1771.6 743.5) rotate(-90)">17</text>
<line class="tick" x1="1778.4" y1="730.9" x2="1778.4" y2="734.5"/>
<text class="dv tC" text-anchor="middle" transform="translate(1785.8 743.5) rotate(-90)">18</text>
<line class="tick" x1="1790" y1="730.9" x2="1790" y2="734.5"/>
<text class="dv tC" text-anchor="middle" transform="translate(1797.4 743.5) rotate(-90)">19</text>
<line class="tick" x1="1801" y1="730.9" x2="1801" y2="734.5"/>
<text class="dv tC" text-anchor="middle" transform="translate(1808.4 743.5) rotate(-90)">20</text>
<line class="tick" x1="1811.6" y1="730.9" x2="1811.6" y2="734.5"/>
<text class="dv tC" text-anchor="middle" transform="translate(1819 743.5) rotate(-90)">21</text>
<line class="tick" x1="1819.8" y1="730.9" x2="1819.8" y2="734.5"/>
<text class="dv tC" text-anchor="middle" transform="translate(1827.2 743.5) rotate(-90)">22</text>
<text class="dv aC" text-anchor="middle" x="1574.9" y="762.9">Chromosome</text>
<text class="dv lgt" x="1866.9" y="592">Phenotype</text>
<g class="lg"><circle cx="1876.3" cy="609.6" r="3" fill="#E41A1C"/><circle cx="1876.3" cy="629.6" r="3" fill="#377EB8"/><circle cx="1876.3" cy="649.5" r="3" fill="#4DAF4A"/><circle cx="1876.3" cy="669.5" r="3" fill="#984EA3"/><circle cx="1876.3" cy="689.5" r="3" fill="#FF7F00"/></g>
<text class="dv lgl" x="1892.9" y="613.3">HDL-C</text>
<text class="dv lgl" x="1892.9" y="633.3">LDL-C</text>
<text class="dv lgl" x="1892.9" y="653.2">Non-HDL Cholesterol</text>
<text class="dv lgl" x="1892.9" y="673.2">Total cholesterol</text>
<text class="dv lgl" x="1892.9" y="693.2">Triglycerides</text>
<polyline class="F8a1212" points="1680.4,718.9 1503.2,719.8 1734.3,721.1 1796.1,720.2 1625.6,720.1 1525.6,719.1 1666.8,721.2 1438,720.2 1562.4,718.8 1691.8,720.4 1474.3,720.9 1797.4,720.8 1758.1,718.9 1478,720.9 1445.4,718.9 1619.1,720.4 1654.1,720.1 1446.3,720.6 1403.5,719.1 1518.6,720 1480.4,720.2 1438.4,720.7 1530.7,719.8 1507,720.8 1784.6,720.8 1637.6,720.7 1332,719.8 1658.3,721.1 1680.3,721.2 1656.3,719.9 1650.8,720.3 1590.1,719.4 1479.7,719.2 1751.6,719.9 1628.4,720.6 1625.4,719.9 1589,719.5 1399.3,720.7 1696.6,720.7 1572.1,719 1506.5,720 1465.1,721.1 1512.2,721 1438.5,720.3 1716.4,720.9 1579,719.9 1766,719 1370.2,720.3 1792.4,720 1694.8,719.6 1802.3,719.7 1454.3,720 1796.8,719.6 1735.3,719.7 1657.9,719.4 1794.3,720.6 1618.9,721.1 1573.5,720.3 1629,719.1 1538.8,719.4 1812.6,721.1 1544.4,720.1 1504.4,720.8 1794.4,719.2 1650.3,719.1"/><polyline class="FE41A1C" points="1766,718.9 1735.2,720.2 1379.7,719.8 1543.6,719.9 1593.4,719.3 1405.7,720.9 1682.7,721.3 1730.4,719.5 1374.6,720.5 1377.6,720.6 1495.9,719.7 1411.3,719.1 1354.1,718.9 1694.6,720.5 1613.6,719.7 1523.1,721 1376.4,720.5 1529.8,719.3 1653.2,720.9 1611,719.5 1546.2,720.2 1376.4,721.1 1764.6,719.3 1360.9,719 1530,720.1 1714.5,719 1761.3,720.5"/><polyline class="F5a1a2a" points="1670.1,720.3 1579.2,719.4 1392.2,720.4 1446.1,719.1 1695.1,720.7 1798.6,720.2 1558,720.6 1521.8,719.3 1593.6,720.3"/>
<polyline class="PFF7F00" points="1337.2,715.7 1337,713.9 1337.1,712.6 1337.2,710.9 1337.1,709.5"/><polyline class="P984EA3" points="1337,707.9 1336.9,706.4 1337.1,704.8"/><polyline class="PFF7F00" points="1337,701.7 1337.1,699.8 1337.1,697.4 1337.1,695.7 1337,693.9 1337.2,691.7 1336.9,689.7 1337.2,687 1337,683.3 1337.1,680"/><polyline class="P984EA3" points="1345.1,717.2 1345.4,716.1 1345.3,714 1345.2,711.7 1345.3,709.7 1345.5,708.2 1345.1,706.5 1345.2,704.9 1345.5,703.2 1345.4,701.4 1345.3,698.8 1345.4,696.4 1345.2,693.9 1345.2,689.5 1345.2,685.7 1345.2,681.5 1345.1,678.2 1345.4,674.5 1345.5,672.4 1345.2,669.9 1345.3,667.6"/><polyline class="P4DAF4A" points="1345.3,650.6 1345.3,647.4 1345.3,644.3 1345.3,641.2 1345.3,639.7"/><polyline class="P377EB8" points="1345.3,661.9 1345.3,604"/><polyline class="P984EA3" points="1345.3,621.5 1345.3,573"/><polyline class="PE41A1C" points="1366.2,703.9"/><polyline class="PFF7F00" points="1366.2,713.4 1374.3,717.2 1374.3,715.4 1374.4,712.8 1374.3,711.7 1374.2,710.5 1374.3,708.7 1374.2,707.2 1374.2,705.2 1374.3,703.3 1374.2,701.8 1374.5,699.7 1374.4,698 1374.3,696.7 1374.2,694.7 1374.3,692.4 1374.4,688.2 1374.3,683.9 1374.3,680.6 1374.3,678.6 1374.3,675.4 1374.3,667.6 1374.3,666.1 1374.3,664.5 1374.3,663 1374.3,653.7 1374.3,650.6 1374.3,647.4 1374.3,611.8"/><polyline class="P984EA3" points="1377,714.1 1457.3,717.2 1491.5,717.2 1491.3,715 1491.1,713.3 1491.2,712.1 1491.3,710.9 1491.4,709.1 1491.1,707.9 1491.1,705.3 1491.3,703.4 1491.4,701.8 1491.5,699.9 1491.2,697.9 1491.2,695.7 1491.3,693.9 1491.2,691.4 1491.4,688.8 1491.1,685 1491.2,682.9 1491.3,681.6 1505.3,712.6 1505.3,709.5 1537.3,712.6"/><polyline class="PFF7F00" points="1551.8,714.1 1551.9,712.4 1551.9,710.1 1551.8,708.2 1551.7,707 1551.8,705.7 1551.6,703.6 1551.7,702.2 1551.8,700.6 1551.6,698.8 1551.9,697 1552,695.6 1551.7,693.4 1551.6,689.1 1551.8,687.8"/><polyline class="PE41A1C" points="1561.8,706.4 1561.8,703.3"/><polyline class="PFF7F00" points="1569.5,712.6 1569.6,709.6 1569.7,706.5 1569.6,703.8"/><polyline class="PE41A1C" points="1569.7,699.4"/><polyline class="PFF7F00" points="1569.5,697.4 1569.5,693.3 1569.7,689.7"/><polyline class="PE41A1C" points="1569.5,685.3"/><polyline class="PFF7F00" points="1569.5,681.8 1569.5,678.2 1569.7,674.9"/><polyline class="PE41A1C" points="1569.5,671"/><polyline class="PFF7F00" points="1569.7,668.2"/><polyline class="PE41A1C" points="1569.6,664.5"/><polyline class="PFF7F00" points="1569.7,661.7 1569.5,658.5"/><polyline class="PE41A1C" points="1569.7,654.6"/><polyline class="PFF7F00" points="1569.7,651 1569.5,647.1 1569.4,643"/><polyline class="PE41A1C" points="1569.7,639.1"/><polyline class="PFF7F00" points="1569.7,635.2 1569.6,633"/><polyline class="PE41A1C" points="1569.7,630.4"/><polyline class="PFF7F00" points="1569.6,626"/><polyline class="PE41A1C" points="1569.5,624.2 1569.4,620.2 1569.5,616.7 1569.6,612.2 1569.7,609.3 1569.7,606.3 1569.6,602.9"/><polyline class="P984EA3" points="1576.7,709.5 1576.7,706.4"/><polyline class="PFF7F00" points="1588.6,712.6 1588.6,710.5 1588.4,708.2 1588.6,705.6 1588.6,703.1 1588.6,700.7 1588.5,699.1 1588.6,696.5 1588.5,695.5 1588.5,684.7 1588.5,681.6"/><polyline class="PE41A1C" points="1609.6,718.8 1609.6,717.2 1609.8,715.8 1609.9,714.6 1609.8,712.8 1609.9,711.2 1609.9,710.1 1609.9,707.6 1609.7,705.4 1609.9,703.4 1610,702 1609.9,700.6 1609.8,698.6 1609.8,697.1"/><polyline class="P984EA3" points="1609.6,697.1 1609.8,695.1 1610,693.1 1609.9,690.8 1609.7,687.1 1609.9,682.9 1609.8,681.6"/><polyline class="PE41A1C" points="1609.8,680 1609.8,676.9"/><polyline class="P377EB8" points="1615,706.4 1615,703.3"/><polyline class="PFF7F00" points="1616.6,709.5 1631.8,707.9 1631.8,704.8 1649.4,715.7 1649.4,713.4 1649.3,711.9 1649.2,709.6 1649.4,707.5 1649.2,705.5 1649.2,703.7 1649.4,702.4 1649.3,700.2 1659.1,712.6 1659,711.3 1658.9,708.7 1659.1,707.2 1659,706 1659,704.4 1659.1,701.9 1659,700 1659,697.8 1659,695.4 1658.9,693.8 1658.9,691.4 1658.8,688.8 1658.8,685.9 1658.9,683.5 1659.1,680.6 1658.9,677.7 1659.1,673.9 1659.2,671.4 1658.9,668.6 1659,664.1 1658.9,661.5 1659,657 1659.1,653.8 1659,650.4 1659,646.7 1658.8,643.6 1658.9,639.1 1659.1,636.3 1659.2,632.4 1659,629.5 1659.2,625.8 1659.1,621.4 1659,617.7 1659,614.2 1659,610.6 1658.8,607.1 1658.9,604.1 1659,600.9 1659,591.6 1659,572.5"/><polyline class="PE41A1C" points="1681.3,712.6 1681.2,710.4 1681.3,708.9 1681.2,706.4"/><polyline class="P984EA3" points="1709.1,712.6"/><polyline class="PE41A1C" points="1733.3,717.2 1733.4,715.3 1733.6,713.7 1733.7,711.8 1733.7,709.5 1733.4,707.3 1733.4,705.2 1733.3,703.3 1733.5,700.7 1733.3,698.6 1733.6,696.6 1733.4,694.8 1733.7,692.6 1733.4,689.4 1733.6,685.4 1733.6,682.7 1733.4,679 1733.5,676.9 1733.5,661.4 1733.5,658.3 1750.6,717.2 1750.5,716 1750.6,714.6 1750.4,712.6 1750.4,711.1 1750.6,709.8 1750.6,707.9 1750.6,706.3 1750.3,704.1 1750.6,701.7 1750.6,699.7 1750.5,697.3 1750.4,694.7 1750.6,693.3 1750.6,689.9 1750.7,686.3 1750.5,681.9 1750.7,678.7 1750.4,676.2 1750.5,674.1 1750.7,670.2 1750.5,667.6 1750.5,659.9 1750.5,651.3 1750.5,648.2 1750.5,630.4 1750.5,613.3 1750.5,610.2 1750.5,607.1 1750.5,593.2 1750.5,591.6 1750.5,584.6 1750.5,573"/><polyline class="P377EB8" points="1752,701.7 1752,698.6"/><polyline class="PFF7F00" points="1764,707.9"/><polyline class="PE41A1C" points="1764,701.7 1779.3,717.2 1779.5,715.5 1779.4,713.1 1779.6,711.2 1779.6,709 1779.2,707.8 1779.4,705.7 1779.3,704.2 1779.4,702.3 1779.5,699.9 1779.3,698.6 1779.4,696.2 1779.5,693.9 1779.4,691 1779.4,687.8"/><polyline class="PFF7F00" points="1786.6,712.6 1786.4,710.2 1786.2,707.9 1786.6,706.6 1786.3,704.4 1786.6,702.8 1786.5,700.9 1786.2,698.8 1786.3,697 1786.3,695.7 1786.4,693.7 1786.4,689.9 1786.6,685.5 1786.4,683.3 1786.5,679.5 1786.6,676 1786.2,673.3 1786.2,669.7 1786.4,666.8 1786.5,662.4 1786.2,660.1 1786.4,656.8"/><polyline class="P984EA3" points="1786.4,681.6 1786.6,678.9 1786.3,674.3 1786.3,670.8 1786.4,669.2"/><polyline class="P377EB8" points="1786.5,644.3 1786.3,641.8 1786.4,639.7"/><polyline class="PFF7F00" points="1792.7,712.6"/><polyline class="P984EA3" points="1792.5,708.1 1792.8,704.1"/><polyline class="PFF7F00" points="1792.6,700.4"/><polyline class="P984EA3" points="1792.6,697.1"/><polyline class="PFF7F00" points="1792.7,694.5 1792.7,690.1 1792.5,685.7 1792.8,682.3"/><polyline class="P984EA3" points="1792.5,680.1 1792.4,677.9 1792.5,675.1"/><polyline class="PFF7F00" points="1792.4,670.7 1792.6,666.5"/><polyline class="P984EA3" points="1792.5,664.1"/><polyline class="PFF7F00" points="1792.7,661.7 1792.4,657.8 1792.6,653.7 1792.7,650.9 1792.6,648.7"/><polyline class="P984EA3" points="1792.6,647.4 1792.6,644.3 1792.7,641.2 1792.6,639.2 1792.6,638.1"/><polyline class="P377EB8" points="1792.6,631.9 1792.6,624.2 1792.6,597.8 1792.6,594.7 1792.6,591.6"/><polyline class="P4DAF4A" points="1792.6,627.3 1792.6,619.5 1792.6,587"/><polyline class="P984EA3" points="1792.6,608.7 1792.6,573"/><polyline class="PFF7F00" points="1802.1,712.6 1801.9,710.7 1802,708.7 1802,706.4"/><polyline class="PE41A1C" points="1802,701.7 1818.4,715.7"/>
<polyline class="B5a1a2a" points="1367.6,722.3 1389.8,722.9 1392.7,723 1487.5,722.7 1543.3,723.4 1546.7,722.2 1553.8,722.3 1581.6,722.8 1593.4,723 1741.1,722.1 1776.7,722.3 1814.6,722.2"/><polyline class="BE41A1C" points="1333.4,723.4 1335.7,722.1 1344.7,722.7 1355.9,721.9 1361.4,723.4 1380.4,723.2 1382.5,722.7 1395.8,722.7 1403.7,721.7 1410.9,722.8 1414.1,723 1417.2,721.9 1421.9,723.3 1442.6,722.6 1444.3,723.4 1458.9,722.2 1469.5,723.1 1471.7,722.1 1479.2,723.2 1491.2,721.7 1494.4,721.9 1497.4,722.3 1500.7,722 1506.7,723.2 1512.5,722 1515.8,722 1524.6,722.2 1537.4,722.4 1549.4,722.3 1552.3,722.4 1558.6,723.3 1560.4,721.8 1562.3,722.3 1564.7,723.3 1571.2,721.7 1575.8,723 1584.9,721.9 1608.1,722.7 1612.6,722.9 1616.3,723.2 1634.1,723.4 1639.4,722.9 1644.9,723.4 1652.6,721.9 1659.2,723.4 1679.4,723.1 1682.6,721.6 1714.4,722.4 1716,722.9 1719.3,722.2 1739.3,722 1779.4,721.9 1797.1,723.2 1801.9,722.9"/><polyline class="B8a1212" points="1328.4,721.7 1330.2,723.4 1337.5,722.9 1341.1,722.1 1352.6,722.6 1357.8,722.4 1363.1,721.8 1366,723.2 1370.5,723 1372.5,723.4 1375.4,721.9 1377.3,721.7 1394.2,722.4 1399.6,723.3 1401.5,722.2 1406.2,722.5 1408.1,721.7 1419.1,723.2 1424.3,722.9 1426.5,722.7 1430.2,723.1 1433.6,722.1 1435.5,723.3 1437.3,723.1 1439.2,722.1 1446.3,721.6 1450,722.4 1452,721.7 1455.3,721.6 1457.2,722.1 1462.7,722.4 1464.7,721.7 1466.8,723.2 1473.4,721.8 1477.1,722.8 1481.3,722.4 1484.9,721.6 1502.9,722.2 1510.3,723.2 1518.3,722.1 1522,722.1 1527.5,722.1 1529.5,721.6 1531.9,723 1535.5,721.8 1541.2,721.9 1556.9,721.7 1568.1,722.3 1572.8,723.4 1578,721.6 1588.7,722.9 1590.9,722.2 1596.4,722.3 1610.9,722 1618.8,722 1620.9,721.7 1622.9,722 1624.6,722.7 1626.4,722.6 1630,723.3 1631.6,721.9 1637.4,721.9 1642.5,722.3 1647.3,722 1648.9,722.1 1650.7,723.2 1655.5,723 1657.4,722.5 1661.5,722.1 1665.3,722.9 1669,722.8 1672.4,721.7 1674.7,721.8 1677.3,722.9 1690.9,723.2 1693.1,723.2 1695.6,722.5 1697.3,722.7 1698.9,723.3 1702.5,722.3 1711.3,722.3 1730.1,722.1 1733.7,722.4 1737.3,723.3 1752.7,722.2 1756,721.8 1759.2,722.3 1762.4,722.1 1764.9,721.9 1768.1,721.9 1770.8,723.1 1773.7,722.2 1782.1,722.1 1784.3,721.7 1787.5,722.1 1791.2,723.3 1795,722.2 1800.1,722.1 1811.7,722.7 1817.8,722.4 1820.6,722.8"/><polyline class="B5a1a2a" points="1333.9,723 1338.9,722.2 1495.2,722.1 1505.4,721.7 1511.8,721.8 1536.6,722.2 1540.5,723.2 1579.3,722.8 1661,723.3 1700.2,723.3"/><polyline class="BE41A1C" points="1336.7,721.6 1342.6,721.8 1356.2,722.4 1359.8,722.1 1364.6,722.6 1370.2,722.9 1399.1,722.6 1401.9,723.3 1404.1,721.8 1407.9,722.5 1414.1,722.4 1429.7,722.5 1458.9,722.6 1461.9,722.6 1479.9,722 1489.6,723 1492.9,723.3 1499.2,723.3 1508.8,721.7 1515.1,722.3 1530.1,723.2 1538.7,721.6 1550.9,723.3 1553,722.1 1559.2,723.1 1575.2,722.2 1589.8,722.9 1593.4,723.1 1597.6,721.7 1622.3,722.2 1631,721.8 1636.9,722.6 1642.3,723 1646.7,722 1650.6,721.6 1657.2,722.1 1671.8,722.2 1694.2,722.4 1698.1,722 1702,722.6 1716.6,723 1718.7,721.9 1740.7,721.8 1743.1,722.6 1756.6,723 1760.3,722.1 1766.6,721.8 1785.5,722.6 1789.3,721.8 1792.7,722.1 1814.1,721.7"/><polyline class="B8a1212" points="1328.5,721.7 1331.2,722.7 1362.1,722.6 1366.6,723 1371.7,723 1373.5,722.8 1376.4,722.5 1379.1,723.3 1390.7,722.3 1393.1,723.1 1396.4,722.9 1411.7,722 1417.6,722.7 1420.6,722.1 1424,722.8 1427.6,722.6 1432.1,721.6 1434.2,721.9 1436.6,722.2 1440.3,722.3 1443.1,723 1446,721.8 1448.2,722.7 1452.1,722.8 1455.5,722 1464.4,723.2 1466.5,723 1469.2,723 1472.7,722.6 1476.5,721.8 1483.3,723.1 1485.8,722.7 1487.9,722.2 1497,722.1 1502.1,722.1 1507,722.3 1517.1,723.3 1519.2,722.6 1521.4,723 1523.5,722.6 1526.6,723.3 1533,722.4 1534.6,722.5 1544,723.1 1547.5,722.2 1556.3,723.4 1561.7,721.9 1564.8,722.6 1567.4,722.7 1569,722.7 1571.3,723.1 1576.7,722.1 1582.4,722.9 1583.9,723 1586.2,722.4 1595.2,722.7 1607.2,722 1611,723.1 1614.7,722.9 1618.3,722.2 1620.6,722.1 1626.2,723.1 1628.9,722.1 1634.3,722.5 1639.6,722.3 1645.1,722.7 1653.8,722.8 1664.3,721.9 1666.2,722.2 1668.9,722.5 1675.1,722 1677.3,722.3 1680.5,723.2 1691.4,722.2 1703.6,722 1711.9,722.6 1713.4,723 1730.8,722.5 1733.3,722.4 1735.3,723.1 1738.6,722 1751.5,722 1753.3,721.8 1763.4,722.3 1769.7,722.9 1772.8,723.4 1775.4,722.5 1778.8,721.8 1781.8,722 1791.2,722 1796.1,722.2 1798.4,722.5 1801.6,722 1804.1,722.5 1817.8,722.5 1819.6,722.1 1821.8,722.9"/><polyline class="B5a1a2a" points="1339.7,721.8 1446.5,722.5 1527.4,721.9 1587.3,721.9 1616,722 1645.4,722.6 1658.8,721.7 1698.1,723.3"/><polyline class="BE41A1C" points="1329.1,722.4 1335.8,721.6 1338,721.6 1342.9,722.2 1345.6,723.4 1361,722.7 1374.7,723.3 1378.5,721.7 1380.7,723.2 1382.6,722.6 1391.6,723.1 1393.4,722.6 1402.3,722 1408.4,722.1 1422.7,723.1 1425.7,722.1 1440.6,722 1443.2,722.1 1453.8,722.6 1455.5,721.9 1460,722.7 1462.3,722 1465.8,722.2 1479.7,721.8 1487.7,721.8 1491.5,722.7 1532.2,722.5 1541.6,723.1 1558.3,722.6 1566.2,723 1568,721.8 1578.6,722.5 1591.5,723.2 1605.1,722.5 1607,722.5 1626.7,722.8 1629,722.9 1635.7,722.7 1639.4,723.4 1651.1,722.1 1660.7,723.4 1662.7,723.4 1675.4,723.1 1679.3,722.6 1683.1,722.5 1701.8,723.3 1715.7,723.1 1718.4,722 1734.9,722.1 1740.9,722 1754.1,721.7 1763,723.1 1768,723.3 1771.6,723.2 1800.7,722.2"/><polyline class="B8a1212" points="1332.8,722.7 1355.2,722.9 1359.1,722 1364.3,722.9 1366.8,722.7 1369.6,722 1373.2,723.3 1395.3,723.4 1398.7,723 1404.5,721.8 1406.5,722 1411.8,721.8 1414.2,722.8 1416.8,722.3 1419.5,722.3 1427.6,723.1 1429.7,722 1433.1,721.9 1437,722.5 1449.3,722.7 1451.9,722.5 1458.2,722.4 1467.9,722.3 1471.7,721.9 1473.7,722.8 1477.1,722.6 1481.7,722.9 1484.2,721.7 1485.9,723.3 1489.8,723 1493.6,723.4 1496.2,721.8 1499.9,721.7 1501.8,722.1 1504.3,723 1507.9,723.1 1510.7,722.3 1512.8,722.5 1516.4,722.7 1518.5,722.7 1522.3,722.5 1524.3,721.7 1529.6,721.7 1536,722.2 1539.4,723.2 1543.6,721.9 1546.4,723.3 1548.1,723.1 1550.3,722.2 1551.9,723 1553.5,722.5 1556.4,721.8 1560.2,721.9 1563.7,722.4 1570.7,722.1 1573,721.9 1575.4,723.2 1582.3,722.1 1584.4,723 1589.1,722 1594.1,723 1597.5,723.3 1610.8,723.2 1614.4,722.1 1619.1,723.1 1622.4,722.4 1624.8,721.9 1631.4,722.2 1633.7,722 1637.6,723.3 1642,722.2 1649.2,722.6 1653.5,722.1 1656,721.9 1665.8,723.2 1668.2,722.1 1671.9,723.4 1692.9,722 1695.3,722.6 1703.7,723 1712.6,722.6 1720.1,721.7 1731.4,723.2 1733.3,722 1737.1,722.7 1738.8,723.2 1742.9,721.6 1752.3,721.8 1758,721.9 1761.2,721.7 1765.3,723.4 1773.8,722.4 1776.1,722.3 1779.6,723.4 1781.9,721.9 1784.2,723.4 1787.4,722.3 1789.5,723 1793.3,721.9 1795.6,722.5 1798.3,722.8 1804.4,722.1 1811.7,721.7 1814.8,722.2 1818.4,722.4 1820.7,723.2"/>
<line class="segC" x1="1345.3" y1="565.1" x2="1345.3" y2="571"/>
<line class="segC" x1="1374.3" y1="603.5" x2="1374.3" y2="609"/>
<line class="segC" x1="1491.3" y1="671.2" x2="1491.3" y2="678"/>
<line class="segC" x1="1527" y1="703.4" x2="1536" y2="707"/>
<line class="segC" x1="1551.8" y1="679" x2="1551.8" y2="686"/>
<line class="segC" x1="1609.8" y1="666.3" x2="1609.8" y2="672"/>
<line class="segC" x1="1659" y1="564.6" x2="1659" y2="570"/>
<line class="segC" x1="1671" y1="696" x2="1680" y2="707"/>
<line class="segC" x1="1717" y1="710.4" x2="1711" y2="713"/>
<line class="segC" x1="1733.5" y1="653.8" x2="1733.5" y2="660"/>
<line class="segC" x1="1750" y1="693.3" x2="1762" y2="701"/>
<line class="segC" x1="1767" y1="672.2" x2="1779" y2="688"/>
<line class="segC" x1="1792.6" y1="565.1" x2="1792.6" y2="571"/>
<line class="segC" x1="1806" y1="683.3" x2="1803" y2="700"/>
<line class="segC" x1="1818" y1="700.5" x2="1818" y2="712"/>
<text class="dv gl" text-anchor="middle" x="1345.3" y="562.4">PSRC1</text>
<text class="dv gl" text-anchor="middle" x="1374.3" y="600.8">GCKR</text>
<text class="dv gl" text-anchor="middle" x="1491.3" y="668.5">HMGCR</text>
<text class="dv gl" text-anchor="middle" x="1522.6" y="701">SLC22A3</text>
<text class="dv gl" text-anchor="middle" x="1551.5" y="676.4">MLXIPL</text>
<text class="dv gl" text-anchor="middle" x="1609.8" y="663.6">ABCA1</text>
<text class="dv gl" text-anchor="middle" x="1659" y="561.9">BUD13</text>
<text class="dv gl" text-anchor="middle" x="1671.3" y="693.2">MVK</text>
<text class="dv gl" text-anchor="middle" x="1717.4" y="707.9">NYNRIN</text>
<text class="dv gl" text-anchor="middle" x="1733.5" y="651.1">LIPC</text>
<text class="dv gl" text-anchor="middle" x="1741" y="690.8">CD300LG</text>
<text class="dv gl" text-anchor="middle" x="1766.6" y="669.5">LIPG</text>
<text class="dv gl" text-anchor="middle" x="1792.6" y="562.4">APOE</text>
<text class="dv gl" text-anchor="middle" x="1812" y="680.7">HNF4A</text>
<text class="dv gl" text-anchor="middle" x="1819.1" y="697.9">UBE2L3</text>
<text class="dv ttl" x="554.8" y="789">Red cell</text>
<rect class="bord" x="554.6" y="799.2" width="545" height="181.3"/>
<line class="tick" x1="551.2" y1="977.1" x2="554.6" y2="977.1"/>
<text class="dv tC" text-anchor="end" x="548.4" y="980.6">0</text>
<line class="tick" x1="551.2" y1="930.6" x2="554.6" y2="930.6"/>
<text class="dv tC" text-anchor="end" x="548.4" y="934.1">30</text>
<line class="tick" x1="551.2" y1="884.1" x2="554.6" y2="884.1"/>
<text class="dv tC" text-anchor="end" x="548.4" y="887.6">60</text>
<line class="tick" x1="551.2" y1="837.6" x2="554.6" y2="837.6"/>
<text class="dv tC" text-anchor="end" x="548.4" y="841.1">90</text>
<text class="dv aC" style="font-size:12px" text-anchor="middle" transform="translate(526.6 890.6) rotate(-90)">−<tspan dx="2.2">log</tspan><tspan font-size="8.6" dy="3.3">10</tspan><tspan dy="-3.3"> P</tspan></text>
<line class="tick" x1="599.5" y1="980.5" x2="599.5" y2="984.1"/>
<text class="dv tC" text-anchor="middle" transform="translate(606.9 993.1) rotate(-90)">1</text>
<line class="tick" x1="641.7" y1="980.5" x2="641.7" y2="984.1"/>
<text class="dv tC" text-anchor="middle" transform="translate(649.1 993.1) rotate(-90)">2</text>
<line class="tick" x1="681.5" y1="980.5" x2="681.5" y2="984.1"/>
<text class="dv tC" text-anchor="middle" transform="translate(688.9 993.1) rotate(-90)">3</text>
<line class="tick" x1="713.1" y1="980.5" x2="713.1" y2="984.1"/>
<text class="dv tC" text-anchor="middle" transform="translate(720.5 993.1) rotate(-90)">4</text>
<line class="tick" x1="746.9" y1="980.5" x2="746.9" y2="984.1"/>
<text class="dv tC" text-anchor="middle" transform="translate(754.3 993.1) rotate(-90)">5</text>
<line class="tick" x1="773.2" y1="980.5" x2="773.2" y2="984.1"/>
<text class="dv tC" text-anchor="middle" transform="translate(780.6 993.1) rotate(-90)">6</text>
<line class="tick" x1="804.4" y1="980.5" x2="804.4" y2="984.1"/>
<text class="dv tC" text-anchor="middle" transform="translate(811.8 993.1) rotate(-90)">7</text>
<line class="tick" x1="829" y1="980.5" x2="829" y2="984.1"/>
<text class="dv tC" text-anchor="middle" transform="translate(836.4 993.1) rotate(-90)">8</text>
<line class="tick" x1="857.4" y1="980.5" x2="857.4" y2="984.1"/>
<text class="dv tC" text-anchor="middle" transform="translate(864.8 993.1) rotate(-90)">9</text>
<line class="tick" x1="880" y1="980.5" x2="880" y2="984.1"/>
<text class="dv tC" text-anchor="middle" transform="translate(887.4 993.1) rotate(-90)">10</text>
<line class="tick" x1="902.1" y1="980.5" x2="902.1" y2="984.1"/>
<text class="dv tC" text-anchor="middle" transform="translate(909.5 993.1) rotate(-90)">11</text>
<line class="tick" x1="925.9" y1="980.5" x2="925.9" y2="984.1"/>
<text class="dv tC" text-anchor="middle" transform="translate(933.3 993.1) rotate(-90)">12</text>
<line class="tick" x1="948.7" y1="980.5" x2="948.7" y2="984.1"/>
<text class="dv tC" text-anchor="middle" transform="translate(956.1 993.1) rotate(-90)">13</text>
<line class="tick" x1="968.8" y1="980.5" x2="968.8" y2="984.1"/>
<text class="dv tC" text-anchor="middle" transform="translate(976.2 993.1) rotate(-90)">14</text>
<line class="tick" x1="986.4" y1="980.5" x2="986.4" y2="984.1"/>
<text class="dv tC" text-anchor="middle" transform="translate(993.8 993.1) rotate(-90)">15</text>
<line class="tick" x1="1001.9" y1="980.5" x2="1001.9" y2="984.1"/>
<text class="dv tC" text-anchor="middle" transform="translate(1009.3 993.1) rotate(-90)">16</text>
<line class="tick" x1="1016.4" y1="980.5" x2="1016.4" y2="984.1"/>
<text class="dv tC" text-anchor="middle" transform="translate(1023.8 993.1) rotate(-90)">17</text>
<line class="tick" x1="1030.6" y1="980.5" x2="1030.6" y2="984.1"/>
<text class="dv tC" text-anchor="middle" transform="translate(1038 993.1) rotate(-90)">18</text>
<line class="tick" x1="1042.2" y1="980.5" x2="1042.2" y2="984.1"/>
<text class="dv tC" text-anchor="middle" transform="translate(1049.6 993.1) rotate(-90)">19</text>
<line class="tick" x1="1053.2" y1="980.5" x2="1053.2" y2="984.1"/>
<text class="dv tC" text-anchor="middle" transform="translate(1060.6 993.1) rotate(-90)">20</text>
<line class="tick" x1="1063.8" y1="980.5" x2="1063.8" y2="984.1"/>
<text class="dv tC" text-anchor="middle" transform="translate(1071.2 993.1) rotate(-90)">21</text>
<line class="tick" x1="1072" y1="980.5" x2="1072" y2="984.1"/>
<text class="dv tC" text-anchor="middle" transform="translate(1079.4 993.1) rotate(-90)">22</text>
<text class="dv aC" text-anchor="middle" x="827.1" y="1012.5">Chromosome</text>
<text class="dv lgt" x="1141.7" y="831.5">Phenotype</text>
<g class="lg"><circle cx="1151.1" cy="849.1" r="3" fill="#E41A1C"/><circle cx="1151.1" cy="869.1" r="3" fill="#377EB8"/><circle cx="1151.1" cy="889" r="3" fill="#4DAF4A"/><circle cx="1151.1" cy="909" r="3" fill="#984EA3"/><circle cx="1151.1" cy="929" r="3" fill="#FF7F00"/><circle cx="1151.1" cy="949" r="3" fill="#FFFF33"/></g>
<text class="dv lgl" x="1167.7" y="852.8">Haematocrit</text>
<text class="dv lgl" x="1167.7" y="872.8">Hb</text>
<text class="dv lgl" x="1167.7" y="892.7">MCH</text>
<text class="dv lgl" x="1167.7" y="912.7">MCV</text>
<text class="dv lgl" x="1167.7" y="932.7">RBC</text>
<text class="dv lgl" x="1167.7" y="952.7">RDW</text>
<polyline class="Fa0a030" points="945.4,969.7 669.3,968.9 715.9,968.7 797.3,967.7 621.2,967.7 982.2,967.7 746.4,969.9 620.9,969.6 782.8,970.2 886.8,967.8 794.4,967.1 867.5,969.3 902.5,969.1 1028.8,968.3 628,969.9 1071.7,970.3 624.2,970.6 1042.5,970.2 891.5,967.5 609.8,970 826,969.2 1019.7,969.7 889.8,967.2 797.3,968 867.7,969.1"/><polyline class="FFF7F00" points="912.2,968.9 877.8,969 753.4,967.3 1064.5,969.2 1040.5,967.1 882.5,967.7 830.7,969.3 585.5,967.1 885.9,967.2 867.5,970.6 685.5,968.5 878.6,967 761.2,968.6 673.5,967.3 1066.1,968.8"/><polyline class="FFFFF33" points="583.9,969.4 993.1,967.3 589.3,969.2 1004.1,967.3 967.2,968.7 626.2,969.5 769,968.4 1070.2,970 664.7,969.4 989,969.5 1073.1,970.5 756.3,970.3 1011.4,969.4 1010.6,970 820.4,969.4 1073.1,969.3 991.8,969.5 835.2,967.9 1047.7,969.6 833.7,969.5 683.8,970.2 830.7,969.9 924.9,968.6 867.5,970 822,970.3 778.6,969 1020.9,968.6 813.6,969 706.7,967.9 826.4,968.5 946.2,969.9 943.3,968.4 801.3,969.9 787.8,967.7 839.6,970 1039.9,967.3 745.7,967.7 680.4,968.4 583.5,969.2 965.6,968.1 632.5,968.4 767.9,967.2 675.3,968.2 885.2,968.1 857.6,968.9 758.6,969.7 916.4,970.4 1035,970.5 594.7,967.8 1038.9,968.9"/><polyline class="FE41A1C" points="1024.7,967.9 1069.4,969.8 786.9,967.5"/><polyline class="Fb04020" points="1015.2,970 965.2,970.2 846,970.3 909.5,969.8 1044.5,969.1 783.1,969.9 647.3,968.4 648.9,968 765.3,968.9 614.9,967.7 922.5,970.5 1035.2,967.1 585.1,967.6"/>
<polyline class="P984EA3" points="586.9,963.1 587,961.7 586.8,959.1 586.8,956.8 586.9,954.6"/><polyline class="PFFFF33" points="605.5,963.1 605.4,960.8 605.5,958.9 605.5,956.9 605.5,955.6 605.4,953.4 605.5,951.7 605.5,950.8 605.5,933.7 605.5,930.6"/><polyline class="PE41A1C" points="612.9,966.2"/><polyline class="P4DAF4A" points="612.9,962.2"/><polyline class="P984EA3" points="621.9,963.1 621.9,961.6"/><polyline class="PFF7F00" points="629.8,963.1"/><polyline class="P984EA3" points="666.6,963.1 666.5,960.9 666.5,960.1 688.1,963.1 688.1,962 688.4,960.4 688.2,958.9 688.2,957.7"/><polyline class="PE41A1C" points="688.2,967"/><polyline class="PFFFF33" points="693,966.2 693,964.7"/><polyline class="PFF7F00" points="697.3,963.1 697.2,961.1 697.2,959.9 697.4,958.1 697.4,956.9 697.4,955.4"/><polyline class="P4DAF4A" points="697.6,955.4 697.6,953.5 697.4,952.3"/><polyline class="PFF7F00" points="707.1,961.6 706.8,960 706.9,958.5 706.9,956.4 707.1,955.2 706.9,953.7 706.8,952.2 707,950.5 707,947.6"/><polyline class="P984EA3" points="712.4,963.1"/><polyline class="PFFFF33" points="730.9,963.1 731,961.9 730.8,960.3 730.8,958.4 730.9,957 730.8,955.4 731,952.9 730.9,950.8 730.9,930.6 730.9,927.5 752.5,966.2 752.5,963.8 752.5,961.8 752.6,960.1 752.3,958 752.3,956.6 752.5,954.1 752.3,951.7 752.3,949.8 752.5,948.4 752.4,946.9 752.2,945.7 752.3,943.8 752.5,942.7 752.2,939.5 752.4,936.4 752.3,932 752.4,930.6 752.4,918.2 752.4,915.1 752.4,913.6 752.4,896.5 752.6,893.5 752.3,891.3 752.6,888 752.2,883.6 752.6,879.6 752.4,875.1 752.5,872.7 752.5,868.7 752.4,864.9 752.4,860.9"/><polyline class="PFF7F00" points="766.1,963.1 766.3,960.3"/><polyline class="P984EA3" points="766.2,957 766.2,954.8"/><polyline class="PFF7F00" points="766.1,950.8 766.3,947.3 766.1,945 766.1,942.5 766,938.9"/><polyline class="P984EA3" points="769,933.7 769,930.6 769,924.4"/><polyline class="PFF7F00" points="779.7,963.1 779.9,960.7 779.8,959.3 780.1,956.8 780,954.3 779.9,951.8 780,950.6 779.9,949.2 785.3,963.1"/><polyline class="P4DAF4A" points="785.3,959.2"/><polyline class="PFF7F00" points="785.2,956.2"/><polyline class="P222222" points="785.4,954.1"/><polyline class="P4DAF4A" points="785.2,951.3"/><polyline class="PFF7F00" points="785.1,948.9 785.1,944.5 785.1,940.8"/><polyline class="P4DAF4A" points="785.2,936.6"/><polyline class="P222222" points="785.4,933.6"/><polyline class="PFF7F00" points="785.1,931.5 785.2,927"/><polyline class="P222222" points="785.3,924.6"/><polyline class="PFF7F00" points="785.3,922.4 785.4,919.1"/><polyline class="P222222" points="785.4,915.3 785.3,913.1"/><polyline class="P984EA3" points="785.2,910.5"/><polyline class="PFF7F00" points="785.4,908.3"/><polyline class="P984EA3" points="785.1,904.2"/><polyline class="P222222" points="785.3,900.6"/><polyline class="P984EA3" points="785.3,897.2"/><polyline class="P4DAF4A" points="785.1,894.7"/><polyline class="PFF7F00" points="785.1,892 785.2,889.7 785.2,887.2"/><polyline class="P984EA3" points="800,957 800,955.4"/><polyline class="PFF7F00" points="808.7,963.1 808.8,961.4 808.9,959.4 808.9,958.1 808.8,956.4 808.8,955.3 808.9,953.7 808.9,951.3 808.9,948.8 808.8,946.2 808.9,945 809,943.7 809.1,941.3 808.9,939.9"/><polyline class="P4DAF4A" points="808.9,955.4"/><polyline class="PFF7F00" points="817.3,961.6"/><polyline class="P222222" points="844.9,957 845,954.4 844.9,952.3"/><polyline class="PFF7F00" points="844.9,963.1 867,967.8 867.2,965.9 867.1,964.1 867.2,962.5 866.9,960.6 867,959.2 867,956.9 867.3,954.9 866.9,953.7 867.1,951.9 867.1,950.3 867.3,949.1 867.1,947.8 866.9,945.7 867.1,944.3 867.1,942.6 867.3,940.4 867.1,938.3 867.1,936.2 867.1,935.2 875.7,961.6"/><polyline class="P984EA3" points="875.7,955.4"/><polyline class="P4DAF4A" points="891.8,967.8"/><polyline class="PFFFF33" points="892,965.8"/><polyline class="P4DAF4A" points="892.1,962.5"/><polyline class="PFF7F00" points="891.9,959.1 891.8,957.1"/><polyline class="PFFFF33" points="891.9,954.1"/><polyline class="P4DAF4A" points="892,950.7"/><polyline class="PFFFF33" points="891.7,948.5"/><polyline class="PFF7F00" points="892.1,945.1"/><polyline class="PFFFF33" points="892,942.5"/><polyline class="P4DAF4A" points="892.1,940.3"/><polyline class="PFF7F00" points="892,937.9"/><polyline class="P4DAF4A" points="891.7,935.3"/><polyline class="PFF7F00" points="891.9,933.3"/><polyline class="PFFFF33" points="892,930.6"/><polyline class="PFF7F00" points="891.7,927.3 891.8,922.8 891.7,918.2"/><polyline class="PFFFF33" points="892,915.4"/><polyline class="PFF7F00" points="891.9,913.2"/><polyline class="PFFFF33" points="892.1,911"/><polyline class="P984EA3" points="891.7,907"/><polyline class="PFF7F00" points="892.1,903.4"/><polyline class="P984EA3" points="891.9,902.7 891.8,900 892,896 891.7,892.4 891.8,889.5 891.9,885.3"/><polyline class="PFF7F00" points="891.9,881.7"/><polyline class="PFFFF33" points="891.9,881 891.8,878.2 891.9,874.1 891.9,871.8"/><polyline class="P377EB8" points="891.9,865.5 891.9,863.2"/><polyline class="P984EA3" points="891.9,859.3"/><polyline class="P4DAF4A" points="892,856.2 891.8,853.8 891.7,849.4"/><polyline class="PFF7F00" points="892.1,845.7"/><polyline class="P984EA3" points="892,843.8 892,839.4 891.9,835.4 892,831.6 891.9,827.7 891.9,826.8"/><polyline class="PFFFF33" points="891.9,821.8 912.2,963.1 912.2,960.1 960.8,963.1 960.9,960.8 961.1,958.3 960.9,955.4"/><polyline class="P4DAF4A" points="986,963.1 985.9,960.7 986.1,958.1 985.9,956.5 986,953.9"/><polyline class="PFFFF33" points="993.1,961.6 992.8,959.1 993,958 992.9,955.8 992.9,953.7 993.2,951.6 992.8,949.7 993.2,947.6 993.1,945.8 992.9,943.7 993,942 993,938.2 993,935 993.2,931.6 992.8,927.6 993.2,923.7 993,919.9 993.2,916 993,912"/><polyline class="PFF7F00" points="993,887.2 993,884.9 993,882.6"/><polyline class="P984EA3" points="993,895 993,879.5 993,832 993,822.1"/><polyline class="P4DAF4A" points="993,868.6 993,865.5 993,864 993,855.7"/><polyline class="PFF7F00" points="1008.2,967.8"/><polyline class="PFFFF33" points="1008.2,965.5"/><polyline class="PFF7F00" points="1008.1,961.8 1008,958.7 1008.3,954.8 1008,951.2 1008.1,947"/><polyline class="PFFFF33" points="1007.9,943.8"/><polyline class="PFF7F00" points="1008,940.4"/><polyline class="PFFFF33" points="1008.3,937.9 1008.3,934.3"/><polyline class="PFF7F00" points="1008,930 1008,927.3 1008.2,922.9 1008.1,912"/><polyline class="PFFFF33" points="1008.1,908.9 1008.1,895.6"/><polyline class="P377EB8" points="1008.1,890.3 1008.1,878.7"/><polyline class="PFFFF33" points="1013.2,963.1 1013.6,961.4 1013.3,959.6 1013.4,958 1013.4,955.4 1013.4,934.5 1030.9,961.6 1030.7,959.7 1030.9,957.6 1030.9,956.2 1030.8,955.4"/><polyline class="P984EA3" points="1030.8,963.1"/><polyline class="PFF7F00" points="1040,963.1 1040,961.6"/><polyline class="P984EA3" points="1057,959.3"/><polyline class="PFFFF33" points="1072.6,967.8 1072.4,964.5"/><polyline class="P377EB8" points="1072.7,961.6 1072.5,958.7 1072.3,955.7"/><polyline class="PFFFF33" points="1072.7,952"/><polyline class="P377EB8" points="1072.6,949.1"/><polyline class="P984EA3" points="1072.7,945"/><polyline class="PFFFF33" points="1072.4,941"/><polyline class="P377EB8" points="1072.6,938.6"/><polyline class="P4DAF4A" points="1072.6,935.6"/><polyline class="PFFFF33" points="1072.4,931.6"/><polyline class="P4DAF4A" points="1072.6,928.2"/><polyline class="P984EA3" points="1072.3,924.5"/><polyline class="P377EB8" points="1072.5,922.2"/><polyline class="P4DAF4A" points="1072.5,917.8"/><polyline class="P984EA3" points="1072.5,915.3"/><polyline class="P4DAF4A" points="1072.6,913.3"/><polyline class="PFFFF33" points="1072.4,909.2"/><polyline class="P4DAF4A" points="1072.5,904.7"/><polyline class="P984EA3" points="1072.5,901.5"/><polyline class="PFFFF33" points="1072.5,896.5"/><polyline class="P4DAF4A" points="1072.5,854.6 1072.5,853.1 1072.5,840.9"/>
<polyline class="CE41A1C" points="595.5,971.9 710.4,971.5 771.8,971.6 868.8,971.9"/><polyline class="CFF7F00" points="630.1,971.7 657.2,971.7 673.9,972 701,972.1 712.2,972 785.8,971.6 814.3,971.5 848.7,971.6 865.2,972.1 870.9,971.7 908.7,971.6 967.3,971.7 1032.1,971.5 1045,971.6"/><polyline class="Cb04020" points="618.8,971.7 634.5,971.8 724,971.5 751.7,971.9 764.8,971.9 792.4,972 798.5,971.6 840.4,971.6 890.9,971.7 896.8,972.2 927.2,971.8 950.7,972 965.8,971.6 988.8,972 1014.9,971.9 1051.1,971.6 1056.3,971.7"/><polyline class="Ca0a030" points="584,971.7 586.9,971.5 592.9,971.7 621.3,971.9 624,971.8 631.7,972.1 646.3,971.6 653.6,971.7 666.2,972.1 713.8,972.1 716.6,972.1 718.3,971.8 727.4,972 729.3,971.7 741.6,971.7 745,971.6 755.7,972 762.2,971.8 767.6,971.7 782.9,971.5 795.6,971.9 800.5,971.7 809,972.1 818,972.1 820.8,971.8 823.4,972 827.5,972 834.8,971.9 836.7,972.1 844.3,971.9 860.6,972 872.9,971.8 875.8,971.8 885.4,972.1 887.4,972.1 898.7,971.8 901,971.7 906.6,971.8 932.7,971.8 964.1,972.2 987.1,972.1 992.7,971.7 1004.9,972 1009,971.6 1036,971.9 1041.4,971.9 1066.5,971.7 1072.5,972"/><polyline class="CFFFF33" points="580.3,971.7 590.1,971.7 597.6,971.6 607.7,972 611.6,971.6 613.8,971.9 617.1,972.1 625.7,971.6 627.8,972.1 643.3,971.6 650.1,972.2 655.1,971.9 659,971.6 662.3,971.7 667.8,971.5 671.1,971.6 676.2,971.5 679.6,972.1 681.2,971.5 682.8,971.6 686.2,972 688.6,971.7 690.8,971.6 694.1,972 696,971.6 698.9,971.7 703.9,972.1 706.4,971.6 708.7,971.9 721.7,972.1 732.5,972 735,972.2 736.8,971.8 740,971.6 748.7,972.1 753.5,971.6 759.4,971.5 769.2,971.7 774.3,972.1 777.4,972.1 781.1,971.9 789.2,971.9 803,971.9 806.8,971.5 811,971.6 825,972.1 831,972.1 846.5,971.6 862.6,971.9 878.4,971.6 882.1,971.5 893.1,971.6 894.7,972 904.3,971.7 911.2,971.6 913.4,971.8 916.4,971.5 919.4,972.2 921,971.7 924.3,971.6 930.3,971.7 935.5,971.9 944.7,971.8 947.8,971.8 954,972 969.9,971.7 982.4,971.7 985.6,972 995.3,972 1006.7,971.9 1012.4,972.1 1017.6,972.1 1021.2,972.1 1024.6,971.5 1027,971.9 1028.5,971.9 1034.1,972 1038.1,972.1 1047.3,971.6 1054.3,971.7 1070.3,971.8"/><polyline class="CE41A1C" points="706,972.1 823,971.8 838.2,972 898.6,971.6 936,971.8"/><polyline class="CFF7F00" points="580.9,971.7 613.1,971.6 628.7,971.6 642.9,972 652.4,972.1 763.4,971.7 788.1,971.9 811.9,971.9 835,971.7 882,971.5 892.5,971.5 910.3,972 923.9,971.9 926,972.1 1014.2,971.7 1045,971.5"/><polyline class="Cb04020" points="586.3,972.1 594.4,971.5 596.5,972 621.9,972.2 649.3,971.8 672.4,971.6 675.5,972 722.3,971.9 724.1,971.6 731.2,972.1 749.8,971.8 767.2,971.6 784.4,971.7 798.4,971.9 817.4,972.1 861.8,971.8 895.7,971.9 907.6,971.9 913.7,971.6 928.7,972 951,971.6 1008.6,971.8 1012.2,971.6 1018.3,971.8 1027,972 1029,971.6 1048.7,971.6 1053.5,971.6 1069.8,971.8"/><polyline class="Ca0a030" points="610.9,971.8 678.5,972.1 682.3,971.5 689.1,971.7 698.2,972.1 700.2,972.1 702.6,971.6 714.5,971.7 718,972.1 727.8,971.7 738.3,971.8 741.3,972.1 746,972.1 756.5,971.6 759.7,971.9 770.7,972.2 791.6,972 801.2,972.1 804.4,971.7 826.6,972 841.7,972.1 858.6,972 872.9,972.1 878.8,971.7 884.3,972.1 886.5,972 888.9,971.7 901.8,972.2 921.5,971.7 947.8,971.9 953.8,971.5 967.3,971.7 968.9,972 988,971.7 990.7,971.8 995.1,971.5 1010.4,971.6 1031.8,972 1040.2,972.1 1046.8,972.2 1050.5,972 1056.8,972.2 1066.9,971.6"/><polyline class="CFFFF33" points="583.2,971.5 588.2,971.8 590.1,972 592.5,971.7 607.3,972.1 616,971.5 618.2,971.6 625.8,971.7 632.1,971.9 634.6,971.6 641.2,972.1 645.1,971.6 647.7,971.7 655.4,972.1 657.1,971.9 660.6,971.6 664.1,972.2 667.2,971.7 670.8,971.9 684.1,971.7 687.3,971.6 691.7,971.6 694.5,971.6 704.3,972 708.7,971.9 712.1,971.7 720.6,971.6 734.9,971.6 743.9,971.8 753.5,972.2 761.4,972 774.3,971.9 776.9,971.5 780.7,971.8 795.1,971.9 806.6,971.8 809.4,972.2 813.8,972 819.3,971.7 821.1,971.8 829.8,972.1 832.5,971.9 845.1,971.5 848.9,972 860.3,971.8 865.1,971.6 867,972.1 869.3,972 875.1,972 877.3,972.1 903.6,971.8 905.5,971.9 915.7,972 918.9,972.1 932.3,972 944.5,971.6 964,971.9 971.2,971.8 973.3,972.1 982.3,972 984.8,971.5 992.5,971.7 1004.8,971.9 1015.7,972 1020.1,971.9 1023.2,971.8 1035.3,971.8 1038.1,971.7 1043.5,971.5 1065,971.9 1072.6,972.2"/><polyline class="CE41A1C" points="615.7,972.1 673.5,972.1 679.3,971.5 711.8,971.6 771.4,972 821.8,971.6 872.7,972.1 876.5,971.6 908.2,971.9 911.1,971.8 919.7,971.7 988.2,972.1 1010.4,972.2 1016.9,971.6"/><polyline class="CFF7F00" points="590.5,972 628.9,971.6 670.7,971.8 715.6,971.9 782.8,971.8 805.6,971.5 840.2,971.9 895.7,972 934.9,971.9 965.8,972.2 1069.3,972.2 1071.1,971.9"/><polyline class="Cb04020" points="584.4,972 609.6,972.1 626.1,972 647.3,972.1 683,971.8 691.9,972.1 709.5,972.1 738.4,971.6 773.7,972.1 791.3,972.1 838.1,971.6 859.3,971.8 870.3,971.6 900.4,971.6 927.8,972 963.4,971.9 1029.8,972.1 1031.5,971.6 1040.1,971.8 1053.3,972"/><polyline class="Ca0a030" points="580.8,971.6 587.9,971.8 623.2,972.1 632.5,972 665.4,972 696.3,971.6 703.4,971.7 718.5,972.2 721.4,971.7 735.1,971.6 740.3,972 742.1,971.8 755.5,971.6 757.5,971.7 768,972.2 778.5,971.7 825.4,971.5 836.1,971.9 903.9,971.7 946.1,972 954.9,971.9 995.1,971.9 1013.4,972 1042.2,971.7 1044.2,971.7 1048,972.2"/><polyline class="CFFFF33" points="594.1,971.6 596.8,971.7 606.1,971.8 612.9,971.5 619.4,971.6 642.1,971.9 643.7,972.1 649.2,971.6 651.7,972 655,971.7 657.9,971.7 661.7,971.6 668.8,971.9 675.6,972.1 685.5,971.9 688.2,971.7 694.7,971.5 699.9,972.1 706.6,971.8 724.4,972.1 726.4,972.1 729.3,972 731.9,971.7 745.4,972.1 748.1,971.8 752,972 761.3,972 764.9,971.5 776.9,971.7 780.4,971.8 785.4,971.8 788.5,972 793.3,971.8 795.9,971.9 798.1,971.9 800,971.6 803.3,972.1 808.9,971.5 812.3,971.9 815.7,971.7 818,972.1 828.5,972.1 830.4,971.7 833.2,971.7 843.5,972 845.7,971.8 848.1,971.8 857.3,971.9 861.6,972.1 865.4,972 867.8,972.1 878.9,972.1 882.8,971.8 884.6,972 887.5,971.9 890.7,972.1 892.9,971.7 898.4,971.5 906.6,972.1 913.1,971.8 916.2,972 923.3,971.5 926.3,972 931.7,971.9 943.5,971.8 948.8,971.8 951.9,971.6 967.9,971.5 970.8,971.9 985.1,972.1 989.7,971.8 992.3,971.7 1004.5,971.6 1006.6,971.7 1015.3,972.1 1018.6,972.1 1020.9,971.7 1024.3,971.6 1026.4,972.1 1034.5,972 1036.6,971.5 1051.2,971.8 1065.9,972.2 1072.8,971.7"/>
<line class="segC" x1="605.5" y1="922.8" x2="605.5" y2="929"/>
<line class="segC" x1="688" y1="950.3" x2="697" y2="953.5"/>
<line class="segC" x1="718" y1="934.3" x2="709" y2="944"/>
<line class="segC" x1="785.2" y1="878.9" x2="785.2" y2="885"/>
<line class="segC" x1="808.7" y1="929.7" x2="808.9" y2="937"/>
<line class="segC" x1="867.1" y1="922.8" x2="867.1" y2="929"/>
<line class="segC" x1="868" y1="946.8" x2="875" y2="955"/>
<line class="segC" x1="891.9" y1="815.1" x2="891.9" y2="821"/>
<line class="segC" x1="946" y1="950.4" x2="958" y2="954"/>
<line class="segC" x1="973" y1="937.2" x2="989" y2="941"/>
<line class="segC" x1="993" y1="815.1" x2="993" y2="821"/>
<line class="segC" x1="1013.2" y1="917" x2="1013.4" y2="935"/>
<line class="segC" x1="1034" y1="899.4" x2="1031" y2="955"/>
<line class="segC" x1="1039" y1="952.3" x2="1040" y2="958"/>
<line class="segC" x1="1070" y1="935.4" x2="1058" y2="957"/>
<line class="segC" x1="1070" y1="833.2" x2="1072.5" y2="839"/>
<text class="dv gl" text-anchor="middle" x="605.5" y="920.1">VHLL</text>
<text class="dv gl" text-anchor="middle" x="667.7" y="947.8">ZDHHC19</text>
<text class="dv gl" text-anchor="middle" x="717.2" y="931.7">KIT</text>
<text class="dv gl" text-anchor="middle" x="785.2" y="876.2">HBS1L</text>
<text class="dv gl" text-anchor="middle" x="808.5" y="927">EPO</text>
<text class="dv gl" text-anchor="middle" x="867.1" y="920.1">ABO</text>
<text class="dv gl" text-anchor="middle" x="866.4" y="944.4">TMEM72</text>
<text class="dv gl" text-anchor="middle" x="891.9" y="812.4">OR52E2</text>
<text class="dv gl" text-anchor="middle" x="923.8" y="952.5">PSMB5</text>
<text class="dv gl" text-anchor="middle" x="964.8" y="934.7">PRC1</text>
<text class="dv gl" text-anchor="middle" x="993" y="812.4">LUC7L</text>
<text class="dv gl" text-anchor="middle" x="1014.1" y="914.3">FAM222B</text>
<text class="dv gl" text-anchor="middle" x="1034.3" y="896.9">C18orf25</text>
<text class="dv gl" text-anchor="middle" x="1038.4" y="949.7">GCDH</text>
<text class="dv gl" text-anchor="middle" x="1072.9" y="932.8">RBM38</text>
<text class="dv gl" text-anchor="middle" x="1070.2" y="830.5">KCTD17</text>
<text class="dv ttl" x="1302.6" y="789">Renal / electrolytes</text>
<rect class="bord" x="1302.4" y="799.2" width="545" height="181.3"/>
<line class="tick" x1="1299" y1="946.5" x2="1302.4" y2="946.5"/>
<text class="dv tC" text-anchor="end" x="1296.2" y="950">10</text>
<line class="tick" x1="1299" y1="909.2" x2="1302.4" y2="909.2"/>
<text class="dv tC" text-anchor="end" x="1296.2" y="912.8">20</text>
<line class="tick" x1="1299" y1="872" x2="1302.4" y2="872"/>
<text class="dv tC" text-anchor="end" x="1296.2" y="875.5">30</text>
<line class="tick" x1="1299" y1="834.8" x2="1302.4" y2="834.8"/>
<text class="dv tC" text-anchor="end" x="1296.2" y="838.2">40</text>
<text class="dv aC" style="font-size:12px" text-anchor="middle" transform="translate(1274.4 890.6) rotate(-90)">−<tspan dx="2.2">log</tspan><tspan font-size="8.6" dy="3.3">10</tspan><tspan dy="-3.3"> P</tspan></text>
<line class="tick" x1="1347.3" y1="980.5" x2="1347.3" y2="984.1"/>
<text class="dv tC" text-anchor="middle" transform="translate(1354.7 993.1) rotate(-90)">1</text>
<line class="tick" x1="1389.5" y1="980.5" x2="1389.5" y2="984.1"/>
<text class="dv tC" text-anchor="middle" transform="translate(1396.9 993.1) rotate(-90)">2</text>
<line class="tick" x1="1429.3" y1="980.5" x2="1429.3" y2="984.1"/>
<text class="dv tC" text-anchor="middle" transform="translate(1436.7 993.1) rotate(-90)">3</text>
<line class="tick" x1="1460.9" y1="980.5" x2="1460.9" y2="984.1"/>
<text class="dv tC" text-anchor="middle" transform="translate(1468.3 993.1) rotate(-90)">4</text>
<line class="tick" x1="1494.7" y1="980.5" x2="1494.7" y2="984.1"/>
<text class="dv tC" text-anchor="middle" transform="translate(1502.1 993.1) rotate(-90)">5</text>
<line class="tick" x1="1521" y1="980.5" x2="1521" y2="984.1"/>
<text class="dv tC" text-anchor="middle" transform="translate(1528.4 993.1) rotate(-90)">6</text>
<line class="tick" x1="1552.2" y1="980.5" x2="1552.2" y2="984.1"/>
<text class="dv tC" text-anchor="middle" transform="translate(1559.6 993.1) rotate(-90)">7</text>
<line class="tick" x1="1576.8" y1="980.5" x2="1576.8" y2="984.1"/>
<text class="dv tC" text-anchor="middle" transform="translate(1584.2 993.1) rotate(-90)">8</text>
<line class="tick" x1="1605.2" y1="980.5" x2="1605.2" y2="984.1"/>
<text class="dv tC" text-anchor="middle" transform="translate(1612.6 993.1) rotate(-90)">9</text>
<line class="tick" x1="1627.8" y1="980.5" x2="1627.8" y2="984.1"/>
<text class="dv tC" text-anchor="middle" transform="translate(1635.2 993.1) rotate(-90)">10</text>
<line class="tick" x1="1649.9" y1="980.5" x2="1649.9" y2="984.1"/>
<text class="dv tC" text-anchor="middle" transform="translate(1657.3 993.1) rotate(-90)">11</text>
<line class="tick" x1="1673.7" y1="980.5" x2="1673.7" y2="984.1"/>
<text class="dv tC" text-anchor="middle" transform="translate(1681.1 993.1) rotate(-90)">12</text>
<line class="tick" x1="1696.5" y1="980.5" x2="1696.5" y2="984.1"/>
<text class="dv tC" text-anchor="middle" transform="translate(1703.9 993.1) rotate(-90)">13</text>
<line class="tick" x1="1716.6" y1="980.5" x2="1716.6" y2="984.1"/>
<text class="dv tC" text-anchor="middle" transform="translate(1724 993.1) rotate(-90)">14</text>
<line class="tick" x1="1734.2" y1="980.5" x2="1734.2" y2="984.1"/>
<text class="dv tC" text-anchor="middle" transform="translate(1741.6 993.1) rotate(-90)">15</text>
<line class="tick" x1="1749.7" y1="980.5" x2="1749.7" y2="984.1"/>
<text class="dv tC" text-anchor="middle" transform="translate(1757.1 993.1) rotate(-90)">16</text>
<line class="tick" x1="1764.2" y1="980.5" x2="1764.2" y2="984.1"/>
<text class="dv tC" text-anchor="middle" transform="translate(1771.6 993.1) rotate(-90)">17</text>
<line class="tick" x1="1778.4" y1="980.5" x2="1778.4" y2="984.1"/>
<text class="dv tC" text-anchor="middle" transform="translate(1785.8 993.1) rotate(-90)">18</text>
<line class="tick" x1="1790" y1="980.5" x2="1790" y2="984.1"/>
<text class="dv tC" text-anchor="middle" transform="translate(1797.4 993.1) rotate(-90)">19</text>
<line class="tick" x1="1801" y1="980.5" x2="1801" y2="984.1"/>
<text class="dv tC" text-anchor="middle" transform="translate(1808.4 993.1) rotate(-90)">20</text>
<line class="tick" x1="1811.6" y1="980.5" x2="1811.6" y2="984.1"/>
<text class="dv tC" text-anchor="middle" transform="translate(1819 993.1) rotate(-90)">21</text>
<line class="tick" x1="1819.8" y1="980.5" x2="1819.8" y2="984.1"/>
<text class="dv tC" text-anchor="middle" transform="translate(1827.2 993.1) rotate(-90)">22</text>
<text class="dv aC" text-anchor="middle" x="1574.9" y="1012.5">Chromosome</text>
<text class="dv lgt" x="1893.5" y="841.3">Phenotype</text>
<g class="lg"><circle cx="1903.1" cy="858.9" r="3" fill="#E41A1C"/><circle cx="1903.1" cy="878.9" r="3" fill="#377EB8"/><circle cx="1903.1" cy="898.8" r="3" fill="#4DAF4A"/><circle cx="1903.1" cy="918.8" r="3" fill="#984EA3"/><circle cx="1903.1" cy="938.8" r="3" fill="#FF7F00"/></g>
<text class="dv lgl" x="1919.7" y="862.6">Creatinine</text>
<text class="dv lgl" x="1919.7" y="882.6">Serum Cl</text>
<text class="dv lgl" x="1919.7" y="902.5">Serum K</text>
<text class="dv lgl" x="1919.7" y="922.5">Serum NA</text>
<text class="dv lgl" x="1919.7" y="942.5">Urea</text>
<polyline class="FE41A1C" points="1611.1,967.3 1511.2,958.4 1331.6,961.9 1699.6,964.9 1650.3,966.7 1416.7,960.4 1375.5,954.8 1800.2,961.5 1741.5,967.5 1793.3,958.9 1493.8,961.5 1423.3,967.2 1437.8,967.3 1656.1,959.4 1765.9,967.1 1524,957.6 1682.6,966.4 1690.7,967 1616.5,965.5 1357.7,963.9 1697.1,961.5 1548.4,967.5 1500.3,967.3 1442.3,967.3 1420.6,957.5 1337.6,966.6 1547.2,956 1396.5,965.1 1583.2,967.3 1813.5,960.1 1338,956.9 1618.5,957.9 1732.8,966.2 1733.4,960.6 1633.2,962.8 1672,966.9 1611.3,967.5 1426.6,957.6 1680.1,965.9 1534.3,966.8 1671.5,967.4 1448.1,967.5 1735.4,956.7 1556.7,957.2 1401.2,967.5 1505.5,958.2 1400.7,955.5 1463.5,963.1 1700,964.7 1578.2,956.2 1632.5,967.5 1702.9,961.8 1397.1,967.5 1487.5,960.2 1333.2,958.7 1693.4,959.9 1353.7,958.3 1483.7,967.5 1438,965.6 1378.8,967.5 1647,962.9 1391.4,966.6 1577.5,967.4 1717,961.6 1449.4,967.5 1555.9,959.1 1428.2,966.8 1635.8,967.5 1429,957.6 1695.6,960.3 1755.1,962.7 1432.8,957.9 1447.5,961.8 1451.6,958.6"/><polyline class="F4DAF4A" points="1652.4,954 1566,959.8 1354.7,966 1652.1,966.6 1447.3,965.9 1483,966.9 1564.1,956.8 1611.3,967.5 1802.4,964.1 1664.8,967.2 1552.4,967.2 1607.7,965.9 1470.3,963.6 1593.7,967.3 1788.2,963.1 1786.1,966 1680.9,958.5 1658.8,967 1462.5,967.2 1485.3,967.4 1782.3,967.4 1510.3,963.4 1584.8,960.6 1621.7,964.4 1626.8,966.6 1535.1,965.4 1501.8,963.6 1329,967.3 1639.8,959.9 1369.9,965.9 1653.5,967.5 1760,961.9 1821.4,966.7 1702.6,961.5 1641.9,960.5 1774.6,954.5 1521.4,965.1"/><polyline class="F984EA3" points="1533.1,959.2 1390.7,967.5 1360.2,967.1 1713.9,966.1 1364.4,964.8 1381.3,962.1 1613.4,965.3 1494.2,966.9 1550.7,967.5 1656.2,965.6 1452.4,965.5 1529.1,960.1 1720,963 1525.6,967.4 1567.7,960.4 1778.7,965.4 1354.4,966.2 1401.4,966.8 1630.5,966.6 1714.5,961.4 1627.5,967.4 1676.8,966.8 1328.3,964.5 1486.1,956.7 1633,967.4 1680.5,959.2 1396.8,967.2 1734.1,961.1 1732.8,967.5 1778.3,960.9 1567.1,954.4 1339.2,966 1377.6,955 1719,960.8 1335.1,966.2 1624.1,967.2 1821.2,967.5 1501.3,967.5 1778.3,966.4 1772.6,959 1415.9,962.4 1618.2,965.3 1765.3,965.2 1665.9,962.7 1763.4,967.5"/><polyline class="F377EB8" points="1528.5,955.3 1345,967.3 1651.8,966.4 1621.8,959.1 1506.3,957.8 1340.7,966.5 1670.5,963.3 1462.8,954.9 1802.1,955.3 1750.5,961.7 1493.9,966.9 1622.8,963.6 1606.3,960 1639.8,967.1 1626.1,961.7 1547.6,966.5 1445.1,963.4 1380.2,965.5 1428.4,960.3 1642,964"/><polyline class="F999999" points="1632,964.3 1717.8,962.2 1693.3,967.4 1467.3,955.2 1570.7,967.4 1403.7,962.4 1494.8,963.3 1799.4,966.5 1401,967.5 1434.5,967.4 1532.2,964.6 1659.1,965.5 1732.6,955.6 1615.1,961.1 1628.9,967.4 1496.8,965.7 1509.1,966.2 1456.5,954.7 1614.8,964.7 1730.3,966.9 1647.7,963.3 1646.4,961.5 1341.3,957.3 1658.1,967.5 1557.9,955.3 1681.1,966.4 1655.1,966.3 1668.8,967.5 1529.5,963.6 1507.4,957.6 1570.6,961.3 1624,965.6 1472.8,967.5 1475,963.1 1731.3,957.6 1428.6,954.3 1545.1,958.9 1629.9,967.1 1699,967.3 1477.7,966.5 1588.7,967.4 1442.6,960.2 1645.4,959.5 1770.3,961.6 1370,957.1 1500,966.4 1620.1,966.5 1477.5,956.9 1584.7,960.7"/><polyline class="FFF7F00" points="1360.7,963.8 1681,967.2 1589.7,960.5 1771.9,959.7 1449.3,967 1622.1,964.3 1691.1,964.8 1438.3,962.1"/>
<polyline class="PE41A1C" points="1352.8,950.2 1352.9,948.1 1352.9,946.5 1374,950.2 1374,948.8 1373.7,946.8 1374.1,944.8 1373.8,942.4 1373.9,940.9"/><polyline class="PFF7F00" points="1443.9,952.1 1444.1,950.8 1443.7,949 1443.7,947.3 1443.7,946.2 1443.8,943.8 1444.1,942.2 1443.8,939.8 1443.8,938.7 1444.1,936.9 1443.9,935.3 1485.4,950.2 1485,947.9 1485.1,946.7 1485.2,944.1 1485,942.1 1485.2,940.9"/><polyline class="P4DAF4A" points="1502.1,948"/><polyline class="PE41A1C" points="1509.1,950.2"/><polyline class="P377EB8" points="1513,961.4"/><polyline class="PE41A1C" points="1537.6,940.9 1537.6,938.5 1537.6,936.7 1537.7,935.2 1537.6,933.5 1537.7,931.5 1537.5,930.1 1537.6,929 1537.6,927.1 1537.8,924.9 1537.4,923.4 1537.5,921.8 1537.4,919.9 1537.4,918.5 1537.6,916.7 1552.5,950.2"/><polyline class="P4DAF4A" points="1639.6,891 1639.6,844.4"/><polyline class="PE41A1C" points="1644.2,941.3 1731,948 1730.9,945.5 1731,944.1 1731.1,942.1 1731.1,940.4 1731,938.5 1731.1,937.1 1730.9,934.9 1731.1,932.8 1730.9,931.6 1730.9,930.4 1731,929.2 1730.9,926.9 1731.2,924.5 1730.9,922.6 1730.8,921.3 1730.8,919.3 1730.9,917 1731.1,915.3 1731.1,913.8 1730.8,912.7 1731,911.9 1731,905.5 1731,901.8 1730.8,876.8 1731.1,874 1731.2,871.9 1731.1,869.3 1731,865.7"/><polyline class="P222222" points="1731,864.9"/><polyline class="P4DAF4A" points="1741,949.9"/><polyline class="P984EA3" points="1752.5,940.9 1752.5,939"/><polyline class="P4DAF4A" points="1756,942.8 1756,938.3 1756,917.4 1756,892.9 1756,870.5"/><polyline class="PE41A1C" points="1766.9,949.9 1766.9,927.1 1766.9,910.4"/><polyline class="P4DAF4A" points="1817.4,952.5"/><polyline class="PE41A1C" points="1820.6,961.4 1820.6,957.7"/>
<polyline class="B4DAF4A" points="1360.2,969.6 1389,970.8 1473,969.4 1521.7,971.5 1629.5,972.2 1674.7,971.3 1784.4,969.2"/><polyline class="B5a2a4a" points="1368.8,970.1 1430.2,972 1471.1,972.2 1563.1,968.7 1575.4,971.3 1578.6,970.1 1586.8,970.7 1592,970.8 1623.2,971.3 1633.3,972.2 1641.9,970.4 1652,972 1671.5,969.5 1677.6,969.7 1695.9,971 1699.5,971.3 1737.7,969.8 1767.8,971.2 1800.4,970.6"/><polyline class="BE41A1C" points="1328.4,970.9 1334.4,970.9 1338.7,971.1 1344.1,971.8 1358.3,971.1 1382.5,968.6 1395.3,971.7 1398.5,971.9 1411.1,972.1 1414.9,970.8 1420.6,972.1 1427.6,971.8 1435.1,968.8 1446.5,970 1451.7,971.4 1453.8,969.4 1455.5,972.3 1465.7,969.6 1481.1,969.3 1500.8,968.8 1503.2,971.5 1509.3,971.6 1511.9,971.2 1515.1,971.2 1518,971 1525.5,969.2 1527.5,971.9 1536.3,971.5 1537.8,970.1 1541.3,971.4 1552.5,970.5 1555.2,971.7 1571.7,969.4 1581.9,970.4 1584.4,971.3 1588.8,970.6 1593.8,969.8 1596.7,969.3 1606.9,971.8 1614,969.1 1620.7,969.3 1635.6,971.4 1662.3,971.5 1664.7,972.4 1693.5,970.4 1702.1,971.4 1712.2,971.4 1720.6,970.2 1740.9,971.7 1742.5,971.1 1762.5,972.1 1769.8,969.5 1780.6,969.3 1788,968.7"/><polyline class="B9a1a1a" points="1332,972 1336.7,971.6 1342.1,971.8 1346,971.1 1353.1,968.8 1355.1,969.7 1363,970.6 1366.5,971.3 1370.8,969.4 1374.3,970.1 1375.9,972 1379.4,971.7 1391.8,971.8 1402.1,972.2 1404.1,970.2 1406.2,970.3 1408.4,971.6 1417.7,971.9 1422.7,972 1424.6,970.8 1432.1,970.2 1437.5,969.8 1441,970 1444.7,970.9 1448.4,971.1 1458.3,969.7 1460.7,969.5 1463.1,971.5 1468.6,970.8 1476.6,971.2 1479.2,969.5 1484.4,971.7 1488.2,970.7 1490.9,969.9 1492.7,971.6 1495,970.5 1497.1,969 1506.9,971.7 1530.9,971.9 1532.8,971.6 1534.7,970.9 1542.9,971 1545.8,970.4 1547.8,969.1 1550.5,971.5 1557.6,969.6 1561.2,971.2 1566.1,972.4 1568.4,970.1 1610.6,970.3 1615.7,969.6 1618.6,969.2 1625.1,971.2 1627.5,969.3 1638.9,969.4 1645.6,970.6 1648.5,969 1655.7,972.2 1657.3,972 1660.6,970.1 1668.6,972 1679.1,971.6 1681.3,972 1691.1,971.6 1716,971.2 1718.7,968.8 1729.7,972.1 1731.2,969.7 1734.3,969.2 1753.8,971.2 1756.3,970.8 1757.9,969.2 1760.2,972.2 1764.6,971.1 1773.2,972.1 1775.9,969 1778.7,970.6 1782.2,972.1 1790.7,971.2 1794.5,969 1798.1,972.1 1803.1,972.3 1813.6,969.4 1816.8,970.3 1818.9,970.8 1820.8,970"/><polyline class="B4DAF4A" points="1506,970.5 1589,972.1 1655.1,969 1779.3,970.6"/><polyline class="B5a2a4a" points="1341.4,970.1 1370,971.6 1433,971.8 1473.3,969.5 1476.3,969.8 1481.6,971.8 1489.6,970.7 1495.5,969.5 1519.7,970.8 1525,969.7 1528.2,970.4 1551.3,970.8 1566.3,971.6 1571.3,970.3 1583.3,970.1 1586.9,971 1595.3,972.4 1611.8,969 1620.9,969.5 1647.1,971.7 1661.8,970.5 1691.4,970.4 1733.3,971.7 1735.6,969 1791.5,969.4"/><polyline class="BE41A1C" points="1328,969 1361,969 1367.3,970.2 1379,971.5 1392,971.3 1395.5,970.5 1397.5,969.8 1400.1,971.5 1404.8,972.3 1409.5,971.4 1420.8,969.8 1422.8,972.2 1440.4,972 1442.8,969.3 1446.5,971.7 1451.7,968.8 1461.5,971 1468.3,969.1 1483.1,971.1 1492.7,971.9 1509.4,970.3 1512.8,970.3 1534.5,971.5 1536.2,972 1553.1,970 1559.6,969.3 1568.2,971.6 1579.5,969.1 1591.9,969.9 1605.6,969.3 1610,971.1 1629.4,972.1 1644.5,968.7 1653.2,970.6 1663.5,970.5 1672.7,969.7 1693.2,968.7 1701.4,969.9 1704,971.8 1714.1,970.5 1715.9,970.3 1751.9,970.7 1754.7,970.1 1774.3,971.9 1776.4,968.7 1783.5,968.9 1785,969.7 1793.5,968.7 1802.8,972.1 1812.7,970 1814.3,969.2 1816,970.1"/><polyline class="B9a1a1a" points="1331.7,969.1 1334.9,969.7 1337.9,969.8 1343.7,971.9 1345.3,970.4 1354.2,970.9 1356,972 1358.3,971.9 1364.8,971.5 1372.5,971.7 1374,969.6 1376,971.2 1381.4,970.7 1390.5,972.2 1403.2,971.7 1406.4,969.5 1412.2,970.2 1414.5,970.2 1417.2,970.7 1424.7,969.3 1427.5,971.6 1431,970.6 1434.7,971.6 1438,969 1450.2,969.5 1454.2,972.1 1455.8,970.8 1458.9,969 1465.2,972.3 1470.5,970.9 1479.7,970.7 1486.6,971.5 1498.5,972.1 1501.6,972.1 1504.1,970.8 1516.4,970.6 1522.5,970.3 1531.3,970.4 1538.1,972.4 1541,970.1 1544,968.8 1547.5,971.9 1556,970.5 1562.9,972.4 1573.8,969.7 1576.7,970.8 1585.1,970.2 1608.1,968.8 1615.2,971.1 1619.1,972 1623,972 1625,969.4 1627,970.2 1632.5,970.6 1635.2,972.3 1637.8,969.1 1639.7,969.7 1641.3,971.2 1650.5,968.7 1658.9,970.7 1667.4,969.4 1670.2,971.9 1676.5,968.7 1679.6,971.6 1682.3,968.7 1696.3,970.5 1699.6,972 1718.9,971.7 1730,968.8 1737.6,971.1 1739.5,970.4 1741.6,970.4 1757.3,970.8 1760.4,971 1763.4,969.5 1765.6,971.9 1768.7,970.1 1770.4,969.5 1781.3,969.4 1787.8,972.1 1796.8,971.2 1800.1,971 1818.6,972.3 1820.6,971.5"/><polyline class="B4DAF4A" points="1399.2,968.7 1566.1,971.6 1662.5,971.7 1732.5,970.5 1771.1,971.8"/><polyline class="B5a2a4a" points="1371.9,971.9 1376.9,968.8 1393.6,970.2 1397,969.7 1405.3,969.2 1426,968.7 1430.6,969.8 1450.7,971 1513.7,970.3 1530.2,972.4 1546.3,972.2 1548.7,970.1 1552,972.4 1555.4,970.8 1563.5,968.8 1589.6,971.4 1611.9,970.4 1626,970.4 1635.2,972.4 1657.4,972.3 1672.9,970.7 1680.4,969.6 1699,970.3 1737.6,971.9 1774.6,970.6 1820.9,969.3"/><polyline class="BE41A1C" points="1328.7,969 1332,971.7 1335.5,968.9 1358.3,969.1 1362,970.3 1380.1,971.5 1407,971.9 1424.2,969.8 1428.2,971.9 1439.5,971.9 1443.4,969.4 1454.1,970.2 1460.8,970.6 1464.5,969.6 1466.1,971.5 1476.4,970.1 1483.8,972.2 1485.7,971.3 1490.9,970.7 1493.4,969.2 1499.6,968.8 1515.6,969.8 1519.1,972.2 1524.7,970.2 1544.7,972 1576,970.4 1579.4,972.4 1582.8,971.1 1586.6,970.9 1593.7,969.6 1595.7,969.5 1606.6,969.1 1613.9,969.1 1619.8,971.5 1637.1,969.2 1643.9,970.3 1646.1,970 1649.3,970.2 1652.4,971.9 1665.5,969.4 1670.4,969 1716,971 1742.2,969.2 1751.8,969.1 1753.6,970.8 1760.9,972.1 1776.1,968.8 1785.2,969.4 1804,970.5"/><polyline class="B9a1a1a" points="1339.1,968.8 1342.6,968.7 1355.3,970.7 1360.4,970.6 1365.4,969 1368.8,970.2 1375.3,970.4 1381.8,971.9 1391.4,972.3 1402.9,969.2 1409.4,969.5 1411.5,971.2 1415.1,970.3 1418.9,971.8 1422,969.5 1432.3,969.6 1434.2,968.8 1435.8,971 1445.5,970.9 1447.2,971.4 1457.1,971.4 1458.7,972.2 1468.7,970.1 1472.6,970.9 1480,971.2 1487.2,971.8 1488.9,971.1 1497.3,971.6 1501.9,970.1 1504.9,971.8 1507.8,972.1 1509.9,971.4 1511.6,972 1517.3,969.6 1521.6,970.6 1527,969.7 1532.4,971.4 1534.5,969.3 1538.3,970.1 1542.2,969.6 1557,972.1 1560.1,970.9 1562,969.4 1569.5,970.7 1572.7,971.9 1591.3,972.1 1609.6,969.2 1616.2,970.3 1617.7,971.8 1623.4,970.2 1629.6,971.7 1631.5,970.9 1640.9,969.2 1654.8,968.6 1660.5,972.4 1667.2,970.1 1676.7,971.1 1682.6,969.2 1693.1,971.7 1695.4,970.8 1702.6,971.5 1712.9,968.8 1719.5,971.3 1730.9,972.3 1734.7,968.7 1739.6,972.2 1755.1,970.5 1756.9,972 1759.2,972.3 1763.9,969 1767.5,972 1778.7,970.6 1781.3,970 1788.5,972.3 1790.4,971.9 1792.6,969.4 1796,971.5 1797.5,971.1 1801.1,971.7 1813.3,971.7 1815.3,970.1 1818,970.3"/>
<line class="segC" x1="1374.1" y1="912.2" x2="1373.9" y2="940"/>
<line class="segC" x1="1443.9" y1="903.8" x2="1443.9" y2="934"/>
<line class="segC" x1="1537.5" y1="884.9" x2="1537.6" y2="914"/>
<line class="segC" x1="1718" y1="829" x2="1730" y2="862"/>
<line class="segC" x1="1768.5" y1="845.7" x2="1757" y2="869"/>
<line class="segC" x1="1779" y1="884.6" x2="1768" y2="908"/>
<text class="dv gl" text-anchor="middle" x="1374.2" y="909.5">GCKR</text>
<text class="dv gl" text-anchor="middle" x="1443.9" y="901.1">LPP</text>
<text class="dv gl" text-anchor="middle" x="1537.2" y="882.2">SLC22A2</text>
<text class="dv gl" text-anchor="middle" x="1718.7" y="826.3">GATM</text>
<text class="dv gl" text-anchor="middle" x="1768.8" y="843">PIEZO1</text>
<text class="dv gl" text-anchor="middle" x="1778.5" y="881.9">TBX2</text>
</svg>
</body></html>
